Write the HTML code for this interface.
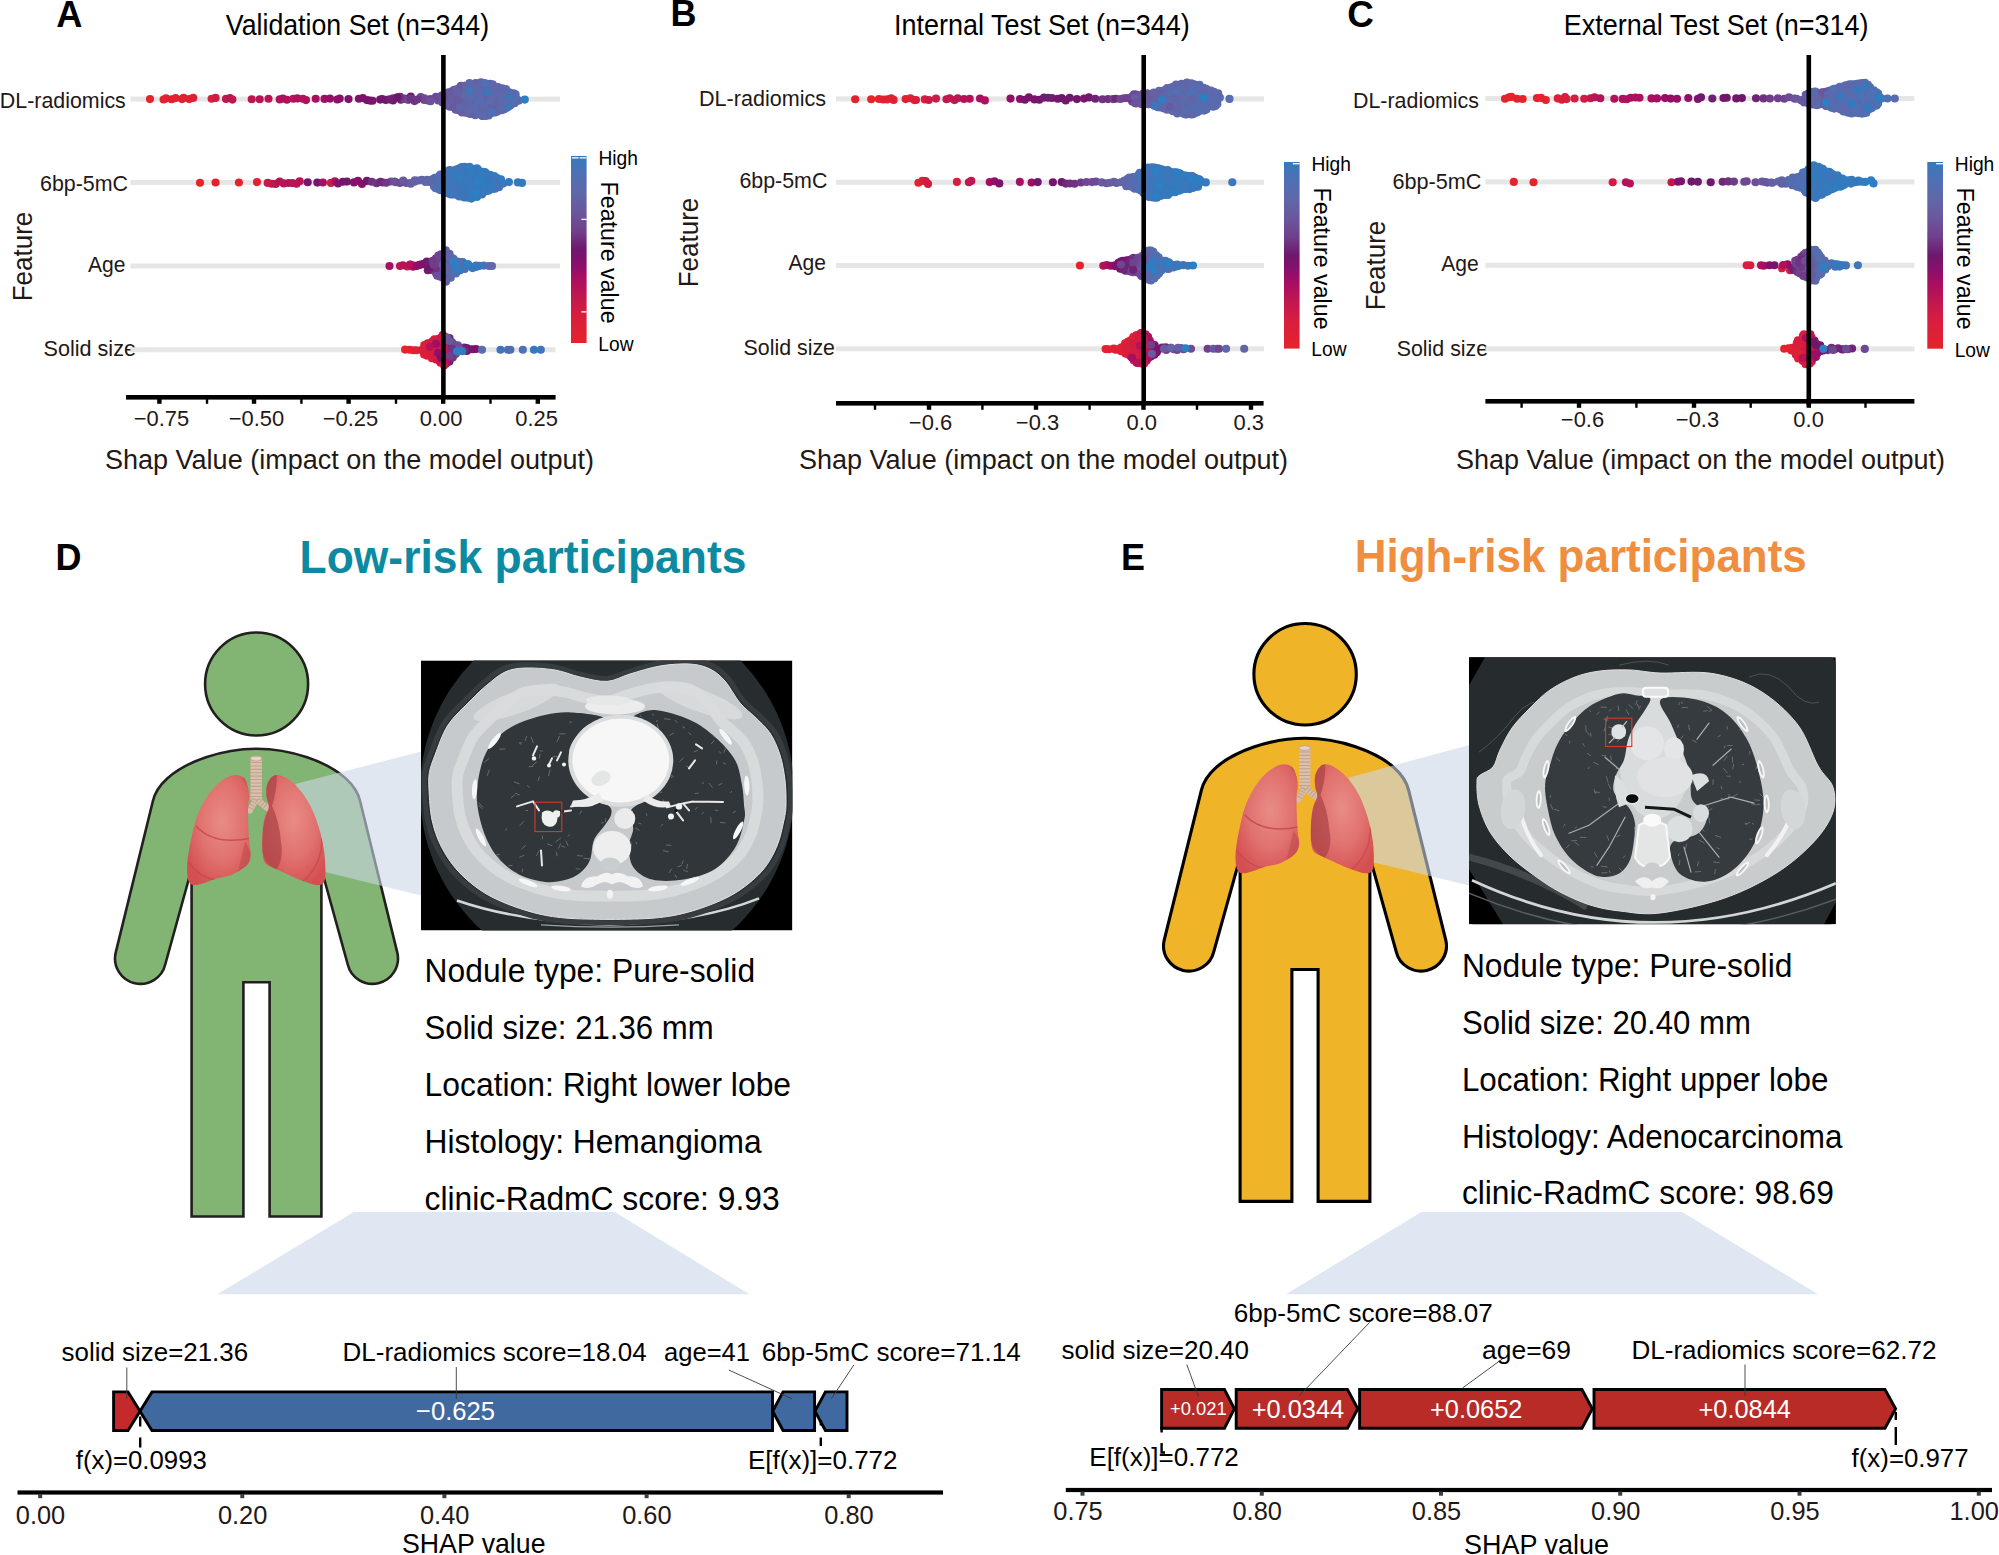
<!DOCTYPE html>
<html lang="en"><head><meta charset="utf-8"><title>SHAP analysis of the clinic-RadmC model</title>
<style>
html,body{margin:0;padding:0;background:#fff}
svg{display:block;font-family:"Liberation Sans", sans-serif}
.bw circle{r:4.05px}
</style></head>
<body>
<svg width="1999" height="1555" viewBox="0 0 1999 1555">
<rect width="1999" height="1555" fill="#fff"/>
<defs><radialGradient id="lgL" cx="0.55" cy="0.42" r="0.65"><stop offset="0" stop-color="#e98c86"/><stop offset="0.55" stop-color="#e0716e"/><stop offset="1" stop-color="#d44f50"/></radialGradient><radialGradient id="lgR" cx="0.5" cy="0.4" r="0.65"><stop offset="0" stop-color="#e98c86"/><stop offset="0.55" stop-color="#e0716e"/><stop offset="1" stop-color="#d44f50"/></radialGradient><clipPath id="clL"><path d="M235.9 775C239 775 242.1 775.9 244.1 778.1C246.1 780.3 247.3 785.1 248.2 788.4C249 791.6 249.2 794.7 249.2 797.6C249.2 800.5 248.4 801.8 248.2 805.9C248 810 248 816.1 248.2 822.3C248.4 828.5 248.8 837.8 249.2 842.9C249.6 848 250.8 850.1 250.8 853.2C250.8 856.3 250.3 859 249.2 861.4C248.1 863.8 247 865.4 244.1 867.6C241.2 869.8 236.5 872.9 231.7 874.8C226.9 876.7 219.9 877.5 215.3 878.9C210.7 880.3 207.6 882 204 883C200.4 884 196.3 885.4 193.7 885.1C191.1 884.8 189.6 883.8 188.5 881C187.4 878.2 187 873.2 187 868.6C187 864 187.6 859.2 188.5 853.2C189.4 847.2 191.2 838.6 192.6 832.6C194 826.6 194.9 822.4 196.8 817.2C198.7 812.1 201.1 806.7 204 801.7C206.9 796.7 210.7 791.2 214.3 787.3C217.9 783.4 222 780.1 225.6 778.1C229.2 776.1 232.8 775 235.9 775Z"/></clipPath><clipPath id="clR"><path d="M277 775C279.6 775 283 776.2 286.3 778.1C289.6 780 293.2 782.7 296.6 786.3C300 789.9 304 795.1 306.9 799.7C309.8 804.3 311.9 808.6 314.1 814.1C316.3 819.6 318.6 826.1 320.3 832.6C322 839.1 323.5 846.3 324.4 853.2C325.2 860.1 325.6 868.8 325.4 873.8C325.2 878.8 324.9 881.1 323.3 883C321.8 884.9 319.5 885.4 316.1 885.1C312.7 884.8 307.4 882.7 302.8 881C298.2 879.3 292.9 876.9 288.3 874.8C283.7 872.7 278.8 870.5 275 868.6C271.2 866.7 267.8 866.1 265.7 863.5C263.6 860.9 263.1 858.4 262.6 853.2C262.1 848.1 262.2 838.6 262.6 832.6C263 826.6 263.7 821.5 264.7 817.2C265.7 812.9 268.5 810.2 268.8 806.9C269.1 803.6 267.1 801 266.7 797.6C266.3 794.2 266 789.5 266.7 786.3C267.4 783 269.2 780 270.9 778.1C272.6 776.2 274.4 775 277 775Z"/></clipPath></defs>
<text x="56.2" y="27" font-size="37.51" font-weight="bold" textLength="26.2" lengthAdjust="spacingAndGlyphs">A</text><text x="670.6" y="26.3" font-size="37.51" font-weight="bold" textLength="26" lengthAdjust="spacingAndGlyphs">B</text><text x="1347.3" y="27" font-size="37.51" font-weight="bold" textLength="26.6" lengthAdjust="spacingAndGlyphs">C</text><text x="55.4" y="570" font-size="37.51" font-weight="bold" textLength="26" lengthAdjust="spacingAndGlyphs">D</text><text x="1121" y="570" font-size="37.51" font-weight="bold" textLength="24" lengthAdjust="spacingAndGlyphs">E</text>
<g><text x="225.8" y="35" font-size="29.18" textLength="263.3" lengthAdjust="spacingAndGlyphs">Validation Set (n=344)</text><text x="125.8" y="108" font-size="21.88" text-anchor="end" fill="#231815" textLength="126" lengthAdjust="spacingAndGlyphs">DL-radiomics</text><text x="128" y="191" font-size="21.88" text-anchor="end" fill="#231815" textLength="88" lengthAdjust="spacingAndGlyphs">6bp-5mC</text><text x="125.5" y="271.5" font-size="21.88" text-anchor="end" fill="#231815" textLength="37.5" lengthAdjust="spacingAndGlyphs">Age</text><text x="136" y="356" font-size="21.88" text-anchor="end" fill="#231815" textLength="92.5" lengthAdjust="spacingAndGlyphs">Solid size</text><text transform="translate(32,256.5) rotate(-90)" font-size="27.09" text-anchor="middle" fill="#231815" textLength="89.5" lengthAdjust="spacingAndGlyphs">Feature</text><rect x="130.4" y="96.6" width="429.6" height="5" fill="#e6e6e6"/><rect x="130.4" y="179.9" width="429.6" height="5" fill="#e6e6e6"/><rect x="130.4" y="263.5" width="429.6" height="5" fill="#e6e6e6"/><rect x="130.4" y="347.3" width="425.2" height="5" fill="#e6e6e6"/><g class="bw"><circle cx="150" cy="99.1" r="4.05" fill="#e5232b"/><circle cx="163.6" cy="99.5" r="4.05" fill="#e3222e"/><circle cx="166" cy="98.4" r="4.05" fill="#e2222f"/><circle cx="171.6" cy="99.2" r="4.05" fill="#e02132"/><circle cx="175.6" cy="98.1" r="4.05" fill="#e3222e"/><circle cx="182" cy="99.1" r="4.05" fill="#de2035"/><circle cx="183.6" cy="97.9" r="4.05" fill="#e02132"/><circle cx="189.2" cy="99.1" r="4.05" fill="#de2035"/><circle cx="193.2" cy="97.9" r="4.05" fill="#dd2037"/><circle cx="211.6" cy="98.7" r="4.05" fill="#da1f3c"/><circle cx="215.6" cy="97.9" r="4.05" fill="#cf1c44"/><circle cx="226" cy="98.9" r="4.05" fill="#c1184e"/><circle cx="230" cy="98" r="4.05" fill="#ba1654"/><circle cx="232.4" cy="99.6" r="4.05" fill="#be1751"/><circle cx="251.7" cy="99.3" r="4.05" fill="#bc1652"/><circle cx="259.7" cy="99.2" r="4.05" fill="#b61457"/><circle cx="268.5" cy="98.7" r="4.05" fill="#b91554"/><circle cx="279.7" cy="99.4" r="4.05" fill="#b0115c"/><circle cx="282.9" cy="98.5" r="4.05" fill="#ab0f60"/><circle cx="286.9" cy="99.7" r="4.05" fill="#b0115c"/><circle cx="293.3" cy="98.7" r="4.05" fill="#b61457"/><circle cx="297.3" cy="98.4" r="4.05" fill="#ac105f"/><circle cx="302.9" cy="98.7" r="4.05" fill="#b51358"/><circle cx="306" cy="100.1" r="4.05" fill="#b2125a"/><circle cx="315.7" cy="98.8" r="4.05" fill="#a70e62"/><circle cx="324.5" cy="98.9" r="4.05" fill="#a00e64"/><circle cx="330" cy="98.6" r="4.05" fill="#950f68"/><circle cx="337.3" cy="99.5" r="4.05" fill="#940f68"/><circle cx="339.7" cy="98.6" r="4.05" fill="#8b106a"/><circle cx="348.5" cy="99.1" r="4.05" fill="#80126c"/><circle cx="358.9" cy="98.8" r="4.05" fill="#7c136c"/><circle cx="362.9" cy="98.1" r="4.05" fill="#7c136c"/><circle cx="366.9" cy="100.1" r="4.05" fill="#7c136c"/><circle cx="370" cy="100.6" r="4.05" fill="#6e186c"/><circle cx="372.5" cy="100.7" r="4.05" fill="#7d136c"/><circle cx="509.7" cy="99.6" r="4.05" fill="#5c69ac"/><circle cx="430.5" cy="99.1" r="4.05" fill="#6e4691"/><circle cx="479.8" cy="95" r="4.05" fill="#5e68aa"/><circle cx="446.1" cy="100.5" r="4.05" fill="#685a9f"/><circle cx="420.7" cy="97" r="4.05" fill="#6f438e"/><circle cx="467.3" cy="106.9" r="4.05" fill="#5b6aac"/><circle cx="512.2" cy="103.8" r="4.05" fill="#526eb2"/><circle cx="438.9" cy="98.7" r="4.05" fill="#6e4892"/><circle cx="492.3" cy="110.7" r="4.05" fill="#6165a7"/><circle cx="504.5" cy="102.8" r="4.05" fill="#5c69ac"/><circle cx="438.2" cy="100.5" r="4.05" fill="#6c5098"/><circle cx="443.2" cy="100.4" r="4.05" fill="#68599f"/><circle cx="427.9" cy="100.4" r="4.05" fill="#70418d"/><circle cx="492.7" cy="84.4" r="4.05" fill="#6166a8"/><circle cx="469.9" cy="104.8" r="4.05" fill="#6460a4"/><circle cx="473.4" cy="114.3" r="4.05" fill="#6165a7"/><circle cx="476" cy="90.2" r="4.05" fill="#6264a7"/><circle cx="487.7" cy="89" r="4.05" fill="#6264a7"/><circle cx="404.9" cy="98.6" r="4.05" fill="#6f2e7d"/><circle cx="470.9" cy="87.4" r="4.05" fill="#6166a8"/><circle cx="458.7" cy="110.3" r="4.05" fill="#6264a7"/><circle cx="447.6" cy="105.4" r="4.05" fill="#6b5299"/><circle cx="408.8" cy="99.4" r="4.05" fill="#6f2678"/><circle cx="485" cy="103" r="4.05" fill="#576caf"/><circle cx="407.9" cy="99.8" r="4.05" fill="#703b88"/><circle cx="495.3" cy="86.7" r="4.05" fill="#5f68aa"/><circle cx="505.9" cy="89" r="4.05" fill="#5a6aad"/><circle cx="454.3" cy="104.2" r="4.05" fill="#655fa3"/><circle cx="385.7" cy="99.9" r="4.05" fill="#6e2073"/><circle cx="393.1" cy="98.3" r="4.05" fill="#6f2d7d"/><circle cx="462" cy="102.9" r="4.05" fill="#655ea2"/><circle cx="382.2" cy="99" r="4.05" fill="#71176c"/><circle cx="482.5" cy="89.3" r="4.05" fill="#6362a5"/><circle cx="461.9" cy="112.5" r="4.05" fill="#6560a4"/><circle cx="482.3" cy="85.5" r="4.05" fill="#6165a7"/><circle cx="494.6" cy="88.8" r="4.05" fill="#576caf"/><circle cx="442.4" cy="102.4" r="4.05" fill="#6b529a"/><circle cx="454.1" cy="89.8" r="4.05" fill="#675ba0"/><circle cx="456.3" cy="98.5" r="4.05" fill="#69589e"/><circle cx="471.4" cy="100.9" r="4.05" fill="#6264a7"/><circle cx="463.9" cy="103.1" r="4.05" fill="#6461a5"/><circle cx="477.2" cy="92.2" r="4.05" fill="#5a6aad"/><circle cx="461.9" cy="95.4" r="4.05" fill="#6362a5"/><circle cx="483.8" cy="112.3" r="4.05" fill="#6263a6"/><circle cx="400.8" cy="99.7" r="4.05" fill="#6f2576"/><circle cx="478.7" cy="108.5" r="4.05" fill="#546eb1"/><circle cx="468.7" cy="99.4" r="4.05" fill="#5d69ab"/><circle cx="485.8" cy="96" r="4.05" fill="#6264a6"/><circle cx="473.3" cy="94.2" r="4.05" fill="#6165a7"/><circle cx="469.5" cy="83.1" r="4.05" fill="#5d69ab"/><circle cx="404.3" cy="99" r="4.05" fill="#6e4792"/><circle cx="488.3" cy="98.4" r="4.05" fill="#566caf"/><circle cx="513.7" cy="93.2" r="4.05" fill="#536eb1"/><circle cx="498.9" cy="109.6" r="4.05" fill="#5070b3"/><circle cx="487.7" cy="96.4" r="4.05" fill="#5c69ac"/><circle cx="494.8" cy="105.9" r="4.05" fill="#5c69ab"/><circle cx="502.4" cy="88.4" r="4.05" fill="#576caf"/><circle cx="475.4" cy="115.2" r="4.05" fill="#596bae"/><circle cx="514.3" cy="97" r="4.05" fill="#5f67a9"/><circle cx="495.8" cy="103" r="4.05" fill="#5a6aad"/><circle cx="459.5" cy="87.9" r="4.05" fill="#6461a4"/><circle cx="476" cy="99.5" r="4.05" fill="#6461a5"/><circle cx="457.2" cy="106.6" r="4.05" fill="#6165a8"/><circle cx="495.9" cy="105.2" r="4.05" fill="#6165a8"/><circle cx="462.4" cy="98.8" r="4.05" fill="#655fa3"/><circle cx="465.6" cy="112.7" r="4.05" fill="#5f67a9"/><circle cx="476.9" cy="105.8" r="4.05" fill="#5f67a9"/><circle cx="505.9" cy="93.3" r="4.05" fill="#566caf"/><circle cx="472.5" cy="103.5" r="4.05" fill="#655ea3"/><circle cx="489.4" cy="105.2" r="4.05" fill="#5b6aad"/><circle cx="491.7" cy="113" r="4.05" fill="#5d69ab"/><circle cx="500.3" cy="97.1" r="4.05" fill="#5e68ab"/><circle cx="464.7" cy="92.9" r="4.05" fill="#6264a7"/><circle cx="455.7" cy="109.7" r="4.05" fill="#665ea2"/><circle cx="494" cy="109.4" r="4.05" fill="#596bad"/><circle cx="486.2" cy="88.5" r="4.05" fill="#5b6aad"/><circle cx="500.2" cy="91.2" r="4.05" fill="#5e68aa"/><circle cx="501.7" cy="91.6" r="4.05" fill="#536eb1"/><circle cx="451.9" cy="91.2" r="4.05" fill="#6460a4"/><circle cx="501.4" cy="100.8" r="4.05" fill="#6264a7"/><circle cx="471.4" cy="110.5" r="4.05" fill="#5d69ab"/><circle cx="504.8" cy="105.9" r="4.05" fill="#586bae"/><circle cx="467" cy="100.4" r="4.05" fill="#6264a7"/><circle cx="479.6" cy="106.5" r="4.05" fill="#5a6aad"/><circle cx="485.1" cy="91.8" r="4.05" fill="#6066a8"/><circle cx="514.7" cy="103.2" r="4.05" fill="#536eb2"/><circle cx="449.8" cy="98.2" r="4.05" fill="#675ca1"/><circle cx="514" cy="100.6" r="4.05" fill="#5b6aac"/><circle cx="457" cy="96.4" r="4.05" fill="#655fa3"/><circle cx="489.9" cy="83.7" r="4.05" fill="#6165a8"/><circle cx="506.8" cy="90.8" r="4.05" fill="#576caf"/><circle cx="482.6" cy="115.9" r="4.05" fill="#5e68aa"/><circle cx="475.8" cy="112.6" r="4.05" fill="#6264a7"/><circle cx="496.2" cy="98.6" r="4.05" fill="#6067a9"/><circle cx="410.8" cy="96.6" r="4.05" fill="#6f186c"/><circle cx="490.7" cy="94.1" r="4.05" fill="#6362a5"/><circle cx="414.5" cy="101.1" r="4.05" fill="#6f3583"/><circle cx="456.6" cy="102.3" r="4.05" fill="#69589e"/><circle cx="470.1" cy="114" r="4.05" fill="#6461a4"/><circle cx="473.8" cy="90.3" r="4.05" fill="#6067a9"/><circle cx="495.8" cy="108.2" r="4.05" fill="#6264a7"/><circle cx="476.8" cy="87.5" r="4.05" fill="#6460a4"/><circle cx="478" cy="114" r="4.05" fill="#6067a9"/><circle cx="502.7" cy="106.7" r="4.05" fill="#506fb3"/><circle cx="472.5" cy="97.5" r="4.05" fill="#5b6aac"/><circle cx="485.9" cy="108.6" r="4.05" fill="#6263a6"/><circle cx="478.4" cy="84.5" r="4.05" fill="#6166a8"/><circle cx="466.4" cy="97.2" r="4.05" fill="#6460a4"/><circle cx="465.7" cy="99" r="4.05" fill="#6067a9"/><circle cx="501.9" cy="103.1" r="4.05" fill="#5b69ac"/><circle cx="496.6" cy="96.7" r="4.05" fill="#566db0"/><circle cx="459.2" cy="94.9" r="4.05" fill="#6362a5"/><circle cx="410.7" cy="98.6" r="4.05" fill="#6f3381"/><circle cx="498.9" cy="88.1" r="4.05" fill="#5c69ab"/><circle cx="459.1" cy="104.5" r="4.05" fill="#6263a6"/><circle cx="482.8" cy="92.5" r="4.05" fill="#5c69ac"/><circle cx="424.5" cy="98.4" r="4.05" fill="#6d4c95"/><circle cx="474.9" cy="101.6" r="4.05" fill="#5b6aac"/><circle cx="485.4" cy="99.1" r="4.05" fill="#6265a7"/><circle cx="516.1" cy="98.2" r="4.05" fill="#546eb1"/><circle cx="501.7" cy="110.2" r="4.05" fill="#5e68aa"/><circle cx="470.4" cy="101.8" r="4.05" fill="#556db0"/><circle cx="464.5" cy="109.8" r="4.05" fill="#6363a6"/><circle cx="493.6" cy="92.9" r="4.05" fill="#566caf"/><circle cx="482.8" cy="102.7" r="4.05" fill="#566caf"/><circle cx="480.4" cy="86" r="4.05" fill="#6067a9"/><circle cx="461.5" cy="105.2" r="4.05" fill="#5f68aa"/><circle cx="490.3" cy="103.6" r="4.05" fill="#6560a4"/><circle cx="504" cy="96.3" r="4.05" fill="#586bae"/><circle cx="446.7" cy="104.7" r="4.05" fill="#665ea2"/><circle cx="467.5" cy="91.3" r="4.05" fill="#5b6aac"/><circle cx="449.8" cy="106.7" r="4.05" fill="#665da1"/><circle cx="492.4" cy="97.5" r="4.05" fill="#6067a9"/><circle cx="444.8" cy="93.5" r="4.05" fill="#665da2"/><circle cx="519" cy="100.6" r="4.05" fill="#576caf"/><circle cx="507.6" cy="97.1" r="4.05" fill="#5a6aad"/><circle cx="509.8" cy="92.6" r="4.05" fill="#5e68aa"/><circle cx="482.4" cy="82.9" r="4.05" fill="#6165a7"/><circle cx="475.8" cy="96.5" r="4.05" fill="#596bad"/><circle cx="515.6" cy="94.3" r="4.05" fill="#536eb2"/><circle cx="457.1" cy="89" r="4.05" fill="#6066a8"/><circle cx="499.6" cy="101.1" r="4.05" fill="#556db0"/><circle cx="506.6" cy="93.8" r="4.05" fill="#5d68ab"/><circle cx="470.8" cy="92.2" r="4.05" fill="#6263a6"/><circle cx="505" cy="99.1" r="4.05" fill="#546eb1"/><circle cx="449.2" cy="95.8" r="4.05" fill="#665da2"/><circle cx="454.1" cy="93.9" r="4.05" fill="#68599f"/><circle cx="468.9" cy="110.9" r="4.05" fill="#6264a6"/><circle cx="400.2" cy="96.9" r="4.05" fill="#6f3381"/><circle cx="476.6" cy="86.3" r="4.05" fill="#5e68aa"/><circle cx="424.3" cy="100" r="4.05" fill="#6e4892"/><circle cx="497.2" cy="111.8" r="4.05" fill="#5b6aac"/><circle cx="483.2" cy="96" r="4.05" fill="#5d69ab"/><circle cx="454.2" cy="98.1" r="4.05" fill="#6a579d"/><circle cx="451.2" cy="101" r="4.05" fill="#69599f"/><circle cx="510.5" cy="102.3" r="4.05" fill="#5b69ac"/><circle cx="501.1" cy="94.2" r="4.05" fill="#5c69ac"/><circle cx="488.3" cy="93.1" r="4.05" fill="#6067a9"/><circle cx="468" cy="113.1" r="4.05" fill="#6263a6"/><circle cx="462.7" cy="108.3" r="4.05" fill="#685ba0"/><circle cx="380.2" cy="99.6" r="4.05" fill="#73166c"/><circle cx="489.3" cy="102.6" r="4.05" fill="#5e68aa"/><circle cx="448.2" cy="101.9" r="4.05" fill="#69599e"/><circle cx="484.6" cy="99.9" r="4.05" fill="#6263a6"/><circle cx="498.1" cy="87" r="4.05" fill="#6067a9"/><circle cx="450.1" cy="102.9" r="4.05" fill="#6263a6"/><circle cx="462.3" cy="90" r="4.05" fill="#6362a5"/><circle cx="507.6" cy="103.9" r="4.05" fill="#506fb3"/><circle cx="417.2" cy="99.5" r="4.05" fill="#6f3482"/><circle cx="482" cy="101.7" r="4.05" fill="#6264a7"/><circle cx="489.8" cy="85.8" r="4.05" fill="#5b6aac"/><circle cx="480.2" cy="89.2" r="4.05" fill="#576caf"/><circle cx="494.9" cy="95.5" r="4.05" fill="#6362a5"/><circle cx="460.1" cy="98.1" r="4.05" fill="#665ea2"/><circle cx="491.6" cy="107.2" r="4.05" fill="#655ea3"/><circle cx="475.6" cy="83" r="4.05" fill="#655fa3"/><circle cx="446.7" cy="97.3" r="4.05" fill="#6b549b"/><circle cx="476.2" cy="93.2" r="4.05" fill="#655fa3"/><circle cx="461.8" cy="93.4" r="4.05" fill="#6265a7"/><circle cx="467.5" cy="110.3" r="4.05" fill="#5f67aa"/><circle cx="435.9" cy="96.7" r="4.05" fill="#6e4993"/><circle cx="504.3" cy="109.2" r="4.05" fill="#5b69ac"/><circle cx="502" cy="97.5" r="4.05" fill="#586bae"/><circle cx="487.8" cy="108.4" r="4.05" fill="#5f67a9"/><circle cx="473.9" cy="88.3" r="4.05" fill="#5d68ab"/><circle cx="482" cy="115.7" r="4.05" fill="#6166a8"/><circle cx="474.1" cy="105.4" r="4.05" fill="#6263a6"/><circle cx="506.5" cy="107.7" r="4.05" fill="#5c69ac"/><circle cx="448.5" cy="92.3" r="4.05" fill="#69599f"/><circle cx="430.6" cy="101.3" r="4.05" fill="#6b5299"/><circle cx="493.8" cy="98.9" r="4.05" fill="#5e68aa"/><circle cx="486.9" cy="112" r="4.05" fill="#6264a7"/><circle cx="485.5" cy="85.1" r="4.05" fill="#6263a6"/><circle cx="397.3" cy="97.3" r="4.05" fill="#70176c"/><circle cx="482" cy="109" r="4.05" fill="#6166a8"/><circle cx="495" cy="112.5" r="4.05" fill="#6264a7"/><circle cx="488.7" cy="115.5" r="4.05" fill="#5c69ac"/><circle cx="491.3" cy="90.8" r="4.05" fill="#596aad"/><circle cx="478.2" cy="102.9" r="4.05" fill="#586bae"/><circle cx="453.1" cy="107.1" r="4.05" fill="#68599f"/><circle cx="500.6" cy="103.2" r="4.05" fill="#576caf"/><circle cx="480.8" cy="112" r="4.05" fill="#576caf"/><circle cx="448.9" cy="99.7" r="4.05" fill="#665ea2"/><circle cx="478.1" cy="99.2" r="4.05" fill="#546db1"/><circle cx="478.7" cy="90" r="4.05" fill="#5f68aa"/><circle cx="500.8" cy="106.7" r="4.05" fill="#5e68ab"/><circle cx="466.3" cy="103.7" r="4.05" fill="#6067a9"/><circle cx="460.4" cy="91.4" r="4.05" fill="#655fa3"/><circle cx="480.2" cy="92.8" r="4.05" fill="#5b6aac"/><circle cx="465.8" cy="88.3" r="4.05" fill="#6460a4"/><circle cx="480.8" cy="82.4" r="4.05" fill="#6067a9"/><circle cx="494.7" cy="103" r="4.05" fill="#6264a7"/><circle cx="459.9" cy="106.7" r="4.05" fill="#5d68ab"/><circle cx="450.9" cy="95.3" r="4.05" fill="#665da2"/><circle cx="490.9" cy="88.4" r="4.05" fill="#6067a9"/><circle cx="510" cy="105.7" r="4.05" fill="#5f68aa"/><circle cx="441.7" cy="95.5" r="4.05" fill="#6c4e96"/><circle cx="499.1" cy="94.1" r="4.05" fill="#5e68ab"/><circle cx="464.8" cy="85.7" r="4.05" fill="#6363a6"/><circle cx="511.7" cy="94.9" r="4.05" fill="#5b6aad"/><circle cx="466.8" cy="88.8" r="4.05" fill="#5e68aa"/><circle cx="477" cy="95.8" r="4.05" fill="#5f67aa"/><circle cx="457.2" cy="92.1" r="4.05" fill="#6362a5"/><circle cx="469.3" cy="89.1" r="4.05" fill="#6166a8"/><circle cx="480.4" cy="99.5" r="4.05" fill="#586bae"/><circle cx="443.4" cy="97.3" r="4.05" fill="#6b5199"/><circle cx="472.4" cy="107.6" r="4.05" fill="#5f68aa"/><circle cx="486.9" cy="105.1" r="4.05" fill="#6263a6"/><circle cx="465" cy="95.7" r="4.05" fill="#5d69ab"/><circle cx="467.3" cy="93.9" r="4.05" fill="#5c69ab"/><circle cx="453.7" cy="100.3" r="4.05" fill="#655ea2"/><circle cx="514.9" cy="100" r="4.05" fill="#566db0"/><circle cx="460.9" cy="85.7" r="4.05" fill="#685ba0"/><circle cx="393" cy="100.5" r="4.05" fill="#71176c"/><circle cx="478" cy="110.9" r="4.05" fill="#5c69ac"/><circle cx="483.8" cy="106.1" r="4.05" fill="#576caf"/><circle cx="485.7" cy="115.9" r="4.05" fill="#586bae"/><circle cx="458" cy="100.5" r="4.05" fill="#685ba0"/><circle cx="496.7" cy="92.6" r="4.05" fill="#576caf"/><circle cx="497.7" cy="89.9" r="4.05" fill="#6066a9"/><circle cx="465.4" cy="105.7" r="4.05" fill="#6165a7"/><circle cx="490" cy="112.4" r="4.05" fill="#6264a6"/><circle cx="482.8" cy="108.7" r="4.05" fill="#6166a8"/><circle cx="469.9" cy="108.9" r="4.05" fill="#6166a8"/><circle cx="490.7" cy="100.8" r="4.05" fill="#5d69ab"/><circle cx="389.5" cy="99.4" r="4.05" fill="#6e2173"/><circle cx="484.9" cy="83.1" r="4.05" fill="#5070b4"/><circle cx="471.9" cy="84" r="4.05" fill="#6067a9"/><circle cx="506.7" cy="101.1" r="4.05" fill="#5e68aa"/><circle cx="466" cy="85.9" r="4.05" fill="#6166a8"/><circle cx="474.6" cy="108.9" r="4.05" fill="#5a6aad"/><circle cx="470.7" cy="95.8" r="4.05" fill="#5c69ab"/><circle cx="470" cy="91.1" r="4.05" fill="#4274b8"/><circle cx="487" cy="92.1" r="4.05" fill="#3d76ba"/><circle cx="508" cy="107.1" r="4.05" fill="#4274b8"/><circle cx="510" cy="97.1" r="4.05" fill="#3f75b9"/><circle cx="492" cy="112.1" r="4.05" fill="#4a72b6"/><circle cx="524.8" cy="99.6" r="4.05" fill="#2d7ec2"/><circle cx="200" cy="182.8" r="4.05" fill="#e5232b"/><circle cx="215.6" cy="182.5" r="4.05" fill="#e4222d"/><circle cx="238.9" cy="182.5" r="4.05" fill="#e4222d"/><circle cx="257" cy="182.1" r="4.05" fill="#e12230"/><circle cx="267.7" cy="182.9" r="4.05" fill="#c71a4a"/><circle cx="271.7" cy="183.7" r="4.05" fill="#c5194b"/><circle cx="275.7" cy="183.9" r="4.05" fill="#bc1652"/><circle cx="279.7" cy="181.5" r="4.05" fill="#b51358"/><circle cx="283.7" cy="183.4" r="4.05" fill="#b91554"/><circle cx="288.5" cy="183" r="4.05" fill="#b2125a"/><circle cx="292.5" cy="183.1" r="4.05" fill="#b71456"/><circle cx="296.5" cy="183.8" r="4.05" fill="#b61457"/><circle cx="299.7" cy="181.3" r="4.05" fill="#b71456"/><circle cx="307.7" cy="182.2" r="4.05" fill="#7a146c"/><circle cx="317.3" cy="182.6" r="4.05" fill="#74166c"/><circle cx="322.9" cy="182.5" r="4.05" fill="#a70e62"/><circle cx="330.9" cy="182.9" r="4.05" fill="#cc1b46"/><circle cx="334.9" cy="181.3" r="4.05" fill="#b0115c"/><circle cx="338" cy="183.5" r="4.05" fill="#80126c"/><circle cx="342.9" cy="181.7" r="4.05" fill="#70176c"/><circle cx="346.9" cy="181.6" r="4.05" fill="#76156c"/><circle cx="354" cy="182.4" r="4.05" fill="#7d136c"/><circle cx="358" cy="180.8" r="4.05" fill="#89106b"/><circle cx="362" cy="183.9" r="4.05" fill="#88106b"/><circle cx="366.9" cy="180.9" r="4.05" fill="#74166c"/><circle cx="371.7" cy="181.8" r="4.05" fill="#6f307f"/><circle cx="376.5" cy="183.3" r="4.05" fill="#6f3583"/><circle cx="450.1" cy="191.2" r="4.05" fill="#4075b9"/><circle cx="495.8" cy="185.5" r="4.05" fill="#2f7dc1"/><circle cx="464.1" cy="178.7" r="4.05" fill="#3a77bb"/><circle cx="446.1" cy="187.3" r="4.05" fill="#4175b9"/><circle cx="457.7" cy="175.8" r="4.05" fill="#4573b7"/><circle cx="450.7" cy="183.3" r="4.05" fill="#4275b9"/><circle cx="486.7" cy="177.2" r="4.05" fill="#3978bc"/><circle cx="477.6" cy="172.7" r="4.05" fill="#3a77bb"/><circle cx="455.2" cy="183" r="4.05" fill="#3b77bb"/><circle cx="492.3" cy="189" r="4.05" fill="#347abe"/><circle cx="496.5" cy="181.4" r="4.05" fill="#2f7dc1"/><circle cx="457" cy="172.5" r="4.05" fill="#4773b7"/><circle cx="498.8" cy="184.4" r="4.05" fill="#3878bc"/><circle cx="450.6" cy="181.4" r="4.05" fill="#3e76ba"/><circle cx="490.1" cy="177.3" r="4.05" fill="#2f7dc1"/><circle cx="432.2" cy="179.2" r="4.05" fill="#536eb2"/><circle cx="465.8" cy="182.8" r="4.05" fill="#327bbf"/><circle cx="410.7" cy="183.1" r="4.05" fill="#675ba0"/><circle cx="494" cy="182.5" r="4.05" fill="#2a80c4"/><circle cx="459.2" cy="175" r="4.05" fill="#3e76ba"/><circle cx="443.7" cy="173.4" r="4.05" fill="#5070b3"/><circle cx="495.1" cy="188.8" r="4.05" fill="#3d76ba"/><circle cx="454.6" cy="175.8" r="4.05" fill="#3579bd"/><circle cx="457.9" cy="183.1" r="4.05" fill="#2f7dc1"/><circle cx="459.3" cy="168.4" r="4.05" fill="#347abe"/><circle cx="473.4" cy="171.5" r="4.05" fill="#317cc0"/><circle cx="465.7" cy="194.4" r="4.05" fill="#3479bd"/><circle cx="496.7" cy="177.9" r="4.05" fill="#3a77bb"/><circle cx="477.8" cy="182" r="4.05" fill="#3479bd"/><circle cx="455.4" cy="184.8" r="4.05" fill="#337abe"/><circle cx="444.6" cy="189.1" r="4.05" fill="#4f70b4"/><circle cx="473" cy="190.2" r="4.05" fill="#4075b9"/><circle cx="486.2" cy="187.6" r="4.05" fill="#3977bb"/><circle cx="458.3" cy="186.1" r="4.05" fill="#4a72b6"/><circle cx="481.1" cy="184.1" r="4.05" fill="#2a80c4"/><circle cx="459.1" cy="183.6" r="4.05" fill="#3679bd"/><circle cx="454.5" cy="170.2" r="4.05" fill="#4673b7"/><circle cx="494.3" cy="179.4" r="4.05" fill="#347abe"/><circle cx="461.8" cy="167" r="4.05" fill="#3f76ba"/><circle cx="478.7" cy="178.6" r="4.05" fill="#4972b6"/><circle cx="406.2" cy="183" r="4.05" fill="#6b539a"/><circle cx="485.9" cy="184.9" r="4.05" fill="#3878bc"/><circle cx="475.5" cy="183.7" r="4.05" fill="#3978bc"/><circle cx="467.4" cy="184.5" r="4.05" fill="#347abe"/><circle cx="466.1" cy="184.9" r="4.05" fill="#3679bd"/><circle cx="482.8" cy="187.4" r="4.05" fill="#3b77bb"/><circle cx="471" cy="179.5" r="4.05" fill="#3579bd"/><circle cx="391" cy="181.5" r="4.05" fill="#6c5098"/><circle cx="457.8" cy="179" r="4.05" fill="#3a77bb"/><circle cx="486.2" cy="191" r="4.05" fill="#3a77bb"/><circle cx="429.2" cy="181.9" r="4.05" fill="#596bad"/><circle cx="445.8" cy="190.4" r="4.05" fill="#4374b8"/><circle cx="472.5" cy="196.8" r="4.05" fill="#3679bd"/><circle cx="461.5" cy="180.2" r="4.05" fill="#4673b7"/><circle cx="410.7" cy="183.7" r="4.05" fill="#6461a5"/><circle cx="490.6" cy="184.1" r="4.05" fill="#3a77bb"/><circle cx="482" cy="176.8" r="4.05" fill="#3e76ba"/><circle cx="469.6" cy="181.9" r="4.05" fill="#327bbf"/><circle cx="427" cy="179.8" r="4.05" fill="#5b6aac"/><circle cx="449.8" cy="172.9" r="4.05" fill="#307cc0"/><circle cx="483.8" cy="178.7" r="4.05" fill="#3a77bb"/><circle cx="435.6" cy="188.2" r="4.05" fill="#4872b6"/><circle cx="395.7" cy="182.2" r="4.05" fill="#6b5199"/><circle cx="474.5" cy="175.2" r="4.05" fill="#3878bc"/><circle cx="483.1" cy="181.6" r="4.05" fill="#3a77bb"/><circle cx="455.8" cy="180" r="4.05" fill="#337abe"/><circle cx="465.1" cy="189.4" r="4.05" fill="#327bbf"/><circle cx="467.8" cy="197.6" r="4.05" fill="#3977bb"/><circle cx="490.1" cy="174.7" r="4.05" fill="#3b77bb"/><circle cx="440.1" cy="184.5" r="4.05" fill="#4075b9"/><circle cx="439.9" cy="177" r="4.05" fill="#506fb3"/><circle cx="437.5" cy="179.4" r="4.05" fill="#516fb3"/><circle cx="476.3" cy="187" r="4.05" fill="#3978bc"/><circle cx="469.2" cy="186.9" r="4.05" fill="#3c77bb"/><circle cx="484.9" cy="172" r="4.05" fill="#327bbf"/><circle cx="463.6" cy="183.9" r="4.05" fill="#3b77bb"/><circle cx="425.5" cy="182" r="4.05" fill="#5e68ab"/><circle cx="491.1" cy="176.3" r="4.05" fill="#3c77bb"/><circle cx="435.3" cy="180.2" r="4.05" fill="#5d69ab"/><circle cx="494.3" cy="176" r="4.05" fill="#2e7ec2"/><circle cx="468.5" cy="174.3" r="4.05" fill="#3679bd"/><circle cx="493.3" cy="182.9" r="4.05" fill="#4b71b5"/><circle cx="508.9" cy="182.1" r="4.05" fill="#317cc0"/><circle cx="483.9" cy="192" r="4.05" fill="#3a77bb"/><circle cx="443.8" cy="175.8" r="4.05" fill="#4474b8"/><circle cx="480.1" cy="192.2" r="4.05" fill="#2c7fc3"/><circle cx="471.4" cy="198.6" r="4.05" fill="#327bbf"/><circle cx="481.9" cy="180.1" r="4.05" fill="#347abe"/><circle cx="499" cy="187.2" r="4.05" fill="#4573b7"/><circle cx="447.1" cy="175.4" r="4.05" fill="#4574b8"/><circle cx="483.7" cy="175" r="4.05" fill="#307cc0"/><circle cx="459.6" cy="171.5" r="4.05" fill="#3b77bb"/><circle cx="380.5" cy="181.8" r="4.05" fill="#6f2878"/><circle cx="489.3" cy="180.1" r="4.05" fill="#3579bd"/><circle cx="479.5" cy="185.4" r="4.05" fill="#347abe"/><circle cx="474.2" cy="181.5" r="4.05" fill="#2f7dc1"/><circle cx="464.8" cy="170.6" r="4.05" fill="#3d76ba"/><circle cx="382.8" cy="182.5" r="4.05" fill="#6f2a7a"/><circle cx="460.3" cy="186.8" r="4.05" fill="#327bbf"/><circle cx="492.6" cy="178.3" r="4.05" fill="#3d76ba"/><circle cx="468.2" cy="168.3" r="4.05" fill="#347abe"/><circle cx="459.3" cy="194.2" r="4.05" fill="#4673b7"/><circle cx="469.5" cy="191.4" r="4.05" fill="#3778bc"/><circle cx="439.5" cy="185.2" r="4.05" fill="#4f70b4"/><circle cx="451.5" cy="170.9" r="4.05" fill="#3e76ba"/><circle cx="445.2" cy="177.9" r="4.05" fill="#4574b8"/><circle cx="477.7" cy="188.5" r="4.05" fill="#3778bc"/><circle cx="394.6" cy="181.5" r="4.05" fill="#6b539a"/><circle cx="445.3" cy="181.2" r="4.05" fill="#516fb3"/><circle cx="503.2" cy="183.6" r="4.05" fill="#3b77bb"/><circle cx="414.5" cy="181.7" r="4.05" fill="#6362a5"/><circle cx="457.2" cy="195" r="4.05" fill="#3e76ba"/><circle cx="474.7" cy="192.9" r="4.05" fill="#337bbf"/><circle cx="482" cy="194.5" r="4.05" fill="#4374b8"/><circle cx="446.4" cy="192.9" r="4.05" fill="#4773b7"/><circle cx="443.4" cy="185.4" r="4.05" fill="#4b71b5"/><circle cx="454.8" cy="172.5" r="4.05" fill="#3c77bb"/><circle cx="446.6" cy="184.5" r="4.05" fill="#4573b7"/><circle cx="466.9" cy="177.6" r="4.05" fill="#3579bd"/><circle cx="488.6" cy="190.7" r="4.05" fill="#3a77bb"/><circle cx="478.1" cy="176" r="4.05" fill="#317cc0"/><circle cx="451.7" cy="190.4" r="4.05" fill="#3b77bb"/><circle cx="476.2" cy="180.6" r="4.05" fill="#3579bd"/><circle cx="482.7" cy="171.7" r="4.05" fill="#3479bd"/><circle cx="399.9" cy="182.9" r="4.05" fill="#6d4c95"/><circle cx="421.9" cy="179.7" r="4.05" fill="#6264a7"/><circle cx="450.2" cy="186.1" r="4.05" fill="#4274b8"/><circle cx="457.6" cy="191.2" r="4.05" fill="#3b77bb"/><circle cx="464.6" cy="175.5" r="4.05" fill="#4175b9"/><circle cx="460.6" cy="180.2" r="4.05" fill="#3a77bb"/><circle cx="463.6" cy="171.7" r="4.05" fill="#3579bd"/><circle cx="469.1" cy="180.7" r="4.05" fill="#327bbf"/><circle cx="464.9" cy="172.9" r="4.05" fill="#3a77bb"/><circle cx="434" cy="186.4" r="4.05" fill="#556db0"/><circle cx="459.9" cy="191.1" r="4.05" fill="#3e76ba"/><circle cx="448.5" cy="182.4" r="4.05" fill="#3b77bb"/><circle cx="477" cy="168.4" r="4.05" fill="#4275b9"/><circle cx="451.5" cy="194.4" r="4.05" fill="#3878bc"/><circle cx="475.6" cy="177.7" r="4.05" fill="#347abe"/><circle cx="463.7" cy="177.3" r="4.05" fill="#327bbf"/><circle cx="435.4" cy="183.4" r="4.05" fill="#536eb1"/><circle cx="483.1" cy="188.5" r="4.05" fill="#3f76ba"/><circle cx="485.9" cy="173.1" r="4.05" fill="#3978bc"/><circle cx="449.7" cy="170" r="4.05" fill="#3a77bb"/><circle cx="468.5" cy="190.6" r="4.05" fill="#3579bd"/><circle cx="458.2" cy="188.4" r="4.05" fill="#4573b7"/><circle cx="464.4" cy="166.7" r="4.05" fill="#3d76ba"/><circle cx="478.2" cy="169.8" r="4.05" fill="#337abe"/><circle cx="471.9" cy="194.4" r="4.05" fill="#347abe"/><circle cx="452.1" cy="187.3" r="4.05" fill="#3978bc"/><circle cx="449.7" cy="176.2" r="4.05" fill="#4a72b6"/><circle cx="433.2" cy="181.9" r="4.05" fill="#4d71b5"/><circle cx="475.3" cy="192.6" r="4.05" fill="#4673b7"/><circle cx="463.5" cy="197.1" r="4.05" fill="#4773b7"/><circle cx="463.4" cy="174.2" r="4.05" fill="#337abe"/><circle cx="414.8" cy="180.2" r="4.05" fill="#6363a6"/><circle cx="473.7" cy="168.8" r="4.05" fill="#3579bd"/><circle cx="453.3" cy="190.9" r="4.05" fill="#3a77bb"/><circle cx="468.7" cy="194.2" r="4.05" fill="#317cc0"/><circle cx="478" cy="195.1" r="4.05" fill="#317cc0"/><circle cx="462.4" cy="187.7" r="4.05" fill="#3c76ba"/><circle cx="403.3" cy="180.5" r="4.05" fill="#69599e"/><circle cx="482.4" cy="190.3" r="4.05" fill="#3a77bb"/><circle cx="470.4" cy="188.2" r="4.05" fill="#317bbf"/><circle cx="491.5" cy="186" r="4.05" fill="#337abe"/><circle cx="443.8" cy="182.7" r="4.05" fill="#4f70b4"/><circle cx="459.3" cy="196.4" r="4.05" fill="#3d76ba"/><circle cx="438.5" cy="182.4" r="4.05" fill="#526eb2"/><circle cx="484.8" cy="185.2" r="4.05" fill="#307cc0"/><circle cx="450.2" cy="187.8" r="4.05" fill="#3778bc"/><circle cx="386.3" cy="182.8" r="4.05" fill="#703885"/><circle cx="490.6" cy="186.5" r="4.05" fill="#337abe"/><circle cx="438.4" cy="189" r="4.05" fill="#516fb3"/><circle cx="477.4" cy="189.4" r="4.05" fill="#3579bd"/><circle cx="476.9" cy="197" r="4.05" fill="#347abe"/><circle cx="462.8" cy="190.1" r="4.05" fill="#3a77bb"/><circle cx="446.1" cy="171.3" r="4.05" fill="#4773b7"/><circle cx="470.2" cy="185" r="4.05" fill="#347abe"/><circle cx="501" cy="179.3" r="4.05" fill="#347abe"/><circle cx="440.4" cy="190.2" r="4.05" fill="#4673b7"/><circle cx="443.7" cy="179.2" r="4.05" fill="#4474b8"/><circle cx="469.5" cy="166.7" r="4.05" fill="#337abe"/><circle cx="487.9" cy="180.1" r="4.05" fill="#3579bd"/><circle cx="442" cy="187.1" r="4.05" fill="#4c71b5"/><circle cx="464.8" cy="197.5" r="4.05" fill="#3c76ba"/><circle cx="439" cy="176.2" r="4.05" fill="#566cb0"/><circle cx="472.3" cy="178.3" r="4.05" fill="#4374b8"/><circle cx="443.8" cy="191" r="4.05" fill="#4a72b6"/><circle cx="465.5" cy="191.8" r="4.05" fill="#3579bd"/><circle cx="475.8" cy="171.6" r="4.05" fill="#3778bc"/><circle cx="449.9" cy="180" r="4.05" fill="#3f76ba"/><circle cx="418.4" cy="180.5" r="4.05" fill="#6263a6"/><circle cx="469.2" cy="171.6" r="4.05" fill="#3679bd"/><circle cx="463.6" cy="193.6" r="4.05" fill="#3c76ba"/><circle cx="476.2" cy="175.3" r="4.05" fill="#3679bd"/><circle cx="451.4" cy="177.4" r="4.05" fill="#4474b8"/><circle cx="452.7" cy="174.1" r="4.05" fill="#347abe"/><circle cx="459" cy="177.7" r="4.05" fill="#317bbf"/><circle cx="453.9" cy="189" r="4.05" fill="#4374b8"/><circle cx="456.8" cy="169.2" r="4.05" fill="#3f75b9"/><circle cx="469.6" cy="175.8" r="4.05" fill="#3b77bb"/><circle cx="472" cy="172.5" r="4.05" fill="#3b77bb"/><circle cx="434.8" cy="177.8" r="4.05" fill="#4b71b5"/><circle cx="481.8" cy="174.1" r="4.05" fill="#327bbf"/><circle cx="440.4" cy="180.2" r="4.05" fill="#576caf"/><circle cx="449.7" cy="194.1" r="4.05" fill="#3b77bb"/><circle cx="472.3" cy="187.6" r="4.05" fill="#4075b9"/><circle cx="430.5" cy="180.2" r="4.05" fill="#6166a8"/><circle cx="440.3" cy="174.6" r="4.05" fill="#556db0"/><circle cx="472.2" cy="184" r="4.05" fill="#3679bd"/><circle cx="470.8" cy="170.1" r="4.05" fill="#327bbf"/><circle cx="453.7" cy="194.5" r="4.05" fill="#4075b9"/><circle cx="476" cy="192.4" r="4.05" fill="#2b7fc3"/><circle cx="478" cy="181.4" r="4.05" fill="#2d7ec2"/><circle cx="517.9" cy="182.4" r="4.05" fill="#3579bd"/><circle cx="522" cy="182.9" r="4.05" fill="#3579bd"/><circle cx="389.5" cy="266" r="4.05" fill="#a80e62"/><circle cx="451" cy="267.2" r="4.05" fill="#5c69ac"/><circle cx="423.1" cy="264.2" r="4.05" fill="#73166c"/><circle cx="444.3" cy="266.5" r="4.05" fill="#665da2"/><circle cx="443.1" cy="259.4" r="4.05" fill="#69589e"/><circle cx="445.3" cy="269.6" r="4.05" fill="#6b5299"/><circle cx="441.1" cy="267.7" r="4.05" fill="#6e4992"/><circle cx="457.9" cy="269.6" r="4.05" fill="#3d76ba"/><circle cx="446.3" cy="262.4" r="4.05" fill="#6362a5"/><circle cx="447.4" cy="254" r="4.05" fill="#5c69ac"/><circle cx="429.6" cy="269.9" r="4.05" fill="#6f2476"/><circle cx="427.8" cy="264.9" r="4.05" fill="#6f2778"/><circle cx="453.2" cy="261.6" r="4.05" fill="#576caf"/><circle cx="450.9" cy="263.6" r="4.05" fill="#556db0"/><circle cx="448.7" cy="262.2" r="4.05" fill="#586bae"/><circle cx="435" cy="265.3" r="4.05" fill="#6f2375"/><circle cx="443.1" cy="275.9" r="4.05" fill="#6a569d"/><circle cx="445" cy="255.9" r="4.05" fill="#675ca1"/><circle cx="445.6" cy="256.9" r="4.05" fill="#6a559c"/><circle cx="436" cy="258.4" r="4.05" fill="#703885"/><circle cx="419.9" cy="264.7" r="4.05" fill="#7e136c"/><circle cx="445.9" cy="281.8" r="4.05" fill="#675ca1"/><circle cx="434.2" cy="270.5" r="4.05" fill="#703886"/><circle cx="440.4" cy="260.9" r="4.05" fill="#6f4590"/><circle cx="442.4" cy="257.2" r="4.05" fill="#6c4e97"/><circle cx="456.9" cy="267.9" r="4.05" fill="#556db0"/><circle cx="451.1" cy="274" r="4.05" fill="#556db0"/><circle cx="440.2" cy="271.2" r="4.05" fill="#6f4590"/><circle cx="445.8" cy="250.2" r="4.05" fill="#6461a5"/><circle cx="449.5" cy="268.3" r="4.05" fill="#586bae"/><circle cx="455.2" cy="266.6" r="4.05" fill="#586bae"/><circle cx="436.1" cy="273.6" r="4.05" fill="#6f4690"/><circle cx="464.8" cy="269" r="4.05" fill="#526eb2"/><circle cx="439.2" cy="265.6" r="4.05" fill="#6c4f97"/><circle cx="445" cy="254.1" r="4.05" fill="#6363a6"/><circle cx="460.6" cy="262.4" r="4.05" fill="#4872b6"/><circle cx="448.9" cy="256.1" r="4.05" fill="#596bae"/><circle cx="419.6" cy="264.8" r="4.05" fill="#8b106b"/><circle cx="462.8" cy="262" r="4.05" fill="#4673b7"/><circle cx="438.5" cy="259.3" r="4.05" fill="#6f3483"/><circle cx="410" cy="264.7" r="4.05" fill="#b2125a"/><circle cx="443.5" cy="278.2" r="4.05" fill="#6b549b"/><circle cx="439.2" cy="273.4" r="4.05" fill="#6f428e"/><circle cx="434.4" cy="268.2" r="4.05" fill="#703a88"/><circle cx="434.9" cy="267.5" r="4.05" fill="#70418d"/><circle cx="413.1" cy="266.7" r="4.05" fill="#ad105e"/><circle cx="438.2" cy="262.9" r="4.05" fill="#6f448f"/><circle cx="448.6" cy="260.3" r="4.05" fill="#5c69ab"/><circle cx="457.7" cy="261.5" r="4.05" fill="#576caf"/><circle cx="430.1" cy="262.3" r="4.05" fill="#6e1e70"/><circle cx="407.2" cy="266.5" r="4.05" fill="#c3194d"/><circle cx="436.6" cy="260.9" r="4.05" fill="#70408c"/><circle cx="440.9" cy="254.3" r="4.05" fill="#6f438e"/><circle cx="427.8" cy="270.2" r="4.05" fill="#6e1d70"/><circle cx="446.4" cy="259.3" r="4.05" fill="#5d69ab"/><circle cx="450.7" cy="277.8" r="4.05" fill="#576caf"/><circle cx="446.3" cy="268.4" r="4.05" fill="#6460a4"/><circle cx="413.7" cy="265.5" r="4.05" fill="#950f68"/><circle cx="410.2" cy="264.5" r="4.05" fill="#b3125a"/><circle cx="436.7" cy="269.7" r="4.05" fill="#6f438f"/><circle cx="450.7" cy="275.7" r="4.05" fill="#6166a8"/><circle cx="431.7" cy="264" r="4.05" fill="#6f307f"/><circle cx="402.8" cy="265.2" r="4.05" fill="#b41358"/><circle cx="446.5" cy="276.1" r="4.05" fill="#6362a5"/><circle cx="431.1" cy="268.1" r="4.05" fill="#6e2073"/><circle cx="449.2" cy="266" r="4.05" fill="#596bad"/><circle cx="456" cy="273.5" r="4.05" fill="#526eb2"/><circle cx="453.6" cy="258.8" r="4.05" fill="#556db0"/><circle cx="462.7" cy="266.3" r="4.05" fill="#4f70b4"/><circle cx="423.4" cy="263.7" r="4.05" fill="#78156c"/><circle cx="416.9" cy="265.9" r="4.05" fill="#8e106a"/><circle cx="479.3" cy="265.9" r="4.05" fill="#4175b9"/><circle cx="461.2" cy="267.4" r="4.05" fill="#4c71b5"/><circle cx="437.5" cy="270" r="4.05" fill="#6f3180"/><circle cx="461.4" cy="264.1" r="4.05" fill="#4b71b5"/><circle cx="452.1" cy="270.6" r="4.05" fill="#576caf"/><circle cx="453.9" cy="270.2" r="4.05" fill="#4e70b4"/><circle cx="444.9" cy="262.9" r="4.05" fill="#655ea3"/><circle cx="476.1" cy="265.5" r="4.05" fill="#4573b7"/><circle cx="446" cy="278.4" r="4.05" fill="#6363a6"/><circle cx="429.1" cy="266.8" r="4.05" fill="#6e186c"/><circle cx="461.7" cy="269" r="4.05" fill="#4d71b5"/><circle cx="447.1" cy="272" r="4.05" fill="#665ea2"/><circle cx="440.3" cy="276.8" r="4.05" fill="#6d4c95"/><circle cx="400" cy="266" r="4.05" fill="#b81555"/><circle cx="457.5" cy="264.2" r="4.05" fill="#4c71b5"/><circle cx="426.8" cy="261.6" r="4.05" fill="#6e1c6f"/><circle cx="455.7" cy="262.1" r="4.05" fill="#4773b7"/><circle cx="472.5" cy="268.1" r="4.05" fill="#3a77bb"/><circle cx="442.3" cy="274.9" r="4.05" fill="#6e4691"/><circle cx="483.9" cy="265.6" r="4.05" fill="#3d76ba"/><circle cx="443.1" cy="272" r="4.05" fill="#6c4d96"/><circle cx="452.2" cy="258.1" r="4.05" fill="#566caf"/><circle cx="472.4" cy="266.8" r="4.05" fill="#4873b7"/><circle cx="438.4" cy="255.6" r="4.05" fill="#6f458f"/><circle cx="442.5" cy="265" r="4.05" fill="#665da2"/><circle cx="459.8" cy="270.5" r="4.05" fill="#4274b8"/><circle cx="433.5" cy="264.8" r="4.05" fill="#703b88"/><circle cx="468.5" cy="265.8" r="4.05" fill="#3878bc"/><circle cx="437.3" cy="275.8" r="4.05" fill="#6c4f97"/><circle cx="448.3" cy="271.4" r="4.05" fill="#5a6aad"/><circle cx="449.6" cy="253.9" r="4.05" fill="#6264a7"/><circle cx="446" cy="266.6" r="4.05" fill="#6264a7"/><circle cx="432.7" cy="260.8" r="4.05" fill="#703b88"/><circle cx="453" cy="262" r="4.05" fill="#2d7ec2"/><circle cx="457" cy="269" r="4.05" fill="#2d7ec2"/><circle cx="468" cy="264" r="4.05" fill="#2d7ec2"/><circle cx="476" cy="267" r="4.05" fill="#3579bd"/><circle cx="489" cy="266" r="4.05" fill="#5d69ab"/><circle cx="492" cy="266" r="4.05" fill="#6067a9"/><circle cx="431.7" cy="345.5" r="4.05" fill="#ca1a48"/><circle cx="450" cy="355.3" r="4.05" fill="#6f2a7a"/><circle cx="416.2" cy="350.3" r="4.05" fill="#e02132"/><circle cx="476" cy="349" r="4.05" fill="#83116c"/><circle cx="429.3" cy="349.9" r="4.05" fill="#d01c44"/><circle cx="426.7" cy="350.5" r="4.05" fill="#cf1c44"/><circle cx="432" cy="355.5" r="4.05" fill="#de2035"/><circle cx="435.3" cy="352.5" r="4.05" fill="#c1184e"/><circle cx="441.1" cy="349.5" r="4.05" fill="#c81a49"/><circle cx="447.4" cy="340.1" r="4.05" fill="#83116c"/><circle cx="443.7" cy="358.3" r="4.05" fill="#c3194d"/><circle cx="440.5" cy="362.8" r="4.05" fill="#d71e3e"/><circle cx="442.8" cy="350.2" r="4.05" fill="#c91a49"/><circle cx="424.1" cy="354.5" r="4.05" fill="#de2036"/><circle cx="428.4" cy="346.5" r="4.05" fill="#dd2037"/><circle cx="440.4" cy="346.6" r="4.05" fill="#d31d42"/><circle cx="425.3" cy="347.7" r="4.05" fill="#d91e3d"/><circle cx="451.5" cy="350.8" r="4.05" fill="#6e4892"/><circle cx="440.2" cy="352.8" r="4.05" fill="#cb1b47"/><circle cx="445.6" cy="347.3" r="4.05" fill="#c5194c"/><circle cx="441.3" cy="344" r="4.05" fill="#ce1c45"/><circle cx="446.7" cy="343" r="4.05" fill="#960f67"/><circle cx="435.9" cy="343.5" r="4.05" fill="#d11c43"/><circle cx="409.7" cy="349.7" r="4.05" fill="#e5232c"/><circle cx="453.9" cy="353.8" r="4.05" fill="#6f428d"/><circle cx="434.2" cy="355.7" r="4.05" fill="#d41d41"/><circle cx="440.8" cy="337.8" r="4.05" fill="#c71a4a"/><circle cx="442.7" cy="353.1" r="4.05" fill="#d91f3c"/><circle cx="426.7" cy="355.6" r="4.05" fill="#db1f39"/><circle cx="455.8" cy="354.1" r="4.05" fill="#6c4e96"/><circle cx="428.8" cy="353" r="4.05" fill="#cf1c45"/><circle cx="450.8" cy="345.9" r="4.05" fill="#6f3281"/><circle cx="473" cy="349.2" r="4.05" fill="#7d136c"/><circle cx="451.4" cy="354" r="4.05" fill="#703d8a"/><circle cx="427.6" cy="343.2" r="4.05" fill="#da1f3b"/><circle cx="405.1" cy="349.6" r="4.05" fill="#e5232b"/><circle cx="443.9" cy="340.5" r="4.05" fill="#c61a4a"/><circle cx="455.1" cy="351.2" r="4.05" fill="#6b559b"/><circle cx="464.3" cy="347.6" r="4.05" fill="#6f2d7c"/><circle cx="433.8" cy="351.7" r="4.05" fill="#d91e3d"/><circle cx="466.8" cy="350.9" r="4.05" fill="#70176c"/><circle cx="431.1" cy="356.7" r="4.05" fill="#d01c44"/><circle cx="449.5" cy="361.6" r="4.05" fill="#6e1e70"/><circle cx="432.4" cy="341.3" r="4.05" fill="#d11c43"/><circle cx="447.2" cy="353.2" r="4.05" fill="#9e0f65"/><circle cx="446.3" cy="337.2" r="4.05" fill="#b91555"/><circle cx="436" cy="346.2" r="4.05" fill="#d61d40"/><circle cx="457.9" cy="345.4" r="4.05" fill="#69599f"/><circle cx="433.1" cy="348" r="4.05" fill="#d01c44"/><circle cx="438.6" cy="344.3" r="4.05" fill="#d61e3f"/><circle cx="430.6" cy="346.3" r="4.05" fill="#d31d42"/><circle cx="425" cy="350.9" r="4.05" fill="#d91e3d"/><circle cx="447.6" cy="348.2" r="4.05" fill="#80126c"/><circle cx="428" cy="353.6" r="4.05" fill="#d91e3d"/><circle cx="444" cy="346.5" r="4.05" fill="#c1184e"/><circle cx="440.5" cy="340.2" r="4.05" fill="#c71a4a"/><circle cx="448" cy="357.6" r="4.05" fill="#7c136c"/><circle cx="452.8" cy="357.5" r="4.05" fill="#703785"/><circle cx="430" cy="343.5" r="4.05" fill="#d41d41"/><circle cx="436.9" cy="347.6" r="4.05" fill="#d01c44"/><circle cx="438.7" cy="338.7" r="4.05" fill="#cc1b47"/><circle cx="434.4" cy="339.2" r="4.05" fill="#d51d40"/><circle cx="448.5" cy="345.4" r="4.05" fill="#7a146c"/><circle cx="449.3" cy="341.9" r="4.05" fill="#6e1d70"/><circle cx="469.8" cy="349.3" r="4.05" fill="#7f126c"/><circle cx="454.6" cy="344.9" r="4.05" fill="#6b549b"/><circle cx="440.4" cy="359.1" r="4.05" fill="#bc1652"/><circle cx="431.8" cy="358.2" r="4.05" fill="#d81e3e"/><circle cx="445.9" cy="356.8" r="4.05" fill="#bb1653"/><circle cx="452.1" cy="342.3" r="4.05" fill="#6d4d95"/><circle cx="443.7" cy="361.9" r="4.05" fill="#d51d40"/><circle cx="424.3" cy="345.1" r="4.05" fill="#da1f3b"/><circle cx="421.2" cy="350.1" r="4.05" fill="#da1f3b"/><circle cx="443.9" cy="337.8" r="4.05" fill="#d91e3d"/><circle cx="438.3" cy="357.8" r="4.05" fill="#d11c43"/><circle cx="437" cy="354.5" r="4.05" fill="#c1184f"/><circle cx="413.5" cy="350.2" r="4.05" fill="#e2222f"/><circle cx="437.8" cy="350.7" r="4.05" fill="#cd1b46"/><circle cx="435.2" cy="349.7" r="4.05" fill="#d81e3e"/><circle cx="446.3" cy="363.5" r="4.05" fill="#ac105e"/><circle cx="449.3" cy="351.2" r="4.05" fill="#6e1d70"/><circle cx="446.4" cy="359" r="4.05" fill="#b51457"/><circle cx="466.7" cy="348" r="4.05" fill="#6e196d"/><circle cx="444.1" cy="365.5" r="4.05" fill="#c81a49"/><circle cx="438.4" cy="341.7" r="4.05" fill="#d11c43"/><circle cx="458.9" cy="347.2" r="4.05" fill="#6c4f97"/><circle cx="441.7" cy="356" r="4.05" fill="#d21d42"/><circle cx="442.9" cy="334.8" r="4.05" fill="#cc1b46"/><circle cx="444.7" cy="343.7" r="4.05" fill="#bb1653"/><circle cx="435.9" cy="359.4" r="4.05" fill="#d21d42"/><circle cx="445.3" cy="349.8" r="4.05" fill="#c6194b"/><circle cx="464.5" cy="350.3" r="4.05" fill="#6f2e7d"/><circle cx="456.2" cy="349.6" r="4.05" fill="#6d4d95"/><circle cx="444.5" cy="355.5" r="4.05" fill="#ba1554"/><circle cx="454.1" cy="348.1" r="4.05" fill="#6a569d"/><circle cx="452.1" cy="348.6" r="4.05" fill="#6f3482"/><circle cx="449.5" cy="338.1" r="4.05" fill="#6f2476"/><circle cx="439.3" cy="360.7" r="4.05" fill="#c81a49"/><circle cx="436" cy="343.8" r="4.05" fill="#9b0f66"/><circle cx="438" cy="352.8" r="4.05" fill="#930f68"/><circle cx="441" cy="357.8" r="4.05" fill="#7f126c"/><circle cx="430" cy="346.8" r="4.05" fill="#b41358"/><circle cx="449" cy="340.8" r="4.05" fill="#685a9f"/><circle cx="450" cy="355.8" r="4.05" fill="#70408c"/><circle cx="447" cy="337.8" r="4.05" fill="#6a579d"/><circle cx="457" cy="351.3" r="4.05" fill="#2d7ec2"/><circle cx="462" cy="351.3" r="4.05" fill="#2d7ec2"/><circle cx="460" cy="350.8" r="4.05" fill="#327bbf"/><circle cx="482" cy="349.8" r="4.05" fill="#586cae"/><circle cx="500.5" cy="349.8" r="4.05" fill="#3d76ba"/><circle cx="507.9" cy="349.8" r="4.05" fill="#4f70b4"/><circle cx="510.4" cy="349.8" r="4.05" fill="#526eb2"/><circle cx="522.8" cy="349.8" r="4.05" fill="#4f70b4"/><circle cx="534" cy="349.8" r="4.05" fill="#3579bd"/><circle cx="540.8" cy="349.8" r="4.05" fill="#3d76ba"/></g><rect x="126" y="395" width="429.6" height="4.6" fill="#000"/><rect x="157.2" y="397.3" width="4.4" height="6.5" fill="#000"/><rect x="251.8" y="397.3" width="4.4" height="6.5" fill="#000"/><rect x="346.4" y="397.3" width="4.4" height="6.5" fill="#000"/><rect x="441" y="397.3" width="4.4" height="6.5" fill="#000"/><rect x="535.6" y="397.3" width="4.4" height="6.5" fill="#000"/><rect x="205.8" y="397.3" width="2.4" height="6.5" fill="#000"/><rect x="300.2" y="397.3" width="2.4" height="6.5" fill="#000"/><rect x="394.8" y="397.3" width="2.4" height="6.5" fill="#000"/><rect x="489.3" y="397.3" width="2.4" height="6.5" fill="#000"/><rect x="441.1" y="55" width="4.6" height="342.3" fill="#000"/><text x="161.5" y="426" font-size="22.09" text-anchor="middle" fill="#231815" textLength="55.5" lengthAdjust="spacingAndGlyphs">−0.75</text><text x="256.5" y="426" font-size="22.09" text-anchor="middle" fill="#231815" textLength="55.5" lengthAdjust="spacingAndGlyphs">−0.50</text><text x="350.5" y="426" font-size="22.09" text-anchor="middle" fill="#231815" textLength="55.5" lengthAdjust="spacingAndGlyphs">−0.25</text><text x="441" y="426" font-size="22.09" text-anchor="middle" fill="#231815" textLength="42.7" lengthAdjust="spacingAndGlyphs">0.00</text><text x="536.6" y="426" font-size="22.09" text-anchor="middle" fill="#231815" textLength="42.7" lengthAdjust="spacingAndGlyphs">0.25</text><text x="105" y="469" font-size="27.61" fill="#231815" textLength="489" lengthAdjust="spacingAndGlyphs">Shap Value (impact on the model output)</text><linearGradient id="cbA" x1="0" y1="0" x2="0" y2="1"><stop offset="0.000" stop-color="#3579bd"/><stop offset="0.100" stop-color="#4f70b4"/><stop offset="0.200" stop-color="#6067a9"/><stop offset="0.300" stop-color="#6a579d"/><stop offset="0.400" stop-color="#70408c"/><stop offset="0.500" stop-color="#6e186c"/><stop offset="0.570" stop-color="#86106c"/><stop offset="0.650" stop-color="#a80e62"/><stop offset="0.750" stop-color="#c0184f"/><stop offset="0.850" stop-color="#d81e3e"/><stop offset="1.000" stop-color="#e5232b"/></linearGradient><rect x="571" y="156" width="15.6" height="187" fill="url(#cbA)"/><path d="M571.8 157.9H578.6 M579.6 157.9H586.6 M581.4 219.4H586.6 M581.4 311.8H586.6" stroke="#fff" stroke-width="1.3" fill="none"/><text x="598.4" y="164.6" font-size="20.01" textLength="39.5" lengthAdjust="spacingAndGlyphs">High</text><text x="598.3" y="350.8" font-size="20.01" textLength="35.2" lengthAdjust="spacingAndGlyphs">Low</text><text transform="translate(600.8,181.6) rotate(90)" font-size="23.97" textLength="142" lengthAdjust="spacingAndGlyphs">Feature value</text></g>
<g><text x="894" y="35" font-size="29.18" textLength="295.7" lengthAdjust="spacingAndGlyphs">Internal Test Set (n=344)</text><text x="826" y="105.6" font-size="21.88" text-anchor="end" fill="#231815" textLength="127" lengthAdjust="spacingAndGlyphs">DL-radiomics</text><text x="827.4" y="188" font-size="21.88" text-anchor="end" fill="#231815" textLength="88" lengthAdjust="spacingAndGlyphs">6bp-5mC</text><text x="826" y="269.5" font-size="21.88" text-anchor="end" fill="#231815" textLength="37.5" lengthAdjust="spacingAndGlyphs">Age</text><text x="835" y="355" font-size="21.88" text-anchor="end" fill="#231815" textLength="91.5" lengthAdjust="spacingAndGlyphs">Solid size</text><text transform="translate(698,242.5) rotate(-90)" font-size="27.09" text-anchor="middle" fill="#231815" textLength="89.5" lengthAdjust="spacingAndGlyphs">Feature</text><rect x="836" y="96.4" width="428" height="5" fill="#e6e6e6"/><rect x="836" y="179.8" width="428" height="5" fill="#e6e6e6"/><rect x="836" y="263" width="428" height="5" fill="#e6e6e6"/><rect x="836" y="346.3" width="428" height="5" fill="#e6e6e6"/><g class="bw"><circle cx="855.2" cy="99.3" r="4.05" fill="#e3222e"/><circle cx="871.2" cy="99.3" r="4.05" fill="#e5232b"/><circle cx="878.9" cy="99" r="4.05" fill="#e3222e"/><circle cx="883.2" cy="99.5" r="4.05" fill="#e3222e"/><circle cx="887.2" cy="99.4" r="4.05" fill="#e12131"/><circle cx="891.2" cy="98.3" r="4.05" fill="#df2134"/><circle cx="893.6" cy="99.9" r="4.05" fill="#e12131"/><circle cx="905.6" cy="99.1" r="4.05" fill="#df2134"/><circle cx="910.4" cy="98.2" r="4.05" fill="#df2133"/><circle cx="914.4" cy="100.1" r="4.05" fill="#dc2038"/><circle cx="916" cy="100" r="4.05" fill="#da1f3b"/><circle cx="924.8" cy="99.4" r="4.05" fill="#d71e3f"/><circle cx="928.8" cy="100" r="4.05" fill="#ca1b48"/><circle cx="936" cy="98.6" r="4.05" fill="#c91a49"/><circle cx="946.5" cy="99.2" r="4.05" fill="#c0184f"/><circle cx="949.7" cy="98.2" r="4.05" fill="#c4194c"/><circle cx="954.5" cy="100.1" r="4.05" fill="#bd1751"/><circle cx="957.7" cy="98.3" r="4.05" fill="#bd1752"/><circle cx="964" cy="99" r="4.05" fill="#b31359"/><circle cx="969.7" cy="98.7" r="4.05" fill="#b41358"/><circle cx="980" cy="98.5" r="4.05" fill="#ab0f60"/><circle cx="984.9" cy="100.4" r="4.05" fill="#ad105e"/><circle cx="1010.5" cy="98.6" r="4.05" fill="#910f69"/><circle cx="1020" cy="99" r="4.05" fill="#86106c"/><circle cx="1024.9" cy="99.7" r="4.05" fill="#79146c"/><circle cx="1028.9" cy="97.4" r="4.05" fill="#7c136c"/><circle cx="1034.5" cy="99.4" r="4.05" fill="#7c136c"/><circle cx="1039.3" cy="99.8" r="4.05" fill="#79146c"/><circle cx="1044" cy="97.6" r="4.05" fill="#6e1d70"/><circle cx="1048" cy="97.8" r="4.05" fill="#6e1e71"/><circle cx="1052" cy="98" r="4.05" fill="#6e1f71"/><circle cx="1057.7" cy="98.8" r="4.05" fill="#75166c"/><circle cx="1061.7" cy="98.1" r="4.05" fill="#6e186c"/><circle cx="1065.7" cy="100.4" r="4.05" fill="#73166c"/><circle cx="1069.7" cy="97.8" r="4.05" fill="#6e196d"/><circle cx="1076.9" cy="99.1" r="4.05" fill="#70176c"/><circle cx="1084" cy="98.6" r="4.05" fill="#7a146c"/><circle cx="1088.9" cy="97.4" r="4.05" fill="#76156c"/><circle cx="1095.3" cy="98.7" r="4.05" fill="#6f2375"/><circle cx="1102.5" cy="99.2" r="4.05" fill="#6f3381"/><circle cx="1108" cy="99.1" r="4.05" fill="#6f3180"/><circle cx="1113" cy="99.1" r="4.05" fill="#703f8b"/><circle cx="1186.8" cy="89.1" r="4.05" fill="#5e68aa"/><circle cx="1214.1" cy="94.9" r="4.05" fill="#6066a9"/><circle cx="1173.7" cy="92.2" r="4.05" fill="#5a6aad"/><circle cx="1189.5" cy="105.3" r="4.05" fill="#5f68aa"/><circle cx="1168.5" cy="100.9" r="4.05" fill="#5e68aa"/><circle cx="1163.1" cy="99.2" r="4.05" fill="#6362a5"/><circle cx="1186.4" cy="114.4" r="4.05" fill="#6066a9"/><circle cx="1164.1" cy="90.3" r="4.05" fill="#6067a9"/><circle cx="1177.3" cy="88.2" r="4.05" fill="#5f67aa"/><circle cx="1174.5" cy="95.1" r="4.05" fill="#6363a6"/><circle cx="1186.4" cy="111.1" r="4.05" fill="#6362a5"/><circle cx="1199.9" cy="87.4" r="4.05" fill="#576caf"/><circle cx="1194.1" cy="107.1" r="4.05" fill="#5e68ab"/><circle cx="1169.1" cy="88.2" r="4.05" fill="#586bae"/><circle cx="1173.1" cy="106.2" r="4.05" fill="#566caf"/><circle cx="1149.4" cy="103.4" r="4.05" fill="#665ea2"/><circle cx="1217.5" cy="100.3" r="4.05" fill="#6067a9"/><circle cx="1169.3" cy="91.1" r="4.05" fill="#586bae"/><circle cx="1213.2" cy="106.8" r="4.05" fill="#536eb1"/><circle cx="1213.9" cy="91.9" r="4.05" fill="#5b6aac"/><circle cx="1175.9" cy="103.3" r="4.05" fill="#5a6aad"/><circle cx="1197.3" cy="100.3" r="4.05" fill="#6067a9"/><circle cx="1213.6" cy="101.4" r="4.05" fill="#5b6aac"/><circle cx="1184.6" cy="101.3" r="4.05" fill="#5d68ab"/><circle cx="1210.8" cy="90.5" r="4.05" fill="#596aad"/><circle cx="1168.7" cy="109.1" r="4.05" fill="#6263a6"/><circle cx="1207.7" cy="102.2" r="4.05" fill="#556db0"/><circle cx="1179.8" cy="85.3" r="4.05" fill="#5b6aad"/><circle cx="1176.5" cy="109.6" r="4.05" fill="#6363a6"/><circle cx="1144.7" cy="103.7" r="4.05" fill="#675da1"/><circle cx="1136" cy="103.4" r="4.05" fill="#6a579d"/><circle cx="1176.9" cy="93.5" r="4.05" fill="#6165a8"/><circle cx="1153.7" cy="92.6" r="4.05" fill="#5d69ab"/><circle cx="1197.4" cy="112.2" r="4.05" fill="#5070b4"/><circle cx="1189.6" cy="111.6" r="4.05" fill="#6067a9"/><circle cx="1207.7" cy="92.6" r="4.05" fill="#5a6aad"/><circle cx="1193.4" cy="94.1" r="4.05" fill="#5e68aa"/><circle cx="1183.3" cy="113.5" r="4.05" fill="#5e68aa"/><circle cx="1207.3" cy="105.7" r="4.05" fill="#566cb0"/><circle cx="1178.4" cy="106.9" r="4.05" fill="#5c69ac"/><circle cx="1191.3" cy="102.5" r="4.05" fill="#5a6aad"/><circle cx="1180.1" cy="94" r="4.05" fill="#5d68ab"/><circle cx="1195.9" cy="112.7" r="4.05" fill="#576caf"/><circle cx="1136.4" cy="94.5" r="4.05" fill="#6c4e96"/><circle cx="1187.4" cy="106.1" r="4.05" fill="#5b69ac"/><circle cx="1172.3" cy="90.3" r="4.05" fill="#5d69ab"/><circle cx="1160.4" cy="107.4" r="4.05" fill="#6066a9"/><circle cx="1188.8" cy="108" r="4.05" fill="#576caf"/><circle cx="1180.5" cy="112.3" r="4.05" fill="#586bae"/><circle cx="1161.9" cy="99.9" r="4.05" fill="#6560a4"/><circle cx="1208.5" cy="106.6" r="4.05" fill="#576caf"/><circle cx="1142.7" cy="97.3" r="4.05" fill="#6a579d"/><circle cx="1172.3" cy="96.6" r="4.05" fill="#6363a6"/><circle cx="1184.1" cy="87.1" r="4.05" fill="#6067a9"/><circle cx="1150.9" cy="94" r="4.05" fill="#665ea2"/><circle cx="1186" cy="83.6" r="4.05" fill="#586bae"/><circle cx="1208.4" cy="103.2" r="4.05" fill="#5e68aa"/><circle cx="1184.9" cy="114.3" r="4.05" fill="#5e68aa"/><circle cx="1199.5" cy="84.8" r="4.05" fill="#4f70b4"/><circle cx="1143.2" cy="93.6" r="4.05" fill="#685a9f"/><circle cx="1157.8" cy="103.2" r="4.05" fill="#6067a9"/><circle cx="1195.8" cy="98.1" r="4.05" fill="#576caf"/><circle cx="1155" cy="102" r="4.05" fill="#5d69ab"/><circle cx="1194.8" cy="99.9" r="4.05" fill="#5b6aac"/><circle cx="1203.3" cy="91.2" r="4.05" fill="#556db0"/><circle cx="1158.7" cy="100.7" r="4.05" fill="#6165a8"/><circle cx="1195.3" cy="90.7" r="4.05" fill="#546db1"/><circle cx="1202.2" cy="105.3" r="4.05" fill="#586bae"/><circle cx="1195.7" cy="85.2" r="4.05" fill="#516fb2"/><circle cx="1134.8" cy="99.3" r="4.05" fill="#6e4992"/><circle cx="1161.9" cy="97.6" r="4.05" fill="#5c69ab"/><circle cx="1167.5" cy="97.2" r="4.05" fill="#6264a7"/><circle cx="1185.3" cy="105.7" r="4.05" fill="#5a6aad"/><circle cx="1154.3" cy="99.1" r="4.05" fill="#6165a7"/><circle cx="1181.6" cy="83.8" r="4.05" fill="#6165a8"/><circle cx="1165.5" cy="92.4" r="4.05" fill="#6067a9"/><circle cx="1160" cy="91.4" r="4.05" fill="#6264a7"/><circle cx="1219.9" cy="97.5" r="4.05" fill="#536eb2"/><circle cx="1193.1" cy="114.3" r="4.05" fill="#576caf"/><circle cx="1192.5" cy="97.6" r="4.05" fill="#5a6aad"/><circle cx="1196.2" cy="94.1" r="4.05" fill="#5b69ac"/><circle cx="1200.5" cy="98.3" r="4.05" fill="#6066a8"/><circle cx="1209.1" cy="100.4" r="4.05" fill="#586bae"/><circle cx="1200.8" cy="95.2" r="4.05" fill="#526eb2"/><circle cx="1209.4" cy="93.2" r="4.05" fill="#5b6aad"/><circle cx="1212.5" cy="98" r="4.05" fill="#4f70b4"/><circle cx="1180.5" cy="100.5" r="4.05" fill="#6263a6"/><circle cx="1147.1" cy="93.4" r="4.05" fill="#685a9f"/><circle cx="1180.3" cy="98" r="4.05" fill="#6362a5"/><circle cx="1175.7" cy="100.7" r="4.05" fill="#516fb3"/><circle cx="1188.9" cy="86.6" r="4.05" fill="#5a6aad"/><circle cx="1194" cy="110.7" r="4.05" fill="#586bae"/><circle cx="1215.8" cy="98.1" r="4.05" fill="#566caf"/><circle cx="1210.9" cy="94.5" r="4.05" fill="#586bae"/><circle cx="1172.9" cy="111.2" r="4.05" fill="#5c69ab"/><circle cx="1199.3" cy="90.8" r="4.05" fill="#6363a6"/><circle cx="1185.5" cy="107.8" r="4.05" fill="#6166a8"/><circle cx="1196.5" cy="103.6" r="4.05" fill="#5f67a9"/><circle cx="1207.6" cy="99.2" r="4.05" fill="#5c69ab"/><circle cx="1191.1" cy="108.3" r="4.05" fill="#526eb2"/><circle cx="1187" cy="82.5" r="4.05" fill="#6066a8"/><circle cx="1179.3" cy="102.7" r="4.05" fill="#5b6aac"/><circle cx="1181.2" cy="110.3" r="4.05" fill="#526eb2"/><circle cx="1132.1" cy="101.5" r="4.05" fill="#6d4b94"/><circle cx="1183.7" cy="96" r="4.05" fill="#5e68aa"/><circle cx="1182.8" cy="104.1" r="4.05" fill="#6461a4"/><circle cx="1148.4" cy="104.3" r="4.05" fill="#655fa3"/><circle cx="1203" cy="101.1" r="4.05" fill="#596bad"/><circle cx="1152.9" cy="104.7" r="4.05" fill="#5f68aa"/><circle cx="1150.6" cy="96.8" r="4.05" fill="#5c69ac"/><circle cx="1157.6" cy="94.6" r="4.05" fill="#6264a7"/><circle cx="1161.4" cy="104" r="4.05" fill="#665da2"/><circle cx="1194.1" cy="84.4" r="4.05" fill="#6362a5"/><circle cx="1154.3" cy="105.6" r="4.05" fill="#6264a7"/><circle cx="1159.1" cy="90.7" r="4.05" fill="#5f68aa"/><circle cx="1130.5" cy="98.5" r="4.05" fill="#6f2f7e"/><circle cx="1177" cy="96.6" r="4.05" fill="#576caf"/><circle cx="1200.1" cy="92.6" r="4.05" fill="#586bae"/><circle cx="1171.6" cy="109.8" r="4.05" fill="#5b6aac"/><circle cx="1192.7" cy="86.7" r="4.05" fill="#5b6aad"/><circle cx="1186.9" cy="99.4" r="4.05" fill="#576caf"/><circle cx="1164.8" cy="99.6" r="4.05" fill="#675ba0"/><circle cx="1162.6" cy="92.7" r="4.05" fill="#6166a8"/><circle cx="1148.6" cy="99.9" r="4.05" fill="#655fa3"/><circle cx="1189" cy="90.1" r="4.05" fill="#596bae"/><circle cx="1204.1" cy="94" r="4.05" fill="#5d69ab"/><circle cx="1206.4" cy="109.5" r="4.05" fill="#5a6aad"/><circle cx="1184.3" cy="111.8" r="4.05" fill="#5a6aad"/><circle cx="1152.7" cy="95.5" r="4.05" fill="#6461a5"/><circle cx="1200.1" cy="89.1" r="4.05" fill="#5a6aad"/><circle cx="1157.9" cy="97.1" r="4.05" fill="#596bae"/><circle cx="1165.4" cy="101.6" r="4.05" fill="#5f68aa"/><circle cx="1179.7" cy="88.8" r="4.05" fill="#6067a9"/><circle cx="1152.9" cy="99.6" r="4.05" fill="#655ea3"/><circle cx="1204.1" cy="97.8" r="4.05" fill="#596bae"/><circle cx="1210.1" cy="97.2" r="4.05" fill="#6166a8"/><circle cx="1206.2" cy="88.7" r="4.05" fill="#5c69ab"/><circle cx="1153.1" cy="101.9" r="4.05" fill="#6461a5"/><circle cx="1134" cy="94.4" r="4.05" fill="#6e4690"/><circle cx="1183.5" cy="90.5" r="4.05" fill="#586bae"/><circle cx="1198.3" cy="94.7" r="4.05" fill="#5d69ab"/><circle cx="1170.6" cy="107.8" r="4.05" fill="#586bae"/><circle cx="1141.1" cy="103.9" r="4.05" fill="#675ca1"/><circle cx="1167.1" cy="88.1" r="4.05" fill="#6067a9"/><circle cx="1191.3" cy="86.7" r="4.05" fill="#5a6aad"/><circle cx="1170.5" cy="93.3" r="4.05" fill="#5b6aac"/><circle cx="1174.8" cy="86.4" r="4.05" fill="#596bae"/><circle cx="1155.2" cy="96.2" r="4.05" fill="#6461a4"/><circle cx="1147.4" cy="100.9" r="4.05" fill="#6460a4"/><circle cx="1164.5" cy="102.7" r="4.05" fill="#6362a5"/><circle cx="1138.4" cy="99.4" r="4.05" fill="#6a579d"/><circle cx="1204.3" cy="106.7" r="4.05" fill="#586bae"/><circle cx="1200.1" cy="102.4" r="4.05" fill="#576caf"/><circle cx="1181.7" cy="93.8" r="4.05" fill="#5b6aac"/><circle cx="1168.1" cy="94.8" r="4.05" fill="#596bad"/><circle cx="1177.3" cy="113.4" r="4.05" fill="#5f68aa"/><circle cx="1212.2" cy="99.9" r="4.05" fill="#576caf"/><circle cx="1201.2" cy="108.4" r="4.05" fill="#526eb2"/><circle cx="1166.9" cy="95.6" r="4.05" fill="#536eb1"/><circle cx="1190.8" cy="96.3" r="4.05" fill="#5b6aad"/><circle cx="1164.1" cy="108.5" r="4.05" fill="#6264a7"/><circle cx="1196.7" cy="88.1" r="4.05" fill="#556db0"/><circle cx="1142.7" cy="95" r="4.05" fill="#6c4f97"/><circle cx="1138.8" cy="95.3" r="4.05" fill="#6b549b"/><circle cx="1202.8" cy="104.3" r="4.05" fill="#5e68ab"/><circle cx="1174.6" cy="88.4" r="4.05" fill="#596bad"/><circle cx="1188.2" cy="95.1" r="4.05" fill="#5b69ac"/><circle cx="1162.6" cy="105.5" r="4.05" fill="#6264a7"/><circle cx="1189.7" cy="98.8" r="4.05" fill="#6264a7"/><circle cx="1167.4" cy="103" r="4.05" fill="#5f67a9"/><circle cx="1115.7" cy="98.7" r="4.05" fill="#6f2a7a"/><circle cx="1182.8" cy="100.5" r="4.05" fill="#5c69ac"/><circle cx="1198" cy="96.7" r="4.05" fill="#586bae"/><circle cx="1173.4" cy="98.8" r="4.05" fill="#6362a5"/><circle cx="1173.8" cy="108" r="4.05" fill="#566cb0"/><circle cx="1197.6" cy="107.1" r="4.05" fill="#566cb0"/><circle cx="1183.7" cy="93.4" r="4.05" fill="#5d69ab"/><circle cx="1215.4" cy="105.9" r="4.05" fill="#5a6aad"/><circle cx="1198.9" cy="109.4" r="4.05" fill="#5c69ac"/><circle cx="1171.7" cy="104.1" r="4.05" fill="#576caf"/><circle cx="1132.1" cy="96.2" r="4.05" fill="#6b5199"/><circle cx="1120.4" cy="99" r="4.05" fill="#6e4791"/><circle cx="1144.2" cy="100.4" r="4.05" fill="#665da2"/><circle cx="1181.2" cy="106.6" r="4.05" fill="#586bae"/><circle cx="1172" cy="87" r="4.05" fill="#5b6aac"/><circle cx="1197.9" cy="103.1" r="4.05" fill="#576caf"/><circle cx="1154.7" cy="93" r="4.05" fill="#6461a4"/><circle cx="1192.6" cy="103.2" r="4.05" fill="#5e68ab"/><circle cx="1191.3" cy="83.3" r="4.05" fill="#5d69ab"/><circle cx="1157.8" cy="107.3" r="4.05" fill="#5b69ac"/><circle cx="1170.6" cy="101" r="4.05" fill="#5b6aac"/><circle cx="1181.5" cy="97" r="4.05" fill="#6166a8"/><circle cx="1217.4" cy="104" r="4.05" fill="#536eb2"/><circle cx="1188.6" cy="93.2" r="4.05" fill="#6461a5"/><circle cx="1144.6" cy="97.8" r="4.05" fill="#69599e"/><circle cx="1135.2" cy="98.5" r="4.05" fill="#6460a4"/><circle cx="1178.7" cy="91.6" r="4.05" fill="#6066a9"/><circle cx="1180.6" cy="109.7" r="4.05" fill="#5b6aac"/><circle cx="1192.5" cy="90.1" r="4.05" fill="#526fb2"/><circle cx="1123.7" cy="98.3" r="4.05" fill="#6e4690"/><circle cx="1140.8" cy="101.1" r="4.05" fill="#6c5098"/><circle cx="1198.4" cy="88.4" r="4.05" fill="#586bae"/><circle cx="1213" cy="104.3" r="4.05" fill="#5b6aac"/><circle cx="1177.3" cy="107.3" r="4.05" fill="#6165a8"/><circle cx="1188.1" cy="101.3" r="4.05" fill="#6067a9"/><circle cx="1204.2" cy="110.6" r="4.05" fill="#586bae"/><circle cx="1200.3" cy="110.7" r="4.05" fill="#546db1"/><circle cx="1161.8" cy="94" r="4.05" fill="#6460a4"/><circle cx="1195.4" cy="110.2" r="4.05" fill="#4f70b4"/><circle cx="1134.9" cy="103" r="4.05" fill="#6c5098"/><circle cx="1174.3" cy="101.9" r="4.05" fill="#6067a9"/><circle cx="1164.2" cy="96" r="4.05" fill="#6067a9"/><circle cx="1195.7" cy="107.3" r="4.05" fill="#546db1"/><circle cx="1191.4" cy="114.4" r="4.05" fill="#5f67aa"/><circle cx="1177.6" cy="91.7" r="4.05" fill="#546eb1"/><circle cx="1176" cy="84.5" r="4.05" fill="#5f67a9"/><circle cx="1189.3" cy="91.9" r="4.05" fill="#4e70b4"/><circle cx="1191.8" cy="100.8" r="4.05" fill="#6067a9"/><circle cx="1218.2" cy="93.4" r="4.05" fill="#5d69ab"/><circle cx="1216.8" cy="97.8" r="4.05" fill="#5b69ac"/><circle cx="1181.4" cy="87.8" r="4.05" fill="#5b6aac"/><circle cx="1208.3" cy="90.6" r="4.05" fill="#5c69ac"/><circle cx="1126.7" cy="98.1" r="4.05" fill="#70428d"/><circle cx="1147.4" cy="98" r="4.05" fill="#685ba0"/><circle cx="1140" cy="102.1" r="4.05" fill="#6b549b"/><circle cx="1206.3" cy="96" r="4.05" fill="#576caf"/><circle cx="1203.5" cy="87.8" r="4.05" fill="#5e68aa"/><circle cx="1185.2" cy="89.6" r="4.05" fill="#5d68ab"/><circle cx="1167.1" cy="109.7" r="4.05" fill="#6067a9"/><circle cx="1165.8" cy="105.8" r="4.05" fill="#6066a8"/><circle cx="1184.6" cy="98.8" r="4.05" fill="#5d69ab"/><circle cx="1169.9" cy="107" r="4.05" fill="#675ca1"/><circle cx="1162" cy="99.9" r="4.05" fill="#2d7ec2"/><circle cx="1204" cy="97.9" r="4.05" fill="#2b7fc3"/><circle cx="1155" cy="105.9" r="4.05" fill="#3a77bb"/><circle cx="1229.5" cy="98.9" r="4.05" fill="#586cae"/><circle cx="918.4" cy="182.7" r="4.05" fill="#e22230"/><circle cx="922.4" cy="180.9" r="4.05" fill="#de2036"/><circle cx="925.6" cy="181.1" r="4.05" fill="#d51d40"/><circle cx="928" cy="183.9" r="4.05" fill="#d01c44"/><circle cx="956.9" cy="181.9" r="4.05" fill="#d91e3d"/><circle cx="968.9" cy="182.2" r="4.05" fill="#bc1653"/><circle cx="971.3" cy="180.9" r="4.05" fill="#bf1750"/><circle cx="989.7" cy="182.1" r="4.05" fill="#a30e64"/><circle cx="994.5" cy="181.2" r="4.05" fill="#940f68"/><circle cx="999.3" cy="183.4" r="4.05" fill="#7e136c"/><circle cx="1019.8" cy="181.9" r="4.05" fill="#a50e63"/><circle cx="1031.6" cy="182.5" r="4.05" fill="#a10e64"/><circle cx="1037.7" cy="182.1" r="4.05" fill="#71176c"/><circle cx="1052.9" cy="182.3" r="4.05" fill="#75166c"/><circle cx="1061.7" cy="182.1" r="4.05" fill="#70176c"/><circle cx="1065.7" cy="183.6" r="4.05" fill="#6f2879"/><circle cx="1069.7" cy="183.5" r="4.05" fill="#6f2f7e"/><circle cx="1074.5" cy="183.7" r="4.05" fill="#6f3280"/><circle cx="1080.9" cy="182.5" r="4.05" fill="#703a87"/><circle cx="1086.5" cy="182" r="4.05" fill="#6e4993"/><circle cx="1092" cy="182.1" r="4.05" fill="#6d4a94"/><circle cx="1096" cy="181.6" r="4.05" fill="#6d4b94"/><circle cx="1101.7" cy="182.4" r="4.05" fill="#69599e"/><circle cx="1106.5" cy="183.2" r="4.05" fill="#6a579d"/><circle cx="1176.1" cy="182.5" r="4.05" fill="#337abe"/><circle cx="1124.4" cy="180.6" r="4.05" fill="#586bae"/><circle cx="1205.8" cy="182.4" r="4.05" fill="#307cc0"/><circle cx="1151.8" cy="167.3" r="4.05" fill="#4972b6"/><circle cx="1179" cy="190.8" r="4.05" fill="#327bbf"/><circle cx="1148.8" cy="194" r="4.05" fill="#4773b7"/><circle cx="1130" cy="184.1" r="4.05" fill="#556db0"/><circle cx="1161.9" cy="185.8" r="4.05" fill="#3878bc"/><circle cx="1168.1" cy="191.7" r="4.05" fill="#327bbf"/><circle cx="1184.8" cy="177.9" r="4.05" fill="#3579bd"/><circle cx="1192.9" cy="179.1" r="4.05" fill="#337abe"/><circle cx="1134" cy="177.1" r="4.05" fill="#506fb3"/><circle cx="1142.8" cy="174.7" r="4.05" fill="#4c71b5"/><circle cx="1149.3" cy="178.3" r="4.05" fill="#4175b9"/><circle cx="1179.9" cy="187.4" r="4.05" fill="#3f76ba"/><circle cx="1149.4" cy="184.6" r="4.05" fill="#3977bb"/><circle cx="1144.8" cy="192.2" r="4.05" fill="#536eb1"/><circle cx="1178.2" cy="182.2" r="4.05" fill="#3679bd"/><circle cx="1161.3" cy="172.9" r="4.05" fill="#347abe"/><circle cx="1159.9" cy="189.5" r="4.05" fill="#3778bc"/><circle cx="1193.2" cy="182.4" r="4.05" fill="#3b77bb"/><circle cx="1168.3" cy="183" r="4.05" fill="#337abe"/><circle cx="1130.8" cy="186.1" r="4.05" fill="#566cb0"/><circle cx="1142.7" cy="183.3" r="4.05" fill="#4075b9"/><circle cx="1155.1" cy="177.9" r="4.05" fill="#4374b8"/><circle cx="1152.3" cy="191.3" r="4.05" fill="#3b77bb"/><circle cx="1140.4" cy="182.7" r="4.05" fill="#4e70b4"/><circle cx="1138.6" cy="174.6" r="4.05" fill="#596bad"/><circle cx="1160.1" cy="177.4" r="4.05" fill="#3f75b9"/><circle cx="1138.8" cy="189.6" r="4.05" fill="#4d71b5"/><circle cx="1150.3" cy="177" r="4.05" fill="#3978bc"/><circle cx="1145.1" cy="169.5" r="4.05" fill="#3c77bb"/><circle cx="1146" cy="182.5" r="4.05" fill="#4b71b5"/><circle cx="1146" cy="188.3" r="4.05" fill="#4275b9"/><circle cx="1148.3" cy="190.9" r="4.05" fill="#4374b8"/><circle cx="1163.8" cy="182.7" r="4.05" fill="#327bbf"/><circle cx="1178.8" cy="189" r="4.05" fill="#3c77bb"/><circle cx="1160.8" cy="183.5" r="4.05" fill="#347abe"/><circle cx="1155.4" cy="194.3" r="4.05" fill="#347abe"/><circle cx="1126.3" cy="182.1" r="4.05" fill="#5b69ac"/><circle cx="1134.6" cy="188.8" r="4.05" fill="#5f68aa"/><circle cx="1190.2" cy="182.4" r="4.05" fill="#4175b9"/><circle cx="1151.7" cy="171" r="4.05" fill="#4275b9"/><circle cx="1161.8" cy="175.6" r="4.05" fill="#3778bc"/><circle cx="1151.9" cy="188" r="4.05" fill="#4274b8"/><circle cx="1157.6" cy="183.7" r="4.05" fill="#337abe"/><circle cx="1167.6" cy="172.8" r="4.05" fill="#3b77bb"/><circle cx="1140.6" cy="185" r="4.05" fill="#536eb1"/><circle cx="1136.7" cy="178.7" r="4.05" fill="#556db0"/><circle cx="1190.3" cy="185.4" r="4.05" fill="#337abe"/><circle cx="1148" cy="180.4" r="4.05" fill="#4175b9"/><circle cx="1182.1" cy="177.2" r="4.05" fill="#347abe"/><circle cx="1161.7" cy="191.8" r="4.05" fill="#317bbf"/><circle cx="1194.5" cy="180" r="4.05" fill="#3778bc"/><circle cx="1169.9" cy="177.8" r="4.05" fill="#4075b9"/><circle cx="1175.9" cy="179.1" r="4.05" fill="#3978bc"/><circle cx="1173.1" cy="175.6" r="4.05" fill="#3878bc"/><circle cx="1139.6" cy="188.7" r="4.05" fill="#4474b8"/><circle cx="1180.2" cy="173.6" r="4.05" fill="#327bbf"/><circle cx="1167.9" cy="188.1" r="4.05" fill="#327bbf"/><circle cx="1130.3" cy="180.5" r="4.05" fill="#596bae"/><circle cx="1165.9" cy="191.4" r="4.05" fill="#337abe"/><circle cx="1192.8" cy="188" r="4.05" fill="#3579bd"/><circle cx="1126.3" cy="186.2" r="4.05" fill="#6166a8"/><circle cx="1180.8" cy="190" r="4.05" fill="#317cc0"/><circle cx="1155.2" cy="174.6" r="4.05" fill="#3b77bb"/><circle cx="1137.9" cy="186.5" r="4.05" fill="#576caf"/><circle cx="1173.9" cy="191.7" r="4.05" fill="#327bbf"/><circle cx="1165.7" cy="194.9" r="4.05" fill="#3679bd"/><circle cx="1138.2" cy="183" r="4.05" fill="#596bae"/><circle cx="1152.7" cy="197.5" r="4.05" fill="#347abe"/><circle cx="1143.2" cy="186.7" r="4.05" fill="#4f70b4"/><circle cx="1154.7" cy="167.6" r="4.05" fill="#3c77bb"/><circle cx="1153" cy="190.6" r="4.05" fill="#3878bc"/><circle cx="1142.3" cy="180.8" r="4.05" fill="#516fb2"/><circle cx="1116.5" cy="182.9" r="4.05" fill="#675ca1"/><circle cx="1136" cy="181.8" r="4.05" fill="#4f70b4"/><circle cx="1168" cy="195" r="4.05" fill="#327bbf"/><circle cx="1190.1" cy="176" r="4.05" fill="#327bbf"/><circle cx="1133.3" cy="177.1" r="4.05" fill="#546db1"/><circle cx="1147.1" cy="195.7" r="4.05" fill="#4075b9"/><circle cx="1169.1" cy="175" r="4.05" fill="#337abe"/><circle cx="1156.4" cy="187" r="4.05" fill="#3977bb"/><circle cx="1197.8" cy="181.6" r="4.05" fill="#307cc0"/><circle cx="1179.5" cy="178.8" r="4.05" fill="#347abe"/><circle cx="1186.6" cy="178.1" r="4.05" fill="#3b77bb"/><circle cx="1189.5" cy="189.1" r="4.05" fill="#3778bc"/><circle cx="1161.4" cy="189.1" r="4.05" fill="#4374b8"/><circle cx="1187" cy="175.9" r="4.05" fill="#317bbf"/><circle cx="1153.8" cy="183.5" r="4.05" fill="#3d76ba"/><circle cx="1161.2" cy="195.7" r="4.05" fill="#4773b7"/><circle cx="1149" cy="196.9" r="4.05" fill="#4275b9"/><circle cx="1170.6" cy="189.6" r="4.05" fill="#327bbf"/><circle cx="1167.7" cy="184.8" r="4.05" fill="#3a77bb"/><circle cx="1170.4" cy="171.8" r="4.05" fill="#3579bd"/><circle cx="1149.1" cy="186.9" r="4.05" fill="#3a77bb"/><circle cx="1184.2" cy="186.6" r="4.05" fill="#3a77bb"/><circle cx="1155.6" cy="191.4" r="4.05" fill="#327bbf"/><circle cx="1113.9" cy="181.9" r="4.05" fill="#655fa3"/><circle cx="1149.6" cy="174.7" r="4.05" fill="#3c77bb"/><circle cx="1164.9" cy="179.4" r="4.05" fill="#3778bc"/><circle cx="1136.1" cy="179.7" r="4.05" fill="#5c69ac"/><circle cx="1139.8" cy="172.8" r="4.05" fill="#4972b6"/><circle cx="1147.1" cy="179.1" r="4.05" fill="#3f76ba"/><circle cx="1170" cy="183.1" r="4.05" fill="#347abe"/><circle cx="1131.4" cy="186.8" r="4.05" fill="#566caf"/><circle cx="1141.7" cy="179.6" r="4.05" fill="#5070b4"/><circle cx="1120.9" cy="182.2" r="4.05" fill="#6165a7"/><circle cx="1173.9" cy="172.3" r="4.05" fill="#347abe"/><circle cx="1195.3" cy="177.7" r="4.05" fill="#317cc0"/><circle cx="1192.4" cy="176.1" r="4.05" fill="#4175b9"/><circle cx="1167.5" cy="178.7" r="4.05" fill="#3b77bb"/><circle cx="1169.6" cy="180.2" r="4.05" fill="#2c7fc3"/><circle cx="1182.1" cy="183.7" r="4.05" fill="#347abe"/><circle cx="1165.5" cy="185.5" r="4.05" fill="#2f7dc1"/><circle cx="1158.9" cy="192.8" r="4.05" fill="#347abe"/><circle cx="1198.1" cy="186.8" r="4.05" fill="#3d76ba"/><circle cx="1167.7" cy="170" r="4.05" fill="#3d76ba"/><circle cx="1199.9" cy="179.7" r="4.05" fill="#2d7ec2"/><circle cx="1168.6" cy="176" r="4.05" fill="#3479bd"/><circle cx="1133" cy="180" r="4.05" fill="#566caf"/><circle cx="1160.6" cy="174.1" r="4.05" fill="#3679bd"/><circle cx="1151.2" cy="184.7" r="4.05" fill="#347abe"/><circle cx="1180.4" cy="180.8" r="4.05" fill="#317cc0"/><circle cx="1127.7" cy="178.8" r="4.05" fill="#5a6aad"/><circle cx="1171.5" cy="187.3" r="4.05" fill="#3479bd"/><circle cx="1174" cy="184.9" r="4.05" fill="#3978bc"/><circle cx="1202" cy="182" r="4.05" fill="#3f76ba"/><circle cx="1143.4" cy="191" r="4.05" fill="#5070b4"/><circle cx="1183.3" cy="180.4" r="4.05" fill="#327bbf"/><circle cx="1175.9" cy="175.9" r="4.05" fill="#3a77bb"/><circle cx="1145.2" cy="172.7" r="4.05" fill="#4574b8"/><circle cx="1157" cy="197.8" r="4.05" fill="#4474b8"/><circle cx="1191.3" cy="185.7" r="4.05" fill="#3878bc"/><circle cx="1136.2" cy="185.4" r="4.05" fill="#536eb2"/><circle cx="1160.7" cy="187.7" r="4.05" fill="#3d76ba"/><circle cx="1183.8" cy="184.4" r="4.05" fill="#317cc0"/><circle cx="1151.1" cy="194.6" r="4.05" fill="#3c77bb"/><circle cx="1156.2" cy="177.2" r="4.05" fill="#3579bd"/><circle cx="1185.7" cy="189" r="4.05" fill="#2d7ec2"/><circle cx="1157.8" cy="168.2" r="4.05" fill="#3679bd"/><circle cx="1172.3" cy="178.8" r="4.05" fill="#3978bc"/><circle cx="1157.7" cy="181" r="4.05" fill="#307cc0"/><circle cx="1158.7" cy="168.6" r="4.05" fill="#3e76ba"/><circle cx="1173" cy="189.1" r="4.05" fill="#317bbf"/><circle cx="1155" cy="197.6" r="4.05" fill="#4474b8"/><circle cx="1153" cy="187.4" r="4.05" fill="#3b77bb"/><circle cx="1151.2" cy="174" r="4.05" fill="#3579bd"/><circle cx="1141.3" cy="190.7" r="4.05" fill="#4b71b5"/><circle cx="1144.7" cy="176.8" r="4.05" fill="#546db1"/><circle cx="1143.6" cy="192.9" r="4.05" fill="#4374b8"/><circle cx="1129.3" cy="177.5" r="4.05" fill="#5a6aad"/><circle cx="1176" cy="185.5" r="4.05" fill="#3579bd"/><circle cx="1188.2" cy="179.6" r="4.05" fill="#3579bd"/><circle cx="1175.4" cy="188.2" r="4.05" fill="#3579bd"/><circle cx="1124.2" cy="181.6" r="4.05" fill="#6067a9"/><circle cx="1133.3" cy="184.3" r="4.05" fill="#556db0"/><circle cx="1161.9" cy="182.9" r="4.05" fill="#3d76ba"/><circle cx="1140.1" cy="176.2" r="4.05" fill="#4573b7"/><circle cx="1144.3" cy="171.9" r="4.05" fill="#526eb2"/><circle cx="1198.6" cy="179" r="4.05" fill="#3a77bb"/><circle cx="1149.3" cy="171.3" r="4.05" fill="#4872b6"/><circle cx="1184.2" cy="175.2" r="4.05" fill="#337abe"/><circle cx="1166.2" cy="176.8" r="4.05" fill="#4573b7"/><circle cx="1165.9" cy="188.8" r="4.05" fill="#3778bc"/><circle cx="1161.7" cy="169.2" r="4.05" fill="#3579bd"/><circle cx="1187.4" cy="181.8" r="4.05" fill="#337abe"/><circle cx="1154.2" cy="180.6" r="4.05" fill="#3978bc"/><circle cx="1195.3" cy="187" r="4.05" fill="#3778bc"/><circle cx="1157.4" cy="169.9" r="4.05" fill="#3d76ba"/><circle cx="1160.1" cy="170.7" r="4.05" fill="#2e7ec2"/><circle cx="1151.1" cy="180" r="4.05" fill="#3b77bb"/><circle cx="1164.6" cy="172.8" r="4.05" fill="#3679bd"/><circle cx="1156.6" cy="174.7" r="4.05" fill="#4a72b6"/><circle cx="1183.8" cy="189" r="4.05" fill="#3a77bb"/><circle cx="1176.2" cy="172.3" r="4.05" fill="#3679bd"/><circle cx="1147.9" cy="167.5" r="4.05" fill="#3e76ba"/><circle cx="1172" cy="182.6" r="4.05" fill="#3878bc"/><circle cx="1147.1" cy="175.7" r="4.05" fill="#4873b7"/><circle cx="1158.8" cy="196.3" r="4.05" fill="#3b77bb"/><circle cx="1109.7" cy="182.7" r="4.05" fill="#655ea3"/><circle cx="1195.4" cy="184.1" r="4.05" fill="#347abe"/><circle cx="1178.1" cy="176.1" r="4.05" fill="#3679bd"/><circle cx="1155" cy="170.1" r="4.05" fill="#347abe"/><circle cx="1162.9" cy="178.8" r="4.05" fill="#3b77bb"/><circle cx="1178.2" cy="172.9" r="4.05" fill="#2c7ec2"/><circle cx="1158.9" cy="180.2" r="4.05" fill="#327bbf"/><circle cx="1175.2" cy="192.2" r="4.05" fill="#307cc0"/><circle cx="1178.9" cy="184.9" r="4.05" fill="#337abe"/><circle cx="1164" cy="170.4" r="4.05" fill="#3a77bb"/><circle cx="1170.4" cy="192.7" r="4.05" fill="#3679bd"/><circle cx="1199.5" cy="180.9" r="4.05" fill="#307cc0"/><circle cx="1156.6" cy="194.7" r="4.05" fill="#3d76ba"/><circle cx="1145.5" cy="186.2" r="4.05" fill="#4d71b5"/><circle cx="1185.9" cy="185.1" r="4.05" fill="#3d76ba"/><circle cx="1155" cy="172.3" r="4.05" fill="#2b7fc3"/><circle cx="1159" cy="186.3" r="4.05" fill="#2b7fc3"/><circle cx="1192" cy="179.3" r="4.05" fill="#2b7fc3"/><circle cx="1156" cy="196.3" r="4.05" fill="#2b7fc3"/><circle cx="1232.3" cy="182.3" r="4.05" fill="#3a77bb"/><circle cx="1079.9" cy="265.5" r="4.05" fill="#e5232b"/><circle cx="1145.6" cy="254.9" r="4.05" fill="#69599f"/><circle cx="1137.2" cy="272.4" r="4.05" fill="#6d4b94"/><circle cx="1156.1" cy="255.4" r="4.05" fill="#526eb2"/><circle cx="1123.8" cy="266.9" r="4.05" fill="#70418d"/><circle cx="1144.9" cy="252.6" r="4.05" fill="#6460a4"/><circle cx="1152.2" cy="262" r="4.05" fill="#546db1"/><circle cx="1119.5" cy="265.4" r="4.05" fill="#6e186c"/><circle cx="1145.6" cy="268.4" r="4.05" fill="#6461a4"/><circle cx="1148.6" cy="269.9" r="4.05" fill="#5f68aa"/><circle cx="1124.1" cy="263.5" r="4.05" fill="#6e1c6f"/><circle cx="1166.7" cy="264.3" r="4.05" fill="#546db1"/><circle cx="1158.6" cy="257.3" r="4.05" fill="#4b71b5"/><circle cx="1138" cy="261.4" r="4.05" fill="#6f448f"/><circle cx="1139.9" cy="260.4" r="4.05" fill="#70418d"/><circle cx="1150.9" cy="256.7" r="4.05" fill="#566caf"/><circle cx="1131.2" cy="259.2" r="4.05" fill="#703986"/><circle cx="1154.8" cy="257" r="4.05" fill="#526eb2"/><circle cx="1151.5" cy="263.6" r="4.05" fill="#566db0"/><circle cx="1125.6" cy="270.7" r="4.05" fill="#6e2073"/><circle cx="1137.2" cy="268.3" r="4.05" fill="#6d4a93"/><circle cx="1145.5" cy="275.6" r="4.05" fill="#6b529a"/><circle cx="1114.9" cy="265.2" r="4.05" fill="#960f67"/><circle cx="1143.5" cy="265" r="4.05" fill="#6c4f97"/><circle cx="1154.2" cy="258.2" r="4.05" fill="#4e70b4"/><circle cx="1129.7" cy="271.2" r="4.05" fill="#703c89"/><circle cx="1146.7" cy="257.5" r="4.05" fill="#685a9f"/><circle cx="1145" cy="271.7" r="4.05" fill="#685ba0"/><circle cx="1129.6" cy="260" r="4.05" fill="#6f2e7e"/><circle cx="1172.2" cy="264.7" r="4.05" fill="#3c77bb"/><circle cx="1130.1" cy="265.4" r="4.05" fill="#6f2c7c"/><circle cx="1140" cy="271" r="4.05" fill="#6e4993"/><circle cx="1103.3" cy="265.8" r="4.05" fill="#b31359"/><circle cx="1177.1" cy="264.6" r="4.05" fill="#3e76ba"/><circle cx="1120.6" cy="261.6" r="4.05" fill="#84116c"/><circle cx="1159.4" cy="270.9" r="4.05" fill="#526eb2"/><circle cx="1159" cy="273.6" r="4.05" fill="#4773b7"/><circle cx="1160" cy="267.5" r="4.05" fill="#4f70b4"/><circle cx="1141.3" cy="276.1" r="4.05" fill="#6d4c95"/><circle cx="1143" cy="271.6" r="4.05" fill="#6c5199"/><circle cx="1132.9" cy="272.3" r="4.05" fill="#6f438e"/><circle cx="1156.9" cy="260.1" r="4.05" fill="#506fb3"/><circle cx="1154.6" cy="267.8" r="4.05" fill="#506fb3"/><circle cx="1183.3" cy="265.1" r="4.05" fill="#4075b9"/><circle cx="1153.2" cy="272.5" r="4.05" fill="#6264a7"/><circle cx="1149" cy="253.5" r="4.05" fill="#6067a9"/><circle cx="1147.7" cy="279.4" r="4.05" fill="#6067a9"/><circle cx="1147" cy="273.7" r="4.05" fill="#6362a5"/><circle cx="1122.8" cy="260.8" r="4.05" fill="#71176c"/><circle cx="1106.8" cy="265" r="4.05" fill="#af115d"/><circle cx="1168.9" cy="262.4" r="4.05" fill="#4773b7"/><circle cx="1156.3" cy="263.8" r="4.05" fill="#526eb2"/><circle cx="1144.3" cy="258.2" r="4.05" fill="#685aa0"/><circle cx="1148.7" cy="260" r="4.05" fill="#6264a7"/><circle cx="1140.1" cy="273.6" r="4.05" fill="#6e4993"/><circle cx="1145.4" cy="265" r="4.05" fill="#675ca1"/><circle cx="1126.7" cy="260.4" r="4.05" fill="#7d136c"/><circle cx="1129.3" cy="262.3" r="4.05" fill="#6f3483"/><circle cx="1128.5" cy="269" r="4.05" fill="#6f2375"/><circle cx="1145.2" cy="278.3" r="4.05" fill="#655fa3"/><circle cx="1144" cy="261.5" r="4.05" fill="#6b559c"/><circle cx="1125.5" cy="267.8" r="4.05" fill="#6f2d7d"/><circle cx="1167.8" cy="269" r="4.05" fill="#4573b7"/><circle cx="1173" cy="267.4" r="4.05" fill="#4b71b5"/><circle cx="1163.5" cy="267" r="4.05" fill="#506fb3"/><circle cx="1135.8" cy="265.8" r="4.05" fill="#703c89"/><circle cx="1149.1" cy="270" r="4.05" fill="#546db1"/><circle cx="1161.8" cy="260.6" r="4.05" fill="#4e70b4"/><circle cx="1188.1" cy="265.7" r="4.05" fill="#3e76ba"/><circle cx="1118.5" cy="262.9" r="4.05" fill="#7f126c"/><circle cx="1150.9" cy="250.5" r="4.05" fill="#536eb2"/><circle cx="1176.2" cy="266.5" r="4.05" fill="#3c77bb"/><circle cx="1148.5" cy="267.6" r="4.05" fill="#596bad"/><circle cx="1156" cy="273.4" r="4.05" fill="#526fb2"/><circle cx="1132.5" cy="262.1" r="4.05" fill="#70408c"/><circle cx="1128.6" cy="265.2" r="4.05" fill="#6f2778"/><circle cx="1127" cy="263.3" r="4.05" fill="#6f2577"/><circle cx="1151.4" cy="260.8" r="4.05" fill="#576caf"/><circle cx="1152.9" cy="274.8" r="4.05" fill="#526eb2"/><circle cx="1161.4" cy="270.5" r="4.05" fill="#4972b6"/><circle cx="1151.2" cy="266.6" r="4.05" fill="#5a6aad"/><circle cx="1146.6" cy="264.2" r="4.05" fill="#6363a6"/><circle cx="1152.1" cy="255.8" r="4.05" fill="#546db1"/><circle cx="1149.9" cy="277.5" r="4.05" fill="#586bae"/><circle cx="1151.9" cy="266.3" r="4.05" fill="#526fb2"/><circle cx="1133.4" cy="257.9" r="4.05" fill="#6f3180"/><circle cx="1120.2" cy="268.8" r="4.05" fill="#75166c"/><circle cx="1154.2" cy="278.5" r="4.05" fill="#5a6aad"/><circle cx="1148.7" cy="250.6" r="4.05" fill="#5d68ab"/><circle cx="1142.4" cy="255.7" r="4.05" fill="#69589e"/><circle cx="1131" cy="268.1" r="4.05" fill="#6f2879"/><circle cx="1168.7" cy="268.8" r="4.05" fill="#4c71b5"/><circle cx="1134.4" cy="265.4" r="4.05" fill="#6f4590"/><circle cx="1146.3" cy="254.9" r="4.05" fill="#6361a5"/><circle cx="1138.3" cy="266.5" r="4.05" fill="#6a579d"/><circle cx="1158" cy="266.7" r="4.05" fill="#536eb2"/><circle cx="1159.6" cy="260.8" r="4.05" fill="#4c71b5"/><circle cx="1110.5" cy="265.7" r="4.05" fill="#9d0f65"/><circle cx="1131.3" cy="271.4" r="4.05" fill="#70428d"/><circle cx="1158.4" cy="263.6" r="4.05" fill="#556db0"/><circle cx="1153.3" cy="251.8" r="4.05" fill="#566cb0"/><circle cx="1143" cy="258.5" r="4.05" fill="#685a9f"/><circle cx="1156.7" cy="275.8" r="4.05" fill="#516fb3"/><circle cx="1138.4" cy="257.5" r="4.05" fill="#6c4e96"/><circle cx="1154.6" cy="270.7" r="4.05" fill="#596bad"/><circle cx="1139.8" cy="263.2" r="4.05" fill="#6d4c95"/><circle cx="1138" cy="258.7" r="4.05" fill="#6e4690"/><circle cx="1142.5" cy="268.6" r="4.05" fill="#6a569c"/><circle cx="1160.4" cy="263.7" r="4.05" fill="#4274b8"/><circle cx="1179.6" cy="265.6" r="4.05" fill="#3b77bb"/><circle cx="1149.5" cy="273.9" r="4.05" fill="#596bad"/><circle cx="1167.4" cy="266.9" r="4.05" fill="#4474b8"/><circle cx="1151" cy="280.4" r="4.05" fill="#536eb1"/><circle cx="1123.4" cy="269.5" r="4.05" fill="#6f2577"/><circle cx="1148.3" cy="277" r="4.05" fill="#5d68ab"/><circle cx="1133.3" cy="262.7" r="4.05" fill="#6f448f"/><circle cx="1133.2" cy="269.7" r="4.05" fill="#6f2274"/><circle cx="1143.1" cy="262.2" r="4.05" fill="#6a569c"/><circle cx="1165.5" cy="260.8" r="4.05" fill="#4673b7"/><circle cx="1114.9" cy="266.1" r="4.05" fill="#7f126c"/><circle cx="1153.2" cy="269" r="4.05" fill="#536eb1"/><circle cx="1121" cy="264.5" r="4.05" fill="#6f458f"/><circle cx="1150" cy="266.5" r="4.05" fill="#2d7ec2"/><circle cx="1154" cy="270.5" r="4.05" fill="#2d7ec2"/><circle cx="1153" cy="261.5" r="4.05" fill="#317cc0"/><circle cx="1168" cy="263.5" r="4.05" fill="#2b7fc3"/><circle cx="1193" cy="265.5" r="4.05" fill="#2b7fc3"/><circle cx="1121.5" cy="347.4" r="4.05" fill="#df2134"/><circle cx="1129.2" cy="348" r="4.05" fill="#de2036"/><circle cx="1183.5" cy="349.3" r="4.05" fill="#6f438e"/><circle cx="1141.6" cy="349.7" r="4.05" fill="#d11c43"/><circle cx="1143.6" cy="336.3" r="4.05" fill="#cf1c45"/><circle cx="1130.4" cy="353.1" r="4.05" fill="#d71e3f"/><circle cx="1137.7" cy="350.6" r="4.05" fill="#cf1c44"/><circle cx="1138.2" cy="354" r="4.05" fill="#d81e3e"/><circle cx="1137.5" cy="340.9" r="4.05" fill="#d91f3c"/><circle cx="1146.7" cy="340.5" r="4.05" fill="#b51358"/><circle cx="1139.7" cy="337.2" r="4.05" fill="#c5194b"/><circle cx="1145.5" cy="334.4" r="4.05" fill="#ba1554"/><circle cx="1141.3" cy="353.3" r="4.05" fill="#ca1a48"/><circle cx="1119" cy="348.7" r="4.05" fill="#e3222e"/><circle cx="1153.6" cy="350.2" r="4.05" fill="#87106c"/><circle cx="1144.1" cy="353.7" r="4.05" fill="#be1751"/><circle cx="1125.4" cy="353.6" r="4.05" fill="#d51d40"/><circle cx="1144.8" cy="347.8" r="4.05" fill="#cf1c45"/><circle cx="1115.5" cy="349.8" r="4.05" fill="#df2134"/><circle cx="1128.2" cy="346.3" r="4.05" fill="#db1f39"/><circle cx="1162.2" cy="347.6" r="4.05" fill="#6e2073"/><circle cx="1139.5" cy="350" r="4.05" fill="#cf1c44"/><circle cx="1128.7" cy="354.8" r="4.05" fill="#de2036"/><circle cx="1139.5" cy="360.7" r="4.05" fill="#ce1c45"/><circle cx="1135.1" cy="340.9" r="4.05" fill="#dc1f39"/><circle cx="1133.3" cy="336.8" r="4.05" fill="#e2222f"/><circle cx="1105.6" cy="349.1" r="4.05" fill="#e2222f"/><circle cx="1170.7" cy="347.7" r="4.05" fill="#6e4690"/><circle cx="1136.5" cy="343.8" r="4.05" fill="#db1f3a"/><circle cx="1136.6" cy="362.6" r="4.05" fill="#cb1b47"/><circle cx="1128.2" cy="351.6" r="4.05" fill="#d71e3f"/><circle cx="1136.5" cy="335" r="4.05" fill="#da1f3c"/><circle cx="1136" cy="357.6" r="4.05" fill="#d01c44"/><circle cx="1146.1" cy="338.1" r="4.05" fill="#b2125a"/><circle cx="1143.5" cy="357.9" r="4.05" fill="#cf1c45"/><circle cx="1113.7" cy="348.5" r="4.05" fill="#de2035"/><circle cx="1166.3" cy="350" r="4.05" fill="#70418d"/><circle cx="1180.9" cy="348" r="4.05" fill="#6c4e96"/><circle cx="1150.9" cy="356.5" r="4.05" fill="#8a106b"/><circle cx="1150.1" cy="354" r="4.05" fill="#9d0f65"/><circle cx="1135.2" cy="351.2" r="4.05" fill="#da1f3b"/><circle cx="1128.2" cy="341.6" r="4.05" fill="#d51d40"/><circle cx="1149" cy="348.3" r="4.05" fill="#a20e64"/><circle cx="1139" cy="363.1" r="4.05" fill="#d11c43"/><circle cx="1148.8" cy="351.3" r="4.05" fill="#b0115b"/><circle cx="1149.8" cy="340.6" r="4.05" fill="#b51358"/><circle cx="1148.9" cy="354.9" r="4.05" fill="#a30e64"/><circle cx="1140.2" cy="343.5" r="4.05" fill="#d11c43"/><circle cx="1140" cy="353.7" r="4.05" fill="#ca1b48"/><circle cx="1145.2" cy="360.1" r="4.05" fill="#c81a4a"/><circle cx="1134.7" cy="357.8" r="4.05" fill="#d61d40"/><circle cx="1138.1" cy="347.4" r="4.05" fill="#d41d41"/><circle cx="1133.4" cy="347.1" r="4.05" fill="#d51d40"/><circle cx="1154.4" cy="354.8" r="4.05" fill="#8c106a"/><circle cx="1121.2" cy="351.3" r="4.05" fill="#de2035"/><circle cx="1156.8" cy="348.8" r="4.05" fill="#7c136c"/><circle cx="1173.7" cy="349.2" r="4.05" fill="#6c5199"/><circle cx="1131.5" cy="349.8" r="4.05" fill="#d61e3f"/><circle cx="1148.1" cy="336.8" r="4.05" fill="#aa0f60"/><circle cx="1143.7" cy="340.4" r="4.05" fill="#c4194c"/><circle cx="1162.1" cy="348.2" r="4.05" fill="#6f2778"/><circle cx="1135.9" cy="338.2" r="4.05" fill="#d21c42"/><circle cx="1126" cy="350.3" r="4.05" fill="#de2036"/><circle cx="1156.9" cy="352.2" r="4.05" fill="#7e136c"/><circle cx="1158.9" cy="348.9" r="4.05" fill="#7a146c"/><circle cx="1144.4" cy="340.1" r="4.05" fill="#c1184e"/><circle cx="1151" cy="344.1" r="4.05" fill="#a90e62"/><circle cx="1131.5" cy="343.2" r="4.05" fill="#d01c43"/><circle cx="1140.1" cy="347.3" r="4.05" fill="#cf1c44"/><circle cx="1150.6" cy="346.8" r="4.05" fill="#980f67"/><circle cx="1141.5" cy="333.8" r="4.05" fill="#d71e3f"/><circle cx="1137.5" cy="359.9" r="4.05" fill="#d31d42"/><circle cx="1143.2" cy="344" r="4.05" fill="#d31d42"/><circle cx="1131.7" cy="346.4" r="4.05" fill="#d91e3d"/><circle cx="1139.2" cy="356.9" r="4.05" fill="#d11c43"/><circle cx="1119.6" cy="350.1" r="4.05" fill="#e02133"/><circle cx="1154.6" cy="345" r="4.05" fill="#8d106a"/><circle cx="1146.8" cy="360.5" r="4.05" fill="#b2125a"/><circle cx="1140.7" cy="340.6" r="4.05" fill="#d41d41"/><circle cx="1131" cy="340" r="4.05" fill="#de2035"/><circle cx="1130.6" cy="356.2" r="4.05" fill="#cc1b47"/><circle cx="1148.9" cy="357.4" r="4.05" fill="#a80e62"/><circle cx="1150.6" cy="349.7" r="4.05" fill="#ab0f60"/><circle cx="1109" cy="349.2" r="4.05" fill="#e02133"/><circle cx="1149" cy="342.7" r="4.05" fill="#a60e63"/><circle cx="1144.3" cy="363.6" r="4.05" fill="#c81a49"/><circle cx="1145.3" cy="343.2" r="4.05" fill="#c81a4a"/><circle cx="1141.7" cy="360.6" r="4.05" fill="#c91a49"/><circle cx="1133.8" cy="360.5" r="4.05" fill="#d81e3e"/><circle cx="1141.9" cy="363.6" r="4.05" fill="#ce1b45"/><circle cx="1145.9" cy="351.1" r="4.05" fill="#bc1652"/><circle cx="1153.9" cy="347" r="4.05" fill="#7f126c"/><circle cx="1125.1" cy="343.4" r="4.05" fill="#dd2037"/><circle cx="1147.2" cy="345.5" r="4.05" fill="#b91555"/><circle cx="1151.9" cy="344" r="4.05" fill="#8e106a"/><circle cx="1177.1" cy="349.9" r="4.05" fill="#6f438e"/><circle cx="1126.7" cy="347.9" r="4.05" fill="#da1f3c"/><circle cx="1142.9" cy="346.3" r="4.05" fill="#d61d40"/><circle cx="1140.9" cy="333.1" r="4.05" fill="#cc1b46"/><circle cx="1145.9" cy="356.1" r="4.05" fill="#b0115c"/><circle cx="1165.7" cy="347.2" r="4.05" fill="#6f2d7c"/><circle cx="1133.9" cy="353.3" r="4.05" fill="#d31d42"/><circle cx="1133.5" cy="343.8" r="4.05" fill="#d21d42"/><circle cx="1132" cy="357.8" r="4.05" fill="#a80e62"/><circle cx="1137" cy="362.8" r="4.05" fill="#b41358"/><circle cx="1140" cy="345.8" r="4.05" fill="#b41358"/><circle cx="1151" cy="344.8" r="4.05" fill="#70408c"/><circle cx="1152" cy="353.8" r="4.05" fill="#685a9f"/><circle cx="1164" cy="348.8" r="4.05" fill="#685a9f"/><circle cx="1171" cy="347.8" r="4.05" fill="#6264a7"/><circle cx="1178" cy="347.8" r="4.05" fill="#655fa3"/><circle cx="1191" cy="348.8" r="4.05" fill="#6d4c94"/><circle cx="1185.5" cy="348.3" r="4.05" fill="#2b7fc3"/><circle cx="1207.6" cy="348.8" r="4.05" fill="#70408c"/><circle cx="1213.3" cy="348.8" r="4.05" fill="#6a579d"/><circle cx="1216.9" cy="348.8" r="4.05" fill="#685a9f"/><circle cx="1219" cy="348.8" r="4.05" fill="#6f458f"/><circle cx="1226.1" cy="348.8" r="4.05" fill="#6067a9"/><circle cx="1244.2" cy="348.8" r="4.05" fill="#6264a7"/></g><rect x="836" y="401" width="427.6" height="4.6" fill="#000"/><rect x="926.8" y="403.3" width="4.4" height="6.5" fill="#000"/><rect x="1033.8" y="403.3" width="4.4" height="6.5" fill="#000"/><rect x="1141.3" y="403.3" width="4.4" height="6.5" fill="#000"/><rect x="1248.8" y="403.3" width="4.4" height="6.5" fill="#000"/><rect x="873.8" y="403.3" width="2.4" height="6.5" fill="#000"/><rect x="981.2" y="403.3" width="2.4" height="6.5" fill="#000"/><rect x="1088.4" y="403.3" width="2.4" height="6.5" fill="#000"/><rect x="1195.8" y="403.3" width="2.4" height="6.5" fill="#000"/><rect x="1141.4" y="55" width="4.6" height="348.3" fill="#000"/><text x="930.5" y="429.5" font-size="22.09" text-anchor="middle" fill="#231815" textLength="43.3" lengthAdjust="spacingAndGlyphs">−0.6</text><text x="1037.5" y="429.5" font-size="22.09" text-anchor="middle" fill="#231815" textLength="43.3" lengthAdjust="spacingAndGlyphs">−0.3</text><text x="1141.8" y="429.5" font-size="22.09" text-anchor="middle" fill="#231815" textLength="30.5" lengthAdjust="spacingAndGlyphs">0.0</text><text x="1248.8" y="429.5" font-size="22.09" text-anchor="middle" fill="#231815" textLength="30.5" lengthAdjust="spacingAndGlyphs">0.3</text><text x="799" y="469" font-size="27.61" fill="#231815" textLength="489" lengthAdjust="spacingAndGlyphs">Shap Value (impact on the model output)</text><linearGradient id="cbB" x1="0" y1="0" x2="0" y2="1"><stop offset="0.000" stop-color="#3579bd"/><stop offset="0.100" stop-color="#4f70b4"/><stop offset="0.200" stop-color="#6067a9"/><stop offset="0.300" stop-color="#6a579d"/><stop offset="0.400" stop-color="#70408c"/><stop offset="0.500" stop-color="#6e186c"/><stop offset="0.570" stop-color="#86106c"/><stop offset="0.650" stop-color="#a80e62"/><stop offset="0.750" stop-color="#c0184f"/><stop offset="0.850" stop-color="#d81e3e"/><stop offset="1.000" stop-color="#e5232b"/></linearGradient><rect x="1284" y="162" width="15.6" height="186.6" fill="url(#cbB)"/><path d="M1292.8 163.7H1299.6" stroke="#fff" stroke-width="1.3" fill="none"/><text x="1311.4" y="170.6" font-size="20.01" textLength="39.5" lengthAdjust="spacingAndGlyphs">High</text><text x="1311.3" y="356.4" font-size="20.01" textLength="35.2" lengthAdjust="spacingAndGlyphs">Low</text><text transform="translate(1313.8,187.6) rotate(90)" font-size="23.97" textLength="142" lengthAdjust="spacingAndGlyphs">Feature value</text></g>
<g><text x="1563.8" y="35" font-size="29.18" textLength="304.8" lengthAdjust="spacingAndGlyphs">External Test Set (n=314)</text><text x="1479" y="107.6" font-size="21.88" text-anchor="end" fill="#231815" textLength="126" lengthAdjust="spacingAndGlyphs">DL-radiomics</text><text x="1481.4" y="189" font-size="21.88" text-anchor="end" fill="#231815" textLength="89" lengthAdjust="spacingAndGlyphs">6bp-5mC</text><text x="1478.8" y="270.5" font-size="21.88" text-anchor="end" fill="#231815" textLength="37.5" lengthAdjust="spacingAndGlyphs">Age</text><text x="1488.2" y="356" font-size="21.88" text-anchor="end" fill="#231815" textLength="91.5" lengthAdjust="spacingAndGlyphs">Solid size</text><text transform="translate(1384.5,265.5) rotate(-90)" font-size="27.09" text-anchor="middle" fill="#231815" textLength="89.5" lengthAdjust="spacingAndGlyphs">Feature</text><rect x="1485.4" y="96" width="429" height="5" fill="#e6e6e6"/><rect x="1485.4" y="179.4" width="429" height="5" fill="#e6e6e6"/><rect x="1485.4" y="262.8" width="429" height="5" fill="#e6e6e6"/><rect x="1485.4" y="346.4" width="429" height="5" fill="#e6e6e6"/><g class="bw"><circle cx="1505" cy="98.7" r="4.05" fill="#e5232b"/><circle cx="1509" cy="97.3" r="4.05" fill="#e5232b"/><circle cx="1511.4" cy="96.9" r="4.05" fill="#e5232b"/><circle cx="1517" cy="98.8" r="4.05" fill="#e2222f"/><circle cx="1522.6" cy="99" r="4.05" fill="#e4232c"/><circle cx="1537" cy="98.1" r="4.05" fill="#e22230"/><circle cx="1541" cy="97.9" r="4.05" fill="#e5232c"/><circle cx="1545.8" cy="100" r="4.05" fill="#e12230"/><circle cx="1557.8" cy="98.4" r="4.05" fill="#db1f39"/><circle cx="1561.8" cy="99.7" r="4.05" fill="#da1f3b"/><circle cx="1565" cy="97.1" r="4.05" fill="#d91e3d"/><circle cx="1566.6" cy="99.1" r="4.05" fill="#db1f3a"/><circle cx="1574.6" cy="98.5" r="4.05" fill="#d61d40"/><circle cx="1584.2" cy="98.7" r="4.05" fill="#d01c44"/><circle cx="1590.6" cy="98.3" r="4.05" fill="#c3194d"/><circle cx="1594.6" cy="97.2" r="4.05" fill="#b81555"/><circle cx="1600.3" cy="98.2" r="4.05" fill="#b1125b"/><circle cx="1614.3" cy="98.7" r="4.05" fill="#b0125b"/><circle cx="1622.7" cy="98.9" r="4.05" fill="#ad105e"/><circle cx="1626.7" cy="99.3" r="4.05" fill="#b1125b"/><circle cx="1630.7" cy="97.8" r="4.05" fill="#ab0f60"/><circle cx="1635.5" cy="97.5" r="4.05" fill="#af115c"/><circle cx="1639.5" cy="97.7" r="4.05" fill="#ac105f"/><circle cx="1651.5" cy="98.4" r="4.05" fill="#a90e61"/><circle cx="1657" cy="98.4" r="4.05" fill="#a60e63"/><circle cx="1665" cy="98.1" r="4.05" fill="#970f67"/><circle cx="1670.7" cy="98.6" r="4.05" fill="#920f69"/><circle cx="1677" cy="98.8" r="4.05" fill="#960f67"/><circle cx="1688.3" cy="98" r="4.05" fill="#920f68"/><circle cx="1697.9" cy="98.9" r="4.05" fill="#7a146c"/><circle cx="1701" cy="97.2" r="4.05" fill="#6f186c"/><circle cx="1712.3" cy="98.5" r="4.05" fill="#6e2073"/><circle cx="1723.5" cy="98" r="4.05" fill="#72176c"/><circle cx="1726.7" cy="97.8" r="4.05" fill="#74166c"/><circle cx="1736.3" cy="98.4" r="4.05" fill="#75166c"/><circle cx="1741.9" cy="98.1" r="4.05" fill="#70176c"/><circle cx="1756" cy="98.2" r="4.05" fill="#6f2375"/><circle cx="1763.5" cy="98.4" r="4.05" fill="#6f3180"/><circle cx="1769.9" cy="98.5" r="4.05" fill="#703b88"/><circle cx="1777.9" cy="98.3" r="4.05" fill="#70408c"/><circle cx="1784.3" cy="98.8" r="4.05" fill="#6f448f"/><circle cx="1789" cy="97.2" r="4.05" fill="#6d4c95"/><circle cx="1794.3" cy="98.6" r="4.05" fill="#6b529a"/><circle cx="1864.2" cy="113.3" r="4.05" fill="#4e70b4"/><circle cx="1846.2" cy="104.4" r="4.05" fill="#576caf"/><circle cx="1818.2" cy="92.9" r="4.05" fill="#6067a9"/><circle cx="1864.3" cy="97.8" r="4.05" fill="#4773b7"/><circle cx="1876.3" cy="98.8" r="4.05" fill="#4873b7"/><circle cx="1848.1" cy="106.5" r="4.05" fill="#5b69ac"/><circle cx="1857.5" cy="94" r="4.05" fill="#536eb2"/><circle cx="1848.2" cy="100.5" r="4.05" fill="#5c69ab"/><circle cx="1855.5" cy="91.1" r="4.05" fill="#576caf"/><circle cx="1811.9" cy="92.2" r="4.05" fill="#5f68aa"/><circle cx="1871.2" cy="102.7" r="4.05" fill="#576caf"/><circle cx="1866.8" cy="93.6" r="4.05" fill="#506fb3"/><circle cx="1860.2" cy="93.1" r="4.05" fill="#5070b4"/><circle cx="1839.6" cy="96.8" r="4.05" fill="#596bae"/><circle cx="1866.4" cy="87.6" r="4.05" fill="#4e70b4"/><circle cx="1838.4" cy="102.4" r="4.05" fill="#5d69ab"/><circle cx="1831.5" cy="107.8" r="4.05" fill="#6067a9"/><circle cx="1867.9" cy="84.8" r="4.05" fill="#536eb1"/><circle cx="1804.1" cy="102.4" r="4.05" fill="#675ba0"/><circle cx="1805.7" cy="99.3" r="4.05" fill="#665da1"/><circle cx="1801.5" cy="100" r="4.05" fill="#675ca1"/><circle cx="1852.5" cy="90.4" r="4.05" fill="#556db0"/><circle cx="1847" cy="99.2" r="4.05" fill="#5e68aa"/><circle cx="1871.8" cy="96.9" r="4.05" fill="#4d71b5"/><circle cx="1862" cy="92" r="4.05" fill="#4e70b4"/><circle cx="1822.7" cy="96.7" r="4.05" fill="#6a569c"/><circle cx="1849.1" cy="87.7" r="4.05" fill="#4e71b5"/><circle cx="1858.2" cy="89.3" r="4.05" fill="#556db0"/><circle cx="1857.6" cy="103.4" r="4.05" fill="#536eb1"/><circle cx="1840.7" cy="109.5" r="4.05" fill="#5a6aad"/><circle cx="1815.3" cy="91.6" r="4.05" fill="#576caf"/><circle cx="1876.5" cy="92.3" r="4.05" fill="#586bae"/><circle cx="1860.5" cy="98.6" r="4.05" fill="#4b71b5"/><circle cx="1870" cy="105.7" r="4.05" fill="#4b71b5"/><circle cx="1808.6" cy="93.2" r="4.05" fill="#5d69ab"/><circle cx="1871.2" cy="91.3" r="4.05" fill="#5070b4"/><circle cx="1837.9" cy="92.5" r="4.05" fill="#5a6aad"/><circle cx="1870.1" cy="87.2" r="4.05" fill="#5b6aac"/><circle cx="1878.3" cy="93.6" r="4.05" fill="#516fb3"/><circle cx="1828.9" cy="90.8" r="4.05" fill="#6263a6"/><circle cx="1851.9" cy="87.1" r="4.05" fill="#576caf"/><circle cx="1843.8" cy="98.2" r="4.05" fill="#546db1"/><circle cx="1879" cy="97.1" r="4.05" fill="#5070b3"/><circle cx="1830.6" cy="97.5" r="4.05" fill="#5d69ab"/><circle cx="1866.7" cy="91.3" r="4.05" fill="#5070b3"/><circle cx="1813.9" cy="91.7" r="4.05" fill="#5d69ab"/><circle cx="1861.2" cy="101.3" r="4.05" fill="#576caf"/><circle cx="1861.4" cy="104.4" r="4.05" fill="#4573b7"/><circle cx="1835.6" cy="102.5" r="4.05" fill="#586bae"/><circle cx="1855.9" cy="84.1" r="4.05" fill="#546db1"/><circle cx="1860.5" cy="105.4" r="4.05" fill="#5070b4"/><circle cx="1808.6" cy="99.5" r="4.05" fill="#655fa3"/><circle cx="1875.3" cy="94.6" r="4.05" fill="#5e68aa"/><circle cx="1834.7" cy="97.9" r="4.05" fill="#586bae"/><circle cx="1854" cy="112.8" r="4.05" fill="#506fb3"/><circle cx="1845.8" cy="91.9" r="4.05" fill="#596bae"/><circle cx="1840.8" cy="106.6" r="4.05" fill="#6363a6"/><circle cx="1843.5" cy="111.5" r="4.05" fill="#576caf"/><circle cx="1847.5" cy="90.5" r="4.05" fill="#4b72b6"/><circle cx="1815.3" cy="98.5" r="4.05" fill="#576caf"/><circle cx="1813.4" cy="104.4" r="4.05" fill="#6362a5"/><circle cx="1868.4" cy="109" r="4.05" fill="#536eb1"/><circle cx="1845.7" cy="111.5" r="4.05" fill="#5f68aa"/><circle cx="1864.5" cy="96.2" r="4.05" fill="#5070b4"/><circle cx="1834.2" cy="88.8" r="4.05" fill="#6067a9"/><circle cx="1840.3" cy="93.5" r="4.05" fill="#516fb3"/><circle cx="1852.2" cy="84.3" r="4.05" fill="#4374b8"/><circle cx="1849.5" cy="97.4" r="4.05" fill="#5d69ab"/><circle cx="1835.3" cy="91.4" r="4.05" fill="#576caf"/><circle cx="1861.8" cy="113.6" r="4.05" fill="#576caf"/><circle cx="1852.2" cy="106.9" r="4.05" fill="#526fb2"/><circle cx="1855.2" cy="90.5" r="4.05" fill="#5c69ab"/><circle cx="1856.3" cy="96.4" r="4.05" fill="#556db0"/><circle cx="1839.4" cy="90.1" r="4.05" fill="#556db0"/><circle cx="1871.9" cy="108" r="4.05" fill="#536eb1"/><circle cx="1859.9" cy="102" r="4.05" fill="#4b71b5"/><circle cx="1807.3" cy="102.6" r="4.05" fill="#6a579d"/><circle cx="1851.6" cy="113.5" r="4.05" fill="#566cb0"/><circle cx="1821.4" cy="103.9" r="4.05" fill="#69599e"/><circle cx="1839" cy="108.5" r="4.05" fill="#5c69ac"/><circle cx="1830.5" cy="94.4" r="4.05" fill="#5b6aac"/><circle cx="1837.1" cy="99" r="4.05" fill="#5c69ab"/><circle cx="1855.2" cy="106.4" r="4.05" fill="#526eb2"/><circle cx="1854.5" cy="85.2" r="4.05" fill="#576caf"/><circle cx="1845.6" cy="88.7" r="4.05" fill="#5a6aad"/><circle cx="1851.7" cy="110.6" r="4.05" fill="#526eb2"/><circle cx="1853.8" cy="87.5" r="4.05" fill="#4c71b5"/><circle cx="1861.8" cy="99.2" r="4.05" fill="#526eb2"/><circle cx="1823.3" cy="92.5" r="4.05" fill="#675ca1"/><circle cx="1796.6" cy="98.8" r="4.05" fill="#6a569c"/><circle cx="1805.7" cy="94.8" r="4.05" fill="#685a9f"/><circle cx="1839.8" cy="86.8" r="4.05" fill="#556db0"/><circle cx="1851.3" cy="103.9" r="4.05" fill="#516fb2"/><circle cx="1843.3" cy="89.4" r="4.05" fill="#5a6aad"/><circle cx="1846.9" cy="95.4" r="4.05" fill="#536eb1"/><circle cx="1857.1" cy="100.7" r="4.05" fill="#5b69ac"/><circle cx="1818.6" cy="101.8" r="4.05" fill="#6066a8"/><circle cx="1809.6" cy="104.6" r="4.05" fill="#685a9f"/><circle cx="1815.5" cy="95.5" r="4.05" fill="#6067a9"/><circle cx="1866.8" cy="99.8" r="4.05" fill="#566caf"/><circle cx="1823.1" cy="101.4" r="4.05" fill="#675ba0"/><circle cx="1801.4" cy="100.5" r="4.05" fill="#69589e"/><circle cx="1859.4" cy="110.9" r="4.05" fill="#546db1"/><circle cx="1819.1" cy="104.4" r="4.05" fill="#675ba0"/><circle cx="1838" cy="88.1" r="4.05" fill="#576caf"/><circle cx="1854.3" cy="99.7" r="4.05" fill="#526eb2"/><circle cx="1876.6" cy="101.6" r="4.05" fill="#596bae"/><circle cx="1856.6" cy="112.5" r="4.05" fill="#5a6aad"/><circle cx="1834.3" cy="108.6" r="4.05" fill="#556db0"/><circle cx="1810.4" cy="99.2" r="4.05" fill="#586bae"/><circle cx="1865.4" cy="86.8" r="4.05" fill="#506fb3"/><circle cx="1824.8" cy="99.2" r="4.05" fill="#655fa3"/><circle cx="1867.9" cy="106.7" r="4.05" fill="#516fb3"/><circle cx="1842.9" cy="86.6" r="4.05" fill="#536eb2"/><circle cx="1825.9" cy="106" r="4.05" fill="#665ea2"/><circle cx="1849.5" cy="84.2" r="4.05" fill="#5d69ab"/><circle cx="1823.2" cy="103.9" r="4.05" fill="#6461a4"/><circle cx="1865.1" cy="89.1" r="4.05" fill="#546db1"/><circle cx="1828.5" cy="106.2" r="4.05" fill="#586bae"/><circle cx="1830.7" cy="102.8" r="4.05" fill="#6264a7"/><circle cx="1842.2" cy="91.5" r="4.05" fill="#576caf"/><circle cx="1833" cy="92.8" r="4.05" fill="#5e68aa"/><circle cx="1863.1" cy="107.6" r="4.05" fill="#536eb2"/><circle cx="1849.7" cy="109.9" r="4.05" fill="#566db0"/><circle cx="1858.1" cy="86" r="4.05" fill="#596bae"/><circle cx="1817" cy="102" r="4.05" fill="#5d69ab"/><circle cx="1851.7" cy="93.4" r="4.05" fill="#506fb3"/><circle cx="1809.7" cy="95.7" r="4.05" fill="#6264a7"/><circle cx="1852.5" cy="96.7" r="4.05" fill="#5070b3"/><circle cx="1859.9" cy="95.6" r="4.05" fill="#4872b6"/><circle cx="1865" cy="101.1" r="4.05" fill="#526fb2"/><circle cx="1862.8" cy="96" r="4.05" fill="#4a72b6"/><circle cx="1843.9" cy="102.1" r="4.05" fill="#596bad"/><circle cx="1878.1" cy="103.4" r="4.05" fill="#4b71b5"/><circle cx="1861.9" cy="83.1" r="4.05" fill="#576caf"/><circle cx="1859.6" cy="108" r="4.05" fill="#546eb1"/><circle cx="1856.6" cy="109.3" r="4.05" fill="#4c71b5"/><circle cx="1856.4" cy="87.6" r="4.05" fill="#596bad"/><circle cx="1835.8" cy="95.4" r="4.05" fill="#576caf"/><circle cx="1836.3" cy="104.3" r="4.05" fill="#5e68aa"/><circle cx="1825.7" cy="91.7" r="4.05" fill="#69589e"/><circle cx="1830.5" cy="100.4" r="4.05" fill="#556db0"/><circle cx="1864.7" cy="105.3" r="4.05" fill="#4c71b5"/><circle cx="1833.6" cy="104.4" r="4.05" fill="#556db0"/><circle cx="1813.7" cy="99" r="4.05" fill="#6362a5"/><circle cx="1851.7" cy="100.2" r="4.05" fill="#586bae"/><circle cx="1865" cy="82.8" r="4.05" fill="#516fb3"/><circle cx="1819.9" cy="95.3" r="4.05" fill="#685ba0"/><circle cx="1808.7" cy="96.3" r="4.05" fill="#6362a5"/><circle cx="1879.4" cy="99.2" r="4.05" fill="#5a6aad"/><circle cx="1824.1" cy="95.2" r="4.05" fill="#69599f"/><circle cx="1881.7" cy="98.5" r="4.05" fill="#4573b7"/><circle cx="1860.8" cy="111.2" r="4.05" fill="#536eb1"/><circle cx="1822.3" cy="92.4" r="4.05" fill="#6b549b"/><circle cx="1864.3" cy="92.1" r="4.05" fill="#4f70b4"/><circle cx="1852.9" cy="103.8" r="4.05" fill="#5a6aad"/><circle cx="1873.1" cy="100.4" r="4.05" fill="#4374b8"/><circle cx="1865" cy="110.1" r="4.05" fill="#586bae"/><circle cx="1831.3" cy="95.7" r="4.05" fill="#5d69ab"/><circle cx="1861.3" cy="85.5" r="4.05" fill="#4c71b5"/><circle cx="1874" cy="103.3" r="4.05" fill="#4374b8"/><circle cx="1821.7" cy="100.5" r="4.05" fill="#6a569c"/><circle cx="1867.6" cy="103.5" r="4.05" fill="#546db1"/><circle cx="1874" cy="92.7" r="4.05" fill="#4673b7"/><circle cx="1843.9" cy="105.3" r="4.05" fill="#586bae"/><circle cx="1845.2" cy="101.1" r="4.05" fill="#4d71b5"/><circle cx="1853.2" cy="96.9" r="4.05" fill="#556db0"/><circle cx="1814.3" cy="94.6" r="4.05" fill="#556db0"/><circle cx="1870.1" cy="99.4" r="4.05" fill="#5a6aad"/><circle cx="1846.3" cy="107.5" r="4.05" fill="#536eb2"/><circle cx="1858.8" cy="113.3" r="4.05" fill="#566caf"/><circle cx="1827.8" cy="94.6" r="4.05" fill="#5c69ab"/><circle cx="1853.6" cy="94.7" r="4.05" fill="#586bae"/><circle cx="1856.4" cy="106.6" r="4.05" fill="#516fb3"/><circle cx="1866.4" cy="112.8" r="4.05" fill="#4f70b4"/><circle cx="1848.1" cy="93.8" r="4.05" fill="#586bae"/><circle cx="1826.3" cy="99" r="4.05" fill="#6363a6"/><circle cx="1867.7" cy="97.5" r="4.05" fill="#5c69ac"/><circle cx="1813.5" cy="101.6" r="4.05" fill="#6264a7"/><circle cx="1862.6" cy="90" r="4.05" fill="#516fb3"/><circle cx="1839.9" cy="100.3" r="4.05" fill="#596bae"/><circle cx="1842.5" cy="107.3" r="4.05" fill="#5c69ac"/><circle cx="1827.3" cy="101.8" r="4.05" fill="#6362a5"/><circle cx="1876.6" cy="105.6" r="4.05" fill="#526eb2"/><circle cx="1833.4" cy="101.9" r="4.05" fill="#5a6aad"/><circle cx="1870" cy="93.6" r="4.05" fill="#5070b3"/><circle cx="1832.5" cy="89.6" r="4.05" fill="#526fb2"/><circle cx="1840" cy="103.7" r="4.05" fill="#576caf"/><circle cx="1858.4" cy="83.5" r="4.05" fill="#5c69ac"/><circle cx="1836.6" cy="95.1" r="4.05" fill="#5b6aac"/><circle cx="1816.9" cy="105.2" r="4.05" fill="#596bae"/><circle cx="1869.7" cy="108.9" r="4.05" fill="#4574b8"/><circle cx="1837.6" cy="105.4" r="4.05" fill="#576caf"/><circle cx="1848.2" cy="112.8" r="4.05" fill="#586bae"/><circle cx="1845.6" cy="85.3" r="4.05" fill="#6067a9"/><circle cx="1869.7" cy="96.8" r="4.05" fill="#4f70b4"/><circle cx="1831.5" cy="98.5" r="4.05" fill="#5c69ab"/><circle cx="1864.6" cy="107.2" r="4.05" fill="#556db0"/><circle cx="1811.1" cy="101" r="4.05" fill="#5f68aa"/><circle cx="1873.8" cy="90.4" r="4.05" fill="#4d71b5"/><circle cx="1818.3" cy="98.5" r="4.05" fill="#6363a6"/><circle cx="1842.6" cy="95.2" r="4.05" fill="#576caf"/><circle cx="1853.3" cy="109.1" r="4.05" fill="#536eb2"/><circle cx="1848.8" cy="103.5" r="4.05" fill="#576caf"/><circle cx="1826" cy="102.5" r="4.05" fill="#2d7ec2"/><circle cx="1857" cy="89.5" r="4.05" fill="#3579bd"/><circle cx="1866" cy="86.5" r="4.05" fill="#3a77bb"/><circle cx="1852" cy="103.5" r="4.05" fill="#3579bd"/><circle cx="1868" cy="107.5" r="4.05" fill="#3579bd"/><circle cx="1840" cy="96.5" r="4.05" fill="#3a77bb"/><circle cx="1880" cy="97.5" r="4.05" fill="#2b7fc3"/><circle cx="1887.5" cy="98.5" r="4.05" fill="#4f70b4"/><circle cx="1894.8" cy="98.5" r="4.05" fill="#586cae"/><circle cx="1513.8" cy="181.9" r="4.05" fill="#e4232c"/><circle cx="1533.5" cy="182.2" r="4.05" fill="#e5232b"/><circle cx="1612.7" cy="182.3" r="4.05" fill="#d01c43"/><circle cx="1625.9" cy="182.3" r="4.05" fill="#b41359"/><circle cx="1629.9" cy="183.5" r="4.05" fill="#b51358"/><circle cx="1671.5" cy="182.3" r="4.05" fill="#c0184f"/><circle cx="1677.9" cy="181.8" r="4.05" fill="#88106b"/><circle cx="1681" cy="181.3" r="4.05" fill="#7a146c"/><circle cx="1691.5" cy="181.6" r="4.05" fill="#70176c"/><circle cx="1697.9" cy="181.7" r="4.05" fill="#6e1c70"/><circle cx="1710.7" cy="182.3" r="4.05" fill="#70176c"/><circle cx="1722.7" cy="181.7" r="4.05" fill="#6f2778"/><circle cx="1728.3" cy="181.4" r="4.05" fill="#6f3280"/><circle cx="1733.9" cy="181.6" r="4.05" fill="#703c89"/><circle cx="1744.3" cy="181.8" r="4.05" fill="#6e4791"/><circle cx="1746.7" cy="181.2" r="4.05" fill="#6e4993"/><circle cx="1755.5" cy="182.3" r="4.05" fill="#6c4e96"/><circle cx="1762" cy="181.5" r="4.05" fill="#69599f"/><circle cx="1811.7" cy="186.8" r="4.05" fill="#4773b7"/><circle cx="1772.4" cy="182.7" r="4.05" fill="#665da2"/><circle cx="1792.2" cy="185.2" r="4.05" fill="#6363a6"/><circle cx="1811.5" cy="183" r="4.05" fill="#347abe"/><circle cx="1821.8" cy="179.1" r="4.05" fill="#3e76ba"/><circle cx="1822.7" cy="168.7" r="4.05" fill="#3e76ba"/><circle cx="1834.2" cy="185.9" r="4.05" fill="#3b77bb"/><circle cx="1830.5" cy="172.8" r="4.05" fill="#4175b9"/><circle cx="1836.4" cy="178.7" r="4.05" fill="#3978bc"/><circle cx="1837.8" cy="179.5" r="4.05" fill="#337abe"/><circle cx="1832.4" cy="189.1" r="4.05" fill="#3579bd"/><circle cx="1809.7" cy="182.3" r="4.05" fill="#3a77bb"/><circle cx="1813.2" cy="192.7" r="4.05" fill="#4374b8"/><circle cx="1800.6" cy="178.8" r="4.05" fill="#516fb3"/><circle cx="1851" cy="183.6" r="4.05" fill="#3b77bb"/><circle cx="1814.9" cy="194.5" r="4.05" fill="#4075b9"/><circle cx="1819.4" cy="171.7" r="4.05" fill="#3479bd"/><circle cx="1795.6" cy="178.1" r="4.05" fill="#576caf"/><circle cx="1813.8" cy="171.6" r="4.05" fill="#3579bd"/><circle cx="1840.2" cy="186.7" r="4.05" fill="#337abe"/><circle cx="1822" cy="194.5" r="4.05" fill="#307cc0"/><circle cx="1842.7" cy="182" r="4.05" fill="#327bbf"/><circle cx="1825.5" cy="171.4" r="4.05" fill="#4275b9"/><circle cx="1798.5" cy="186.7" r="4.05" fill="#556db0"/><circle cx="1822.8" cy="172.1" r="4.05" fill="#3a77bb"/><circle cx="1820.6" cy="194.8" r="4.05" fill="#3b77bb"/><circle cx="1832" cy="176.5" r="4.05" fill="#3579bd"/><circle cx="1816.8" cy="187.3" r="4.05" fill="#3878bc"/><circle cx="1826.1" cy="176.6" r="4.05" fill="#3778bc"/><circle cx="1842.3" cy="185.8" r="4.05" fill="#317cc0"/><circle cx="1815.3" cy="185.5" r="4.05" fill="#3479bd"/><circle cx="1816.3" cy="176.5" r="4.05" fill="#2e7dc1"/><circle cx="1813.8" cy="165.2" r="4.05" fill="#3579bd"/><circle cx="1830.7" cy="180.2" r="4.05" fill="#307cc0"/><circle cx="1837.9" cy="183.2" r="4.05" fill="#4972b6"/><circle cx="1837.4" cy="175.4" r="4.05" fill="#2e7ec2"/><circle cx="1829" cy="188.2" r="4.05" fill="#3b77bb"/><circle cx="1827.6" cy="191.6" r="4.05" fill="#3a77bb"/><circle cx="1835.2" cy="182.5" r="4.05" fill="#3d76ba"/><circle cx="1806" cy="192.4" r="4.05" fill="#4374b8"/><circle cx="1785.9" cy="183.5" r="4.05" fill="#5d69ab"/><circle cx="1767.2" cy="182.6" r="4.05" fill="#69589e"/><circle cx="1823.8" cy="182.3" r="4.05" fill="#337abe"/><circle cx="1811.8" cy="177.5" r="4.05" fill="#307cc0"/><circle cx="1796.8" cy="180.3" r="4.05" fill="#526eb2"/><circle cx="1858.1" cy="181.7" r="4.05" fill="#337abe"/><circle cx="1821.8" cy="175.6" r="4.05" fill="#327bbf"/><circle cx="1785.8" cy="183.5" r="4.05" fill="#6066a8"/><circle cx="1799.4" cy="183.6" r="4.05" fill="#516fb3"/><circle cx="1818.1" cy="179.8" r="4.05" fill="#3a77bb"/><circle cx="1834.2" cy="177.8" r="4.05" fill="#3579bd"/><circle cx="1818.7" cy="182.9" r="4.05" fill="#3b77bb"/><circle cx="1809" cy="188.7" r="4.05" fill="#2b7fc3"/><circle cx="1803.6" cy="180.9" r="4.05" fill="#4075b9"/><circle cx="1818.9" cy="179.2" r="4.05" fill="#3778bc"/><circle cx="1795.5" cy="183.9" r="4.05" fill="#536eb2"/><circle cx="1811" cy="167.5" r="4.05" fill="#3579bd"/><circle cx="1820.3" cy="190.8" r="4.05" fill="#3579bd"/><circle cx="1765.2" cy="182" r="4.05" fill="#6a569c"/><circle cx="1800.5" cy="176.4" r="4.05" fill="#4d71b5"/><circle cx="1804.3" cy="184.4" r="4.05" fill="#4972b6"/><circle cx="1844.3" cy="184.7" r="4.05" fill="#2f7dc1"/><circle cx="1800.7" cy="185.7" r="4.05" fill="#4f70b4"/><circle cx="1809.5" cy="194.1" r="4.05" fill="#337abe"/><circle cx="1816.4" cy="174.2" r="4.05" fill="#3f75b9"/><circle cx="1818.4" cy="189.7" r="4.05" fill="#3679bd"/><circle cx="1820.8" cy="168.4" r="4.05" fill="#3978bc"/><circle cx="1818.2" cy="193.6" r="4.05" fill="#3d76ba"/><circle cx="1838.4" cy="177.1" r="4.05" fill="#3479bd"/><circle cx="1827.1" cy="184.9" r="4.05" fill="#4972b6"/><circle cx="1809.8" cy="184.7" r="4.05" fill="#3679bd"/><circle cx="1813.4" cy="174.8" r="4.05" fill="#337abe"/><circle cx="1824.6" cy="192.4" r="4.05" fill="#3978bc"/><circle cx="1851.7" cy="179.9" r="4.05" fill="#4075b9"/><circle cx="1788.6" cy="180.1" r="4.05" fill="#5c69ab"/><circle cx="1816.5" cy="196.6" r="4.05" fill="#3778bc"/><circle cx="1825.9" cy="174.8" r="4.05" fill="#317bbf"/><circle cx="1834.9" cy="181.6" r="4.05" fill="#3479bd"/><circle cx="1815.3" cy="182.7" r="4.05" fill="#4075b9"/><circle cx="1829" cy="182.6" r="4.05" fill="#337abe"/><circle cx="1807.2" cy="184.8" r="4.05" fill="#4972b6"/><circle cx="1813.1" cy="179.9" r="4.05" fill="#3579bd"/><circle cx="1811.3" cy="173.2" r="4.05" fill="#3978bc"/><circle cx="1827.2" cy="175.7" r="4.05" fill="#3878bc"/><circle cx="1803.4" cy="186.8" r="4.05" fill="#4374b8"/><circle cx="1828.8" cy="179.2" r="4.05" fill="#3d76ba"/><circle cx="1771" cy="182.5" r="4.05" fill="#6560a3"/><circle cx="1854.8" cy="182.3" r="4.05" fill="#3b77bb"/><circle cx="1824.9" cy="189.3" r="4.05" fill="#317cc0"/><circle cx="1844.4" cy="181.3" r="4.05" fill="#347abe"/><circle cx="1826" cy="183.5" r="4.05" fill="#3a77bb"/><circle cx="1820.6" cy="184.6" r="4.05" fill="#3c77bb"/><circle cx="1835.2" cy="185.3" r="4.05" fill="#317cc0"/><circle cx="1821.9" cy="185.5" r="4.05" fill="#327bbf"/><circle cx="1804.4" cy="189.9" r="4.05" fill="#506fb3"/><circle cx="1809.5" cy="191.8" r="4.05" fill="#347abe"/><circle cx="1805.4" cy="175.4" r="4.05" fill="#4673b7"/><circle cx="1797.7" cy="177.1" r="4.05" fill="#586bae"/><circle cx="1848" cy="180.2" r="4.05" fill="#2e7dc1"/><circle cx="1858.4" cy="180.5" r="4.05" fill="#3977bb"/><circle cx="1821.2" cy="181.8" r="4.05" fill="#3679bd"/><circle cx="1807.3" cy="181.5" r="4.05" fill="#4474b8"/><circle cx="1808.7" cy="172.3" r="4.05" fill="#4374b8"/><circle cx="1813.8" cy="169.1" r="4.05" fill="#4175b9"/><circle cx="1808.5" cy="169.4" r="4.05" fill="#3579bd"/><circle cx="1815.3" cy="188.4" r="4.05" fill="#4a72b6"/><circle cx="1814" cy="192.4" r="4.05" fill="#3579bd"/><circle cx="1865.3" cy="181.9" r="4.05" fill="#2c7fc3"/><circle cx="1829.2" cy="171.9" r="4.05" fill="#327bbf"/><circle cx="1803" cy="172.6" r="4.05" fill="#4b71b5"/><circle cx="1811.2" cy="170.9" r="4.05" fill="#307cc0"/><circle cx="1824.1" cy="188.9" r="4.05" fill="#3679bd"/><circle cx="1799.9" cy="182.3" r="4.05" fill="#536eb1"/><circle cx="1778.2" cy="181.5" r="4.05" fill="#5d68ab"/><circle cx="1806.8" cy="179.1" r="4.05" fill="#3f76ba"/><circle cx="1794" cy="182.6" r="4.05" fill="#5b69ac"/><circle cx="1781.6" cy="183.7" r="4.05" fill="#6461a4"/><circle cx="1811" cy="189.7" r="4.05" fill="#2f7dc1"/><circle cx="1808.8" cy="178.2" r="4.05" fill="#337abe"/><circle cx="1817.4" cy="170.3" r="4.05" fill="#337abe"/><circle cx="1815.5" cy="198" r="4.05" fill="#3f76ba"/><circle cx="1829.7" cy="183.4" r="4.05" fill="#3579bd"/><circle cx="1821.1" cy="188.1" r="4.05" fill="#3479bd"/><circle cx="1831.5" cy="186.2" r="4.05" fill="#3d76ba"/><circle cx="1797.8" cy="179.8" r="4.05" fill="#516fb3"/><circle cx="1810.2" cy="174.8" r="4.05" fill="#337abe"/><circle cx="1814.1" cy="178.3" r="4.05" fill="#327bbf"/><circle cx="1824.7" cy="179.8" r="4.05" fill="#3778bc"/><circle cx="1789.3" cy="182.2" r="4.05" fill="#526eb2"/><circle cx="1805.8" cy="187.9" r="4.05" fill="#4773b7"/><circle cx="1781.7" cy="180.4" r="4.05" fill="#6264a7"/><circle cx="1832.5" cy="174.4" r="4.05" fill="#4075b9"/><circle cx="1800" cy="187.6" r="4.05" fill="#4872b6"/><circle cx="1862.1" cy="181.8" r="4.05" fill="#327bbf"/><circle cx="1842.5" cy="178.5" r="4.05" fill="#337bbf"/><circle cx="1796.9" cy="186.8" r="4.05" fill="#536eb1"/><circle cx="1824.5" cy="187.2" r="4.05" fill="#347abe"/><circle cx="1819.1" cy="174.7" r="4.05" fill="#3579bd"/><circle cx="1830" cy="189.8" r="4.05" fill="#347abe"/><circle cx="1811.6" cy="196.5" r="4.05" fill="#3e76ba"/><circle cx="1818.5" cy="166.9" r="4.05" fill="#3579bd"/><circle cx="1835.3" cy="187.7" r="4.05" fill="#317bbf"/><circle cx="1822.2" cy="192.1" r="4.05" fill="#3778bc"/><circle cx="1792.7" cy="177.5" r="4.05" fill="#566caf"/><circle cx="1803.1" cy="177.5" r="4.05" fill="#506fb3"/><circle cx="1805.7" cy="171.7" r="4.05" fill="#4773b7"/><circle cx="1871" cy="180.4" r="4.05" fill="#2d7ec2"/><circle cx="1873.5" cy="183.4" r="4.05" fill="#2d7ec2"/><circle cx="1746.7" cy="265.3" r="4.05" fill="#db1f3a"/><circle cx="1750.3" cy="265.3" r="4.05" fill="#d81e3e"/><circle cx="1761" cy="265.3" r="4.05" fill="#ad105e"/><circle cx="1763.7" cy="265.8" r="4.05" fill="#a80e62"/><circle cx="1769.4" cy="265.3" r="4.05" fill="#7f126c"/><circle cx="1774.5" cy="265.3" r="4.05" fill="#78156c"/><circle cx="1782" cy="268.3" r="4.05" fill="#d81e3e"/><circle cx="1790" cy="270.3" r="4.05" fill="#cc1b46"/><circle cx="1810.6" cy="256.7" r="4.05" fill="#675ca1"/><circle cx="1815.3" cy="280.8" r="4.05" fill="#5c69ab"/><circle cx="1810.5" cy="271.1" r="4.05" fill="#69589e"/><circle cx="1821.4" cy="273.6" r="4.05" fill="#4f70b4"/><circle cx="1820.7" cy="265.4" r="4.05" fill="#516fb2"/><circle cx="1823.4" cy="263.9" r="4.05" fill="#4d71b5"/><circle cx="1828.3" cy="266.1" r="4.05" fill="#566cb0"/><circle cx="1805.6" cy="252.7" r="4.05" fill="#6d4a93"/><circle cx="1831.5" cy="263.2" r="4.05" fill="#4773b7"/><circle cx="1821.7" cy="269.5" r="4.05" fill="#576caf"/><circle cx="1813.5" cy="251.8" r="4.05" fill="#5b6aac"/><circle cx="1806.1" cy="269.7" r="4.05" fill="#6d4c95"/><circle cx="1845.9" cy="265.4" r="4.05" fill="#4c71b5"/><circle cx="1795.2" cy="260.9" r="4.05" fill="#703f8b"/><circle cx="1816.2" cy="277.9" r="4.05" fill="#586bae"/><circle cx="1809.7" cy="255.4" r="4.05" fill="#685a9f"/><circle cx="1813.2" cy="259.7" r="4.05" fill="#6460a4"/><circle cx="1806.6" cy="277.3" r="4.05" fill="#6d4d95"/><circle cx="1809.2" cy="251.8" r="4.05" fill="#6363a6"/><circle cx="1818" cy="255.9" r="4.05" fill="#5a6aad"/><circle cx="1794.1" cy="269.9" r="4.05" fill="#6e1e71"/><circle cx="1803.3" cy="257.6" r="4.05" fill="#6e4892"/><circle cx="1797.6" cy="259.7" r="4.05" fill="#703b88"/><circle cx="1807.1" cy="257.5" r="4.05" fill="#685ba0"/><circle cx="1803.4" cy="254.9" r="4.05" fill="#6f4690"/><circle cx="1819" cy="271.2" r="4.05" fill="#536eb1"/><circle cx="1811.6" cy="253.4" r="4.05" fill="#6460a4"/><circle cx="1821.2" cy="267.5" r="4.05" fill="#556db0"/><circle cx="1810.7" cy="249.8" r="4.05" fill="#6263a6"/><circle cx="1825.3" cy="269.4" r="4.05" fill="#516fb2"/><circle cx="1817.2" cy="259.4" r="4.05" fill="#5f68aa"/><circle cx="1814.2" cy="256.4" r="4.05" fill="#6461a4"/><circle cx="1817.8" cy="265" r="4.05" fill="#5a6aad"/><circle cx="1821" cy="257.3" r="4.05" fill="#546db0"/><circle cx="1815" cy="274.8" r="4.05" fill="#5e68aa"/><circle cx="1811.6" cy="259.1" r="4.05" fill="#6362a5"/><circle cx="1798.5" cy="269" r="4.05" fill="#6f2778"/><circle cx="1817.9" cy="274.9" r="4.05" fill="#576caf"/><circle cx="1812.4" cy="261.4" r="4.05" fill="#675ca1"/><circle cx="1813.8" cy="278" r="4.05" fill="#596bae"/><circle cx="1815.3" cy="249.9" r="4.05" fill="#576caf"/><circle cx="1816.1" cy="261.9" r="4.05" fill="#596bad"/><circle cx="1792.1" cy="267.6" r="4.05" fill="#6e2274"/><circle cx="1813.5" cy="272.3" r="4.05" fill="#6067a9"/><circle cx="1797.5" cy="271.9" r="4.05" fill="#703684"/><circle cx="1835.3" cy="266.8" r="4.05" fill="#4573b7"/><circle cx="1819.9" cy="274.8" r="4.05" fill="#596bad"/><circle cx="1801.2" cy="256.8" r="4.05" fill="#703a87"/><circle cx="1787.6" cy="264.3" r="4.05" fill="#920f69"/><circle cx="1802" cy="263.2" r="4.05" fill="#6f3583"/><circle cx="1817.1" cy="268.9" r="4.05" fill="#506fb3"/><circle cx="1802.4" cy="260.9" r="4.05" fill="#703785"/><circle cx="1800" cy="273.5" r="4.05" fill="#6f448f"/><circle cx="1814.7" cy="264.9" r="4.05" fill="#5a6aad"/><circle cx="1801.6" cy="259.5" r="4.05" fill="#6f2c7c"/><circle cx="1808.9" cy="265.7" r="4.05" fill="#6460a4"/><circle cx="1805.4" cy="267.7" r="4.05" fill="#6e4892"/><circle cx="1817.7" cy="252.5" r="4.05" fill="#586bae"/><circle cx="1809.3" cy="275.1" r="4.05" fill="#6e4892"/><circle cx="1826.1" cy="263.3" r="4.05" fill="#526eb2"/><circle cx="1838.3" cy="264.5" r="4.05" fill="#4773b7"/><circle cx="1805.1" cy="263.2" r="4.05" fill="#6f4590"/><circle cx="1803.9" cy="269.2" r="4.05" fill="#6f3684"/><circle cx="1819.2" cy="254.8" r="4.05" fill="#536eb2"/><circle cx="1825.8" cy="266.9" r="4.05" fill="#5c69ac"/><circle cx="1796.3" cy="266.1" r="4.05" fill="#6f2d7d"/><circle cx="1783.1" cy="265.1" r="4.05" fill="#b0115c"/><circle cx="1809.7" cy="271.8" r="4.05" fill="#6b559b"/><circle cx="1827.3" cy="264.6" r="4.05" fill="#546db0"/><circle cx="1819" cy="261.7" r="4.05" fill="#596bae"/><circle cx="1796.1" cy="263.2" r="4.05" fill="#6f448f"/><circle cx="1802" cy="272.3" r="4.05" fill="#703e8a"/><circle cx="1812.4" cy="267.9" r="4.05" fill="#596bae"/><circle cx="1822.1" cy="260.3" r="4.05" fill="#576caf"/><circle cx="1798.3" cy="264.6" r="4.05" fill="#6d4d95"/><circle cx="1803.8" cy="267.4" r="4.05" fill="#6c4e96"/><circle cx="1810.6" cy="277.6" r="4.05" fill="#685a9f"/><circle cx="1816.2" cy="271" r="4.05" fill="#596bae"/><circle cx="1800.3" cy="270.1" r="4.05" fill="#6f458f"/><circle cx="1818.3" cy="268.9" r="4.05" fill="#506fb3"/><circle cx="1810.9" cy="280.5" r="4.05" fill="#6560a4"/><circle cx="1808.5" cy="278" r="4.05" fill="#6b549b"/><circle cx="1842.3" cy="265.3" r="4.05" fill="#3d76ba"/><circle cx="1800.6" cy="264.3" r="4.05" fill="#703f8c"/><circle cx="1801.5" cy="266.7" r="4.05" fill="#703c89"/><circle cx="1809.2" cy="268.3" r="4.05" fill="#685a9f"/><circle cx="1799" cy="262.7" r="4.05" fill="#6f3583"/><circle cx="1807.7" cy="261.6" r="4.05" fill="#6c5098"/><circle cx="1824.6" cy="260.5" r="4.05" fill="#5a6aad"/><circle cx="1813.8" cy="268.3" r="4.05" fill="#6264a7"/><circle cx="1807.8" cy="259.6" r="4.05" fill="#6a579d"/><circle cx="1805" cy="260.8" r="4.05" fill="#6d4c95"/><circle cx="1813.3" cy="261.9" r="4.05" fill="#655fa3"/><circle cx="1805.2" cy="273.8" r="4.05" fill="#6c4e96"/><circle cx="1812.1" cy="275.4" r="4.05" fill="#675ca1"/><circle cx="1839.5" cy="266.6" r="4.05" fill="#4a72b6"/><circle cx="1810.8" cy="265.5" r="4.05" fill="#685a9f"/><circle cx="1819.5" cy="259" r="4.05" fill="#546eb1"/><circle cx="1803.3" cy="275.9" r="4.05" fill="#703c89"/><circle cx="1835.5" cy="264.9" r="4.05" fill="#4175b9"/><circle cx="1823.5" cy="266.8" r="4.05" fill="#2b7fc3"/><circle cx="1836" cy="264.3" r="4.05" fill="#3579bd"/><circle cx="1841" cy="265.3" r="4.05" fill="#3579bd"/><circle cx="1857.9" cy="265.3" r="4.05" fill="#4274b8"/><circle cx="1804.7" cy="337.2" r="4.05" fill="#cd1b46"/><circle cx="1807.6" cy="345" r="4.05" fill="#bc1652"/><circle cx="1813.6" cy="355.6" r="4.05" fill="#a70e62"/><circle cx="1808.7" cy="356.3" r="4.05" fill="#cf1c44"/><circle cx="1820.6" cy="351" r="4.05" fill="#78156c"/><circle cx="1807.3" cy="358.9" r="4.05" fill="#c81a49"/><circle cx="1798.1" cy="358.5" r="4.05" fill="#dc2038"/><circle cx="1802.8" cy="361.1" r="4.05" fill="#d21d42"/><circle cx="1811.5" cy="337.3" r="4.05" fill="#c5194b"/><circle cx="1803.9" cy="334.2" r="4.05" fill="#dc1f38"/><circle cx="1810.9" cy="338.5" r="4.05" fill="#d11c43"/><circle cx="1801.1" cy="355.4" r="4.05" fill="#de2035"/><circle cx="1816.9" cy="346.8" r="4.05" fill="#9e0f65"/><circle cx="1817.3" cy="353.4" r="4.05" fill="#8b106b"/><circle cx="1831.5" cy="347.7" r="4.05" fill="#6f2d7d"/><circle cx="1802.9" cy="335.7" r="4.05" fill="#da1f3b"/><circle cx="1803.7" cy="357.7" r="4.05" fill="#e02133"/><circle cx="1809.9" cy="360.6" r="4.05" fill="#ce1b45"/><circle cx="1844.5" cy="349.3" r="4.05" fill="#6e1a6d"/><circle cx="1827.9" cy="350.1" r="4.05" fill="#6f3482"/><circle cx="1805.9" cy="356.8" r="4.05" fill="#c81a49"/><circle cx="1796.1" cy="348.7" r="4.05" fill="#d11c43"/><circle cx="1801.3" cy="345.7" r="4.05" fill="#d61e3f"/><circle cx="1852.1" cy="348.5" r="4.05" fill="#6f2577"/><circle cx="1816.9" cy="344.3" r="4.05" fill="#82116c"/><circle cx="1795.3" cy="352.3" r="4.05" fill="#de2036"/><circle cx="1802.5" cy="349" r="4.05" fill="#da1f3b"/><circle cx="1808.4" cy="350.1" r="4.05" fill="#c61a4b"/><circle cx="1801" cy="351.3" r="4.05" fill="#d91e3d"/><circle cx="1791.3" cy="350.4" r="4.05" fill="#e12131"/><circle cx="1814.2" cy="347.7" r="4.05" fill="#ab0f60"/><circle cx="1812.5" cy="343.5" r="4.05" fill="#ba1653"/><circle cx="1805.6" cy="364.3" r="4.05" fill="#d61e3f"/><circle cx="1804" cy="360.1" r="4.05" fill="#d61d3f"/><circle cx="1807.5" cy="341.1" r="4.05" fill="#cb1b47"/><circle cx="1797.9" cy="340.3" r="4.05" fill="#d91f3c"/><circle cx="1792.1" cy="347.7" r="4.05" fill="#db1f39"/><circle cx="1810.4" cy="334.2" r="4.05" fill="#c1184e"/><circle cx="1805.1" cy="346.5" r="4.05" fill="#d81e3e"/><circle cx="1796.8" cy="346" r="4.05" fill="#d41d41"/><circle cx="1795.8" cy="354.8" r="4.05" fill="#dc2038"/><circle cx="1811.9" cy="357.6" r="4.05" fill="#c5194c"/><circle cx="1788.4" cy="348.3" r="4.05" fill="#e12231"/><circle cx="1815.2" cy="350" r="4.05" fill="#960f67"/><circle cx="1834.2" cy="349.4" r="4.05" fill="#6f3584"/><circle cx="1842.2" cy="349.4" r="4.05" fill="#6e1f72"/><circle cx="1800.9" cy="342.5" r="4.05" fill="#d81e3e"/><circle cx="1808.6" cy="354.4" r="4.05" fill="#cc1b46"/><circle cx="1820.2" cy="345.4" r="4.05" fill="#6e1c6f"/><circle cx="1799.5" cy="351.3" r="4.05" fill="#e02133"/><circle cx="1824.1" cy="349.8" r="4.05" fill="#6e196d"/><circle cx="1808" cy="337.8" r="4.05" fill="#c61a4b"/><circle cx="1807" cy="354.3" r="4.05" fill="#d41d41"/><circle cx="1784.2" cy="348.8" r="4.05" fill="#e4232c"/><circle cx="1808.4" cy="340.8" r="4.05" fill="#c91a48"/><circle cx="1806.3" cy="335.3" r="4.05" fill="#d81e3e"/><circle cx="1799.8" cy="346.5" r="4.05" fill="#d81e3d"/><circle cx="1811.8" cy="361.4" r="4.05" fill="#c3194d"/><circle cx="1847.7" cy="349.2" r="4.05" fill="#6f2c7c"/><circle cx="1815.9" cy="356.9" r="4.05" fill="#9a0f66"/><circle cx="1814.5" cy="340.6" r="4.05" fill="#a20e64"/><circle cx="1796.8" cy="343.3" r="4.05" fill="#dd2037"/><circle cx="1813.2" cy="348.1" r="4.05" fill="#b51457"/><circle cx="1809.8" cy="363.6" r="4.05" fill="#cd1b46"/><circle cx="1802.3" cy="357.7" r="4.05" fill="#db1f3a"/><circle cx="1817.1" cy="350.9" r="4.05" fill="#920f68"/><circle cx="1811.8" cy="339.2" r="4.05" fill="#bc1652"/><circle cx="1813.7" cy="352.1" r="4.05" fill="#b81555"/><circle cx="1813.4" cy="346.5" r="4.05" fill="#ba1554"/><circle cx="1804.8" cy="344.5" r="4.05" fill="#d41d41"/><circle cx="1815.3" cy="344.3" r="4.05" fill="#9c0f65"/><circle cx="1823.2" cy="350.5" r="4.05" fill="#6e186c"/><circle cx="1797.7" cy="342.3" r="4.05" fill="#d81e3e"/><circle cx="1807.9" cy="347.3" r="4.05" fill="#d01c44"/><circle cx="1804.6" cy="340.8" r="4.05" fill="#d31d42"/><circle cx="1810" cy="347.5" r="4.05" fill="#c3194d"/><circle cx="1804.6" cy="353.5" r="4.05" fill="#d81e3e"/><circle cx="1802.3" cy="339.9" r="4.05" fill="#d71e3f"/><circle cx="1810.6" cy="343.7" r="4.05" fill="#bf1850"/><circle cx="1807.2" cy="362.8" r="4.05" fill="#d11c43"/><circle cx="1798.1" cy="349" r="4.05" fill="#dc1f38"/><circle cx="1807.2" cy="351" r="4.05" fill="#d71e3f"/><circle cx="1804.4" cy="351" r="4.05" fill="#cc1b46"/><circle cx="1814" cy="354.6" r="4.05" fill="#990f67"/><circle cx="1838.1" cy="348.3" r="4.05" fill="#6f2576"/><circle cx="1799.9" cy="354" r="4.05" fill="#dd2036"/><circle cx="1803" cy="357.9" r="4.05" fill="#b41358"/><circle cx="1806" cy="337.9" r="4.05" fill="#a80e62"/><circle cx="1814" cy="341.9" r="4.05" fill="#6e186c"/><circle cx="1816" cy="344.9" r="4.05" fill="#6e186c"/><circle cx="1833" cy="349.9" r="4.05" fill="#6f458f"/><circle cx="1846" cy="348.9" r="4.05" fill="#6c4e96"/><circle cx="1823.4" cy="348.9" r="4.05" fill="#2b7fc3"/><circle cx="1864.8" cy="348.9" r="4.05" fill="#6e4993"/></g><rect x="1485.4" y="399" width="429" height="4.6" fill="#000"/><rect x="1576.8" y="401.3" width="4.4" height="6.5" fill="#000"/><rect x="1691.8" y="401.3" width="4.4" height="6.5" fill="#000"/><rect x="1806.6" y="401.3" width="4.4" height="6.5" fill="#000"/><rect x="1520.4" y="401.3" width="2.4" height="6.5" fill="#000"/><rect x="1635.2" y="401.3" width="2.4" height="6.5" fill="#000"/><rect x="1749.5" y="401.3" width="2.4" height="6.5" fill="#000"/><rect x="1864.3" y="401.3" width="2.4" height="6.5" fill="#000"/><rect x="1806.5" y="55" width="4.6" height="350.5" fill="#000"/><text x="1582.5" y="427" font-size="22.09" text-anchor="middle" fill="#231815" textLength="43.3" lengthAdjust="spacingAndGlyphs">−0.6</text><text x="1697.5" y="427" font-size="22.09" text-anchor="middle" fill="#231815" textLength="43.3" lengthAdjust="spacingAndGlyphs">−0.3</text><text x="1808.6" y="427" font-size="22.09" text-anchor="middle" fill="#231815" textLength="30.5" lengthAdjust="spacingAndGlyphs">0.0</text><text x="1456" y="469" font-size="27.61" fill="#231815" textLength="489" lengthAdjust="spacingAndGlyphs">Shap Value (impact on the model output)</text><linearGradient id="cbC" x1="0" y1="0" x2="0" y2="1"><stop offset="0.000" stop-color="#3579bd"/><stop offset="0.100" stop-color="#4f70b4"/><stop offset="0.200" stop-color="#6067a9"/><stop offset="0.300" stop-color="#6a579d"/><stop offset="0.400" stop-color="#70408c"/><stop offset="0.500" stop-color="#6e186c"/><stop offset="0.570" stop-color="#86106c"/><stop offset="0.650" stop-color="#a80e62"/><stop offset="0.750" stop-color="#c0184f"/><stop offset="0.850" stop-color="#d81e3e"/><stop offset="1.000" stop-color="#e5232b"/></linearGradient><rect x="1927.3" y="162" width="15.7" height="186.7" fill="url(#cbC)"/><path d="M1936.1 163.7H1943" stroke="#fff" stroke-width="1.3" fill="none"/><text x="1954.8" y="170.6" font-size="20.01" textLength="39.5" lengthAdjust="spacingAndGlyphs">High</text><text x="1954.7" y="356.5" font-size="20.01" textLength="35.2" lengthAdjust="spacingAndGlyphs">Low</text><text transform="translate(1957.2,187.6) rotate(90)" font-size="23.97" textLength="142" lengthAdjust="spacingAndGlyphs">Feature value</text></g>
<text x="299.5" y="573" font-size="46.47" fill="#0d8aa1" font-weight="bold" textLength="447" lengthAdjust="spacingAndGlyphs">Low-risk participants</text>
<g><circle cx="256.6" cy="684" r="51.5" fill="#82b474" stroke="#231f20" stroke-width="2.6"/><path d="M256.5 748.7C222 748.7 186 761.5 167.2 778.5C159.5 785.5 155 792 152.9 801L115.7 952.6A25.3 25.3 0 0 0 165.3 964.2L190.2 874L191.6 880L191.6 1216.5L243.4 1216.5L243.4 982.2L256.5 982.2L269.6 982.2L269.6 1216.5L321.4 1216.5L321.4 880L322.8 874L347.7 964.2A25.3 25.3 0 0 0 397.3 952.6L360.1 801C358 792 353.5 785.5 345.8 778.5C327 761.5 291 748.7 256.5 748.7Z" fill="#82b474" stroke="#231f20" stroke-width="2.6" stroke-linejoin="miter"/></g>
<path d="M295.2 784L421.3 751.5V895.6L325.8 872.2Z" fill="#cdd7e8" fill-opacity="0.6"/>
<g fill="none" stroke-linecap="round"><path d="M256.2 799L249.8 810.5M256.2 799L267.5 808" stroke="#d9bba9" stroke-width="6.2"/><path d="M256.2 758.8V800" stroke="#dcc0ae" stroke-width="11.4" stroke-linecap="butt"/><ellipse cx="256.2" cy="758.6" rx="5.7" ry="2.4" fill="#e9d5c8" stroke="#c9a996" stroke-width="1.2"/><path d="M256.2 762V800" stroke="#b99783" stroke-width="11.4" stroke-dasharray="1.1 2.3" stroke-linecap="butt" opacity="0.75"/><path d="M255 799L249.8 810.5M257.5 799.5L267.5 808" stroke="#b99783" stroke-width="6.2" stroke-dasharray="1 2.2" stroke-linecap="butt" opacity="0.7"/></g><path d="M235.9 775C239 775 242.1 775.9 244.1 778.1C246.1 780.3 247.3 785.1 248.2 788.4C249 791.6 249.2 794.7 249.2 797.6C249.2 800.5 248.4 801.8 248.2 805.9C248 810 248 816.1 248.2 822.3C248.4 828.5 248.8 837.8 249.2 842.9C249.6 848 250.8 850.1 250.8 853.2C250.8 856.3 250.3 859 249.2 861.4C248.1 863.8 247 865.4 244.1 867.6C241.2 869.8 236.5 872.9 231.7 874.8C226.9 876.7 219.9 877.5 215.3 878.9C210.7 880.3 207.6 882 204 883C200.4 884 196.3 885.4 193.7 885.1C191.1 884.8 189.6 883.8 188.5 881C187.4 878.2 187 873.2 187 868.6C187 864 187.6 859.2 188.5 853.2C189.4 847.2 191.2 838.6 192.6 832.6C194 826.6 194.9 822.4 196.8 817.2C198.7 812.1 201.1 806.7 204 801.7C206.9 796.7 210.7 791.2 214.3 787.3C217.9 783.4 222 780.1 225.6 778.1C229.2 776.1 232.8 775 235.9 775Z" fill="url(#lgL)"/><path d="M277 775C279.6 775 283 776.2 286.3 778.1C289.6 780 293.2 782.7 296.6 786.3C300 789.9 304 795.1 306.9 799.7C309.8 804.3 311.9 808.6 314.1 814.1C316.3 819.6 318.6 826.1 320.3 832.6C322 839.1 323.5 846.3 324.4 853.2C325.2 860.1 325.6 868.8 325.4 873.8C325.2 878.8 324.9 881.1 323.3 883C321.8 884.9 319.5 885.4 316.1 885.1C312.7 884.8 307.4 882.7 302.8 881C298.2 879.3 292.9 876.9 288.3 874.8C283.7 872.7 278.8 870.5 275 868.6C271.2 866.7 267.8 866.1 265.7 863.5C263.6 860.9 263.1 858.4 262.6 853.2C262.1 848.1 262.2 838.6 262.6 832.6C263 826.6 263.7 821.5 264.7 817.2C265.7 812.9 268.5 810.2 268.8 806.9C269.1 803.6 267.1 801 266.7 797.6C266.3 794.2 266 789.5 266.7 786.3C267.4 783 269.2 780 270.9 778.1C272.6 776.2 274.4 775 277 775Z" fill="url(#lgR)"/><g clip-path="url(#clL)" fill="none"><path d="M242 778Q252 790 250 806L262 800 258 772Z" fill="#b9474a" opacity="0.55"/><path d="M245 842Q253 852 249 866L238 872Z" fill="#b9474a" opacity="0.5"/><path d="M196 826Q214 846 251 838" stroke="#c94a4d" stroke-width="1.5" opacity="0.9"/><path d="M188 862Q200 878 216 880" stroke="#c94a4d" stroke-width="1.4" opacity="0.9"/></g><g clip-path="url(#clR)" fill="none"><path d="M266 778Q262 795 269 808Q262 822 262 845Q262 862 276 870Q284 860 281 842Q279 820 272 806Q277 792 277 774Z" fill="#a94346" opacity="0.7"/><path d="M322 838Q322 866 303 881" stroke="#c94a4d" stroke-width="1.4" opacity="0.9"/></g>
<clipPath id="ctc1"><rect x="0" y="0" width="371.4" height="270.1"/></clipPath><clipPath id="ctl1"><path d="M124 54.6C133.3 52.5 140.3 51.6 150 52C159.7 52.4 179.7 54.6 182 57C184.3 59.4 169.3 62 164 66.6C158.7 71.2 152.5 79.1 150 84.6C147.5 90.1 147.5 93.8 149 99.6C150.5 105.4 155.7 114.1 159 119.6C162.3 125.1 164.2 128.3 169 132.6C173.8 136.9 184.5 141.9 188 145.6C191.5 149.3 190.7 151.4 190 154.6C189.3 157.8 186.8 160.4 184 164.6C181.2 168.8 175.5 173.8 173 179.6C170.5 185.4 171.3 194.1 169 199.6C166.7 205.1 163.2 209.3 159 212.6C154.8 215.9 149.8 218.1 144 219.6C138.2 221.1 131.5 222.4 124 221.6C116.5 220.8 106.5 218.3 99 214.6C91.5 210.9 84.5 205.4 79 199.6C73.5 193.8 69.5 187.1 66 179.6C62.5 172.1 59.7 162.9 58 154.6C56.3 146.3 55.3 138.8 56 129.6C56.7 120.4 59 107.9 62 99.6C65 91.3 68.7 85.4 74 79.6C79.3 73.8 85.7 68.8 94 64.6C102.3 60.4 114.7 56.7 124 54.6Z"/><path d="M212 56.6C213.2 54.4 224.5 49.1 234 49.6C243.5 50.1 259 55.1 269 59.6C279 64.1 286.5 69.9 294 76.6C301.5 83.3 309.5 91.6 314 99.6C318.5 107.6 319.5 117.1 321 124.6C322.5 132.1 322.6 139 323 144.6C323.4 150.2 324.8 151.4 323.5 158.2C322.2 165 320 177.1 315.1 185.5C310.2 193.9 302.9 203 294.1 208.6C285.4 214.2 273.1 217.3 262.6 219.1C252.1 220.8 239.5 221.2 231.1 219.1C222.7 217 216 212.1 212.2 206.5C208.3 200.9 208 191.8 208 185.5C208 179.2 211.8 174.6 212.2 168.7C212.5 162.8 207.6 154.7 210.1 149.8C212.6 144.9 222.8 141.8 226.9 139.3C231.1 136.8 231.7 137.9 235 134.6C238.3 131.3 244.3 124.6 247 119.6C249.7 114.6 250.7 109.6 251 104.6C251.3 99.6 250.7 94.6 249 89.6C247.3 84.6 244.7 79.1 241 74.6C237.3 70.1 231.8 65.6 227 62.6C222.2 59.6 210.8 58.8 212 56.6Z"/></clipPath><g transform="translate(421,660.4)" clip-path="url(#ctc1)"><rect width="371.4" height="270.1" fill="#000"/><circle cx="186" cy="131" r="187" fill="#272c2f"/><path d="M36 240Q100 262 189 264Q278 262 338 238" stroke="#d4d7d8" stroke-width="2.6" fill="none"/><path d="M120 264.5Q189 269 258 264.5" stroke="#9aa0a2" stroke-width="1.2" fill="none"/><path d="M186 21C194.3 20.5 200.2 16.2 209 13.6C217.8 11 229 7.3 239 5.6C249 3.9 260.7 3.1 269 3.6C277.3 4.1 283.2 5.8 289 8.6C294.8 11.4 299 14.9 304 20.6C309 26.3 314 36.6 319 42.6C324 48.6 329 51.6 334 56.6C339 61.6 344.8 66.3 349 72.6C353.2 78.9 356.5 86.8 359 94.6C361.5 102.4 363 111.3 364 119.6C365 127.9 365.2 137.9 365 144.6C364.8 151.3 364.5 152.8 363 159.6C361.5 166.4 359.5 177.3 356 185.6C352.5 193.9 348.2 202.3 342 209.6C335.8 216.9 327 224.1 319 229.6C311 235.1 303.2 238.8 294 242.6C284.8 246.4 274 250.1 264 252.6C254 255.1 246.5 256.5 234 257.6C221.5 258.7 204 259 189 259C174 259 156.5 258.7 144 257.6C131.5 256.5 124 255.1 114 252.6C104 250.1 93.2 246.4 84 242.6C74.8 238.8 67 235.1 59 229.6C51 224.1 42.5 216.9 36 209.6C29.5 202.3 24.2 193.9 20 185.6C15.8 177.3 13 168.9 11 159.6C9 150.3 8.4 137.5 8 129.6C7.6 121.7 7.4 117.8 8.4 112C9.4 106.2 10.9 102.5 14 94.6C17.1 86.7 21 73.8 27 64.6C33 55.4 43.5 46.3 50 39.6C56.5 32.9 60.3 29.3 66 24.6C71.7 19.9 77.7 14.4 84 11.6C90.3 8.8 95.7 7.9 104 7.6C112.3 7.3 124.8 8.1 134 9.6C143.2 11.1 150.3 14.7 159 16.6C167.7 18.5 177.7 21.5 186 21Z" fill="none" stroke="#363c3f" stroke-width="5" transform="translate(-4.6,-3.4) scale(1.025,1.026)"/><path d="M186 21C194.3 20.5 200.2 16.2 209 13.6C217.8 11 229 7.3 239 5.6C249 3.9 260.7 3.1 269 3.6C277.3 4.1 283.2 5.8 289 8.6C294.8 11.4 299 14.9 304 20.6C309 26.3 314 36.6 319 42.6C324 48.6 329 51.6 334 56.6C339 61.6 344.8 66.3 349 72.6C353.2 78.9 356.5 86.8 359 94.6C361.5 102.4 363 111.3 364 119.6C365 127.9 365.2 137.9 365 144.6C364.8 151.3 364.5 152.8 363 159.6C361.5 166.4 359.5 177.3 356 185.6C352.5 193.9 348.2 202.3 342 209.6C335.8 216.9 327 224.1 319 229.6C311 235.1 303.2 238.8 294 242.6C284.8 246.4 274 250.1 264 252.6C254 255.1 246.5 256.5 234 257.6C221.5 258.7 204 259 189 259C174 259 156.5 258.7 144 257.6C131.5 256.5 124 255.1 114 252.6C104 250.1 93.2 246.4 84 242.6C74.8 238.8 67 235.1 59 229.6C51 224.1 42.5 216.9 36 209.6C29.5 202.3 24.2 193.9 20 185.6C15.8 177.3 13 168.9 11 159.6C9 150.3 8.4 137.5 8 129.6C7.6 121.7 7.4 117.8 8.4 112C9.4 106.2 10.9 102.5 14 94.6C17.1 86.7 21 73.8 27 64.6C33 55.4 43.5 46.3 50 39.6C56.5 32.9 60.3 29.3 66 24.6C71.7 19.9 77.7 14.4 84 11.6C90.3 8.8 95.7 7.9 104 7.6C112.3 7.3 124.8 8.1 134 9.6C143.2 11.1 150.3 14.7 159 16.6C167.7 18.5 177.7 21.5 186 21Z" fill="#c6cacc" stroke="#dfe1e2" stroke-width="1"/><ellipse cx="96" cy="42" rx="46" ry="11" fill="#d7dadb" transform="rotate(-20 96 42)"/><ellipse cx="278" cy="40" rx="46" ry="11" fill="#d7dadb" transform="rotate(20 278 40)"/><path d="M186 21C194.3 20.5 200.2 16.2 209 13.6C217.8 11 229 7.3 239 5.6C249 3.9 260.7 3.1 269 3.6C277.3 4.1 283.2 5.8 289 8.6C294.8 11.4 299 14.9 304 20.6C309 26.3 314 36.6 319 42.6C324 48.6 329 51.6 334 56.6C339 61.6 344.8 66.3 349 72.6C353.2 78.9 356.5 86.8 359 94.6C361.5 102.4 363 111.3 364 119.6C365 127.9 365.2 137.9 365 144.6C364.8 151.3 364.5 152.8 363 159.6C361.5 166.4 359.5 177.3 356 185.6C352.5 193.9 348.2 202.3 342 209.6C335.8 216.9 327 224.1 319 229.6C311 235.1 303.2 238.8 294 242.6C284.8 246.4 274 250.1 264 252.6C254 255.1 246.5 256.5 234 257.6C221.5 258.7 204 259 189 259C174 259 156.5 258.7 144 257.6C131.5 256.5 124 255.1 114 252.6C104 250.1 93.2 246.4 84 242.6C74.8 238.8 67 235.1 59 229.6C51 224.1 42.5 216.9 36 209.6C29.5 202.3 24.2 193.9 20 185.6C15.8 177.3 13 168.9 11 159.6C9 150.3 8.4 137.5 8 129.6C7.6 121.7 7.4 117.8 8.4 112C9.4 106.2 10.9 102.5 14 94.6C17.1 86.7 21 73.8 27 64.6C33 55.4 43.5 46.3 50 39.6C56.5 32.9 60.3 29.3 66 24.6C71.7 19.9 77.7 14.4 84 11.6C90.3 8.8 95.7 7.9 104 7.6C112.3 7.3 124.8 8.1 134 9.6C143.2 11.1 150.3 14.7 159 16.6C167.7 18.5 177.7 21.5 186 21Z" fill="none" stroke="#d9dbdc" stroke-width="13" opacity="0.95" transform="translate(29.5,23.5) scale(0.842,0.82)"/><ellipse cx="194" cy="46" rx="30" ry="8" fill="#ececec"/><path d="M124 54.6C133.3 52.5 140.3 51.6 150 52C159.7 52.4 179.7 54.6 182 57C184.3 59.4 169.3 62 164 66.6C158.7 71.2 152.5 79.1 150 84.6C147.5 90.1 147.5 93.8 149 99.6C150.5 105.4 155.7 114.1 159 119.6C162.3 125.1 164.2 128.3 169 132.6C173.8 136.9 184.5 141.9 188 145.6C191.5 149.3 190.7 151.4 190 154.6C189.3 157.8 186.8 160.4 184 164.6C181.2 168.8 175.5 173.8 173 179.6C170.5 185.4 171.3 194.1 169 199.6C166.7 205.1 163.2 209.3 159 212.6C154.8 215.9 149.8 218.1 144 219.6C138.2 221.1 131.5 222.4 124 221.6C116.5 220.8 106.5 218.3 99 214.6C91.5 210.9 84.5 205.4 79 199.6C73.5 193.8 69.5 187.1 66 179.6C62.5 172.1 59.7 162.9 58 154.6C56.3 146.3 55.3 138.8 56 129.6C56.7 120.4 59 107.9 62 99.6C65 91.3 68.7 85.4 74 79.6C79.3 73.8 85.7 68.8 94 64.6C102.3 60.4 114.7 56.7 124 54.6Z" fill="#30363a"/><path d="M212 56.6C213.2 54.4 224.5 49.1 234 49.6C243.5 50.1 259 55.1 269 59.6C279 64.1 286.5 69.9 294 76.6C301.5 83.3 309.5 91.6 314 99.6C318.5 107.6 319.5 117.1 321 124.6C322.5 132.1 322.6 139 323 144.6C323.4 150.2 324.8 151.4 323.5 158.2C322.2 165 320 177.1 315.1 185.5C310.2 193.9 302.9 203 294.1 208.6C285.4 214.2 273.1 217.3 262.6 219.1C252.1 220.8 239.5 221.2 231.1 219.1C222.7 217 216 212.1 212.2 206.5C208.3 200.9 208 191.8 208 185.5C208 179.2 211.8 174.6 212.2 168.7C212.5 162.8 207.6 154.7 210.1 149.8C212.6 144.9 222.8 141.8 226.9 139.3C231.1 136.8 231.7 137.9 235 134.6C238.3 131.3 244.3 124.6 247 119.6C249.7 114.6 250.7 109.6 251 104.6C251.3 99.6 250.7 94.6 249 89.6C247.3 84.6 244.7 79.1 241 74.6C237.3 70.1 231.8 65.6 227 62.6C222.2 59.6 210.8 58.8 212 56.6Z" fill="#30363a"/><g clip-path="url(#ctl1)"><path d="M139.5 177.8l-4.6 3.4M155.1 208.4l3.6 0.3M182.4 162.1l-1.9 0.6M118.9 93.8l-0.6 4M57.8 88.8l3.6 4.3M158.6 79.1l-1.7 1.3M138.7 73.5l5.4 0M84.1 88.5l-5.4 0.3M94.8 215.1l-0.6 4.5M83.4 211.6l-3.3 4.8M175.8 102.7l0.9 2M75.5 63l2.5 3.4M56.5 167l1.4 2.5M165.7 133.5l2 3.1M150.4 61.7l-1.6 0.1M156.5 195.3l5 0.3M105.1 150.1l1.7 0M80.2 214l4 2.8M180.6 211.8l1.5 2.7M126.3 183.5l4.6 1.6M162.8 197.8l5.7 0.7M68.2 109.8l-1.9 5.3M101.6 208.7l-0.4 2.9M98.5 82.1l2.1 0.5M148.3 221l1.5 0.8M188.2 142.5l0.7 2.5M135.6 192.1l0.5 3.4M63.5 207.4l3.7 0.4M168.3 74.1l-3.8 4.3M140.5 185.6l3.3 1.1M76 195.3l2.1 2.8M189.9 196.5l-3.5 0.3M121.4 175.7l0.2 2.8M110.1 76.8l2.2 5.5M184.6 158.3l0 3M67.9 98.2l-4.2 3.4M104.4 185.3l-3.5 3M145 180.8l1.9 4.2M93.6 134.4l-3.5 3.1M95.4 212.4l-1.9 3.7M57.6 144.8l3.2 3.2M118 190.5l-2.3 4.6M102.6 161.2l-3.6 3.8M102.9 195l-4.2 1.8M186.8 214.2l-0.2 3.9M78.3 193.9l-3.6 0.7M148.7 174.1l-1.5 1.7M160.6 150.5l-1.7 2.9M139.6 183.4l-2 4.3M59.7 79.1l0.8 4.3M85.4 168.3l-0.7 1.5M119.2 90.4l2.1 0.4M98.5 82.8l1.4 0.9M118.4 116.5l-1.4 3.9M87.9 205.2l3.3 0M93.3 121.5l4.9 1.9M106.1 58.1l-0.7 1.8M129.1 109.6l-1.5 5.6M165.7 123.1l-3.7 2.4M105.5 76.1l-1.2 3.9M184.3 216.2l-1 2.9M175.7 52.2l3.8 1.3M138.4 75.9l-2.2 5.1M106.4 125.2l2.1 1.8M186.3 116.4l-5.6 0.7M135.8 96.1l-3.7 0.2M111.7 106.1l-3.7 0.2M94.4 132.9l4 1.6M115.4 101.7l-4 3.3M57.8 142.3l3.7 4.3" stroke="#6d7275" stroke-width="0.9" fill="none" stroke-linecap="round"/><path d="M298.3 91.2l1.5 1.6M322.2 99.3l-1.2 3.4M282.5 152l-1.4 1.5M295.8 100.6l-0.3 3M242.3 139.4l0.3 3.1M294 149.7l2.6 0.3M260.6 205l-3.7 1.4M209.7 181.5l0.9 4M289.8 156.8l0.3 5.6M252.5 116l-2.1 1.1M242.2 190.3l5.2 1.1M288.2 123l3.1 3.9M313.2 73.8l0.3 4M265.5 105.7l3.7 1.9M301.8 61.2l3.9 3.4M299.4 162.1l4.7 0.4M321 218.8l-1 1.4M305.3 86.8l-2.6 5.2M290.3 72.4l3.4 4.5M225.3 153.1l0.6 2.1M279.9 57l3 1.1M216.3 59.4l-1.1 4.7M309.5 72.4l0.6 2.8M277.3 132.6l-3.1 0.6M214.4 167.8l3.9 2M266.4 203.9l-0.7 4.2M238.4 143.1l3.4 3.5M267.7 72.3l2.3 2.1M293.1 80l-2.8 3.5M217.8 162.8l2 0.6M276.6 90l-3.4 1.4M245.3 184.6l4.7 0.4M214.2 75.2l-4.5 0.7M233.8 69.3l-4.5 0.4M302.8 73.3l-1.2 2.9M235.1 106.1l-1.1 2.9M252.6 72.7l-3.8 2.2M300.9 123.1l-3.4 1.7M276.4 146.8l-2.2 2.4M219.2 55.2l1.3 1M310.7 131.1l-1.1 1M262.3 200.4l-1.3 3.2M261.8 66.5l2 1M251.3 115l-2 0.8M237.3 96.6l2.4 1.4M235.2 131.3l5.6 0.6M250.6 208.6l-2.5 3.8M262.5 209.8l4.2 1.6M241.6 163.9l-1.5 1.7M231.2 53.8l1.4 1.2M254.3 214.6l1.2 2.6M262.1 97.6l-3.2 3.5M226.9 90.4l-3 4.9M282.6 122.6l-1.5 0.1M215 181.7l0.5 1.6M271.3 217.3l-0.2 3.1M218.8 61.7l-3.5 1.2M316.1 58.7l1.2 1.2M253.9 59.8l2.3 2.4M243.3 58.3l5.8 0.7M228.7 135.8l1.2 3.7M217.7 102.8l3.7 1.3M314.4 151l-2.2 1.1M210 141.1l0.2 4.1M251.5 155.6l-3.7 4.3M243.5 125.7l-2.1 1.3M221.4 102.4l4.8 1.4M302.6 102.6l1.7 0.7M236.3 63.9l0.9 4M236.3 60l-1 1.4" stroke="#6d7275" stroke-width="0.9" fill="none" stroke-linecap="round"/><path d="M150 146L176 142M96 146L112 141 118 150M112 95L116 86M136 100L140 92M128 104L131 98M120 190L121 205M135 152L150 150" stroke="#e8e8e8" stroke-width="2" fill="none" stroke-linecap="round"/><path d="M246 147L262 143 272 141M272 141L302 141.5M262 143L268 150M256 152L262 160M275 84L281 88M268 108L274 100" stroke="#e8e8e8" stroke-width="2" fill="none" stroke-linecap="round"/><circle cx="258" cy="146" r="3.2" fill="#f2f2f2"/><circle cx="250" cy="156" r="3" fill="#f2f2f2"/><circle cx="255" cy="150" r="1.5" fill="#111"/><circle cx="113" cy="98" r="2.2" fill="#f2f2f2"/><circle cx="128" cy="105" r="2" fill="#f2f2f2"/><circle cx="143" cy="104" r="2" fill="#f2f2f2"/><circle cx="141" cy="151" r="2" fill="#111"/></g><ellipse cx="73.5" cy="80.5" rx="10" ry="2.6" fill="#f6f6f6" transform="rotate(-52 73.5 80.5)"/><ellipse cx="53.6" cy="128.8" rx="10" ry="2.6" fill="#f6f6f6" transform="rotate(-86 53.6 128.8)"/><ellipse cx="59.9" cy="177.1" rx="10" ry="2.6" fill="#f6f6f6" transform="rotate(62 59.9 177.1)"/><ellipse cx="107.1" cy="222.5" rx="10" ry="2.6" fill="#f6f6f6" transform="rotate(22 107.1 222.5)"/><ellipse cx="268.9" cy="221" rx="10" ry="2.6" fill="#f6f6f6" transform="rotate(-22 268.9 221)"/><ellipse cx="317.2" cy="170" rx="10" ry="2.6" fill="#f6f6f6" transform="rotate(-62 317.2 170)"/><ellipse cx="325.8" cy="125" rx="10" ry="2.6" fill="#f6f6f6" transform="rotate(88 325.8 125)"/><ellipse cx="304.6" cy="76.3" rx="10" ry="2.6" fill="#f6f6f6" transform="rotate(52 304.6 76.3)"/><ellipse cx="237" cy="228" rx="10" ry="2.6" fill="#f6f6f6" transform="rotate(-8 237 228)"/><ellipse cx="140" cy="228" rx="10" ry="2.6" fill="#f6f6f6" transform="rotate(8 140 228)"/><ellipse cx="199.8" cy="100.3" rx="52.5" ry="46" fill="#dadcdd"/><ellipse cx="199.8" cy="100.1" rx="48.5" ry="42" fill="#f7f7f7"/><ellipse cx="180" cy="118" rx="10" ry="7" fill="#e4e5e5" transform="rotate(-25 180 118)"/><path d="M150 145Q168 150 182 140L178 132Q166 140 152 140Z" fill="#ececec"/><path d="M222 140Q236 150 250 146L248 141Q236 142 226 134Z" fill="#ececec"/><ellipse cx="203.8" cy="158.2" rx="10.5" ry="10.5" fill="#ebebeb"/><ellipse cx="191.2" cy="187.6" rx="19" ry="17" fill="#eeeeee"/><path d="M160 226Q163 215 176 216Q186 210 191 214Q197 210 207 216Q220 215 222 226Q214 230 206 224Q199 219 191 224Q184 219 176 224Q168 230 160 226Z" fill="#f2f2f2"/><ellipse cx="189" cy="204" rx="10" ry="7" fill="#c9cdcf"/><ellipse cx="189" cy="233.8" rx="3" ry="4.5" fill="#f4f4f4"/><ellipse cx="187" cy="40" rx="22" ry="5" fill="#e6e8e8"/><path d="M121 152Q126 148 132 152Q138 154 136 161Q133 168 127 166Q119 164 121 152Z" fill="#f0f0f0"/><circle cx="135.5" cy="153.5" r="3.6" fill="#ededed"/><rect x="114" y="141.8" width="26.8" height="29.4" fill="none" stroke="#d8392b" stroke-width="1.1"/></g>
<path d="M353.9 1212H614.7L749.5 1294.3H217.3Z" fill="#dfe7f2"/>
<text x="424.6" y="981.5" font-size="32.3" textLength="330.5" lengthAdjust="spacingAndGlyphs">Nodule type: Pure-solid</text><text x="424.6" y="1038.6" font-size="32.3" textLength="289" lengthAdjust="spacingAndGlyphs">Solid size: 21.36 mm</text><text x="424.6" y="1095.7" font-size="32.3" textLength="366.5" lengthAdjust="spacingAndGlyphs">Location: Right lower lobe</text><text x="424.6" y="1152.8" font-size="32.3" textLength="337" lengthAdjust="spacingAndGlyphs">Histology: Hemangioma</text><text x="424.6" y="1209.9" font-size="32.3" textLength="355" lengthAdjust="spacingAndGlyphs">clinic-RadmC score: 9.93</text>
<path d="M113.6 1391.9L128 1391.9L140 1411.2L128 1430.5L113.6 1430.5Z" fill="#c5292b" stroke="#000" stroke-width="2.9" stroke-linejoin="miter"/><path d="M152 1391.9L772.5 1391.9L772.5 1430.5L152 1430.5L140 1411.2Z" fill="#3f699f" stroke="#000" stroke-width="2.9" stroke-linejoin="miter"/><path d="M783 1391.9L814.6 1391.9L814.6 1430.5L783 1430.5L772.7 1411.2Z" fill="#3f699f" stroke="#000" stroke-width="2.9" stroke-linejoin="miter"/><path d="M825.4 1391.9L847 1391.9L847 1430.5L825.4 1430.5L815 1411.2Z" fill="#3f699f" stroke="#000" stroke-width="2.9" stroke-linejoin="miter"/><path d="M140.2 1416.5V1426.5M140.2 1437.5V1447.5M820.8 1420V1425.5M820.8 1437.5V1446" stroke="#000" stroke-width="2.4" fill="none"/><path d="M126.8 1367.5V1398.8M456.3 1367V1399M728.8 1370L792 1398.8M853.8 1365L831.3 1398.8" stroke="#3a3a3a" stroke-width="0.9" fill="none"/><text x="61.6" y="1360.6" font-size="26.68" textLength="186.5" lengthAdjust="spacingAndGlyphs">solid size=21.36</text><text x="342.6" y="1360.6" font-size="26.68" textLength="304" lengthAdjust="spacingAndGlyphs">DL-radiomics score=18.04</text><text x="664" y="1360.6" font-size="26.68" textLength="86" lengthAdjust="spacingAndGlyphs">age=41</text><text x="761.8" y="1360.6" font-size="26.68" textLength="259" lengthAdjust="spacingAndGlyphs">6bp-5mC score=71.14</text><text x="455.5" y="1420" font-size="26.68" text-anchor="middle" fill="#fff" textLength="79" lengthAdjust="spacingAndGlyphs">−0.625</text><text x="75.8" y="1468.8" font-size="26.68" textLength="131" lengthAdjust="spacingAndGlyphs">f(x)=0.0993</text><text x="748" y="1468.8" font-size="26.68" textLength="149.5" lengthAdjust="spacingAndGlyphs">E[f(x)]=0.772</text><rect x="17.5" y="1490.4" width="925.5" height="4.2" fill="#000"/><rect x="38.2" y="1494" width="4" height="4.2" fill="#3a3f42"/><text x="40.5" y="1524" font-size="26.47" text-anchor="middle" fill="#231815" textLength="49.4" lengthAdjust="spacingAndGlyphs">0.00</text><rect x="240.3" y="1494" width="4" height="4.2" fill="#3a3f42"/><text x="242.6" y="1524" font-size="26.47" text-anchor="middle" fill="#231815" textLength="49.4" lengthAdjust="spacingAndGlyphs">0.20</text><rect x="442.4" y="1494" width="4" height="4.2" fill="#3a3f42"/><text x="444.7" y="1524" font-size="26.47" text-anchor="middle" fill="#231815" textLength="49.4" lengthAdjust="spacingAndGlyphs">0.40</text><rect x="644.6" y="1494" width="4" height="4.2" fill="#3a3f42"/><text x="646.9" y="1524" font-size="26.47" text-anchor="middle" fill="#231815" textLength="49.4" lengthAdjust="spacingAndGlyphs">0.60</text><rect x="846.7" y="1494" width="4" height="4.2" fill="#3a3f42"/><text x="849" y="1524" font-size="26.47" text-anchor="middle" fill="#231815" textLength="49.4" lengthAdjust="spacingAndGlyphs">0.80</text><text x="402" y="1552.8" font-size="27.09" textLength="143.5" lengthAdjust="spacingAndGlyphs">SHAP value</text>
<text x="1354.8" y="572.3" font-size="46.16" fill="#ee8e3e" font-weight="bold" textLength="452" lengthAdjust="spacingAndGlyphs">High-risk participants</text>
<g transform="translate(1048.5,-10.4) translate(0,747.4) scale(1,0.99) translate(0,-747.4)"><circle cx="256.6" cy="684" r="51.2" fill="#f0b429" stroke="#000" stroke-width="3.1"/><path d="M256.5 748.7C222 748.7 186 761.5 167.2 778.5C159.5 785.5 155 792 152.9 801L115.7 952.6A25.3 25.3 0 0 0 165.3 964.2L190.2 874L191.6 880L191.6 1216.5L243.4 1216.5L243.4 982.2L256.5 982.2L269.6 982.2L269.6 1216.5L321.4 1216.5L321.4 880L322.8 874L347.7 964.2A25.3 25.3 0 0 0 397.3 952.6L360.1 801C358 792 353.5 785.5 345.8 778.5C327 761.5 291 748.7 256.5 748.7Z" fill="#f0b429" stroke="#000" stroke-width="3.1" stroke-linejoin="miter"/></g>
<path d="M1348.8 777.5L1469.4 745V885.6L1373 862.2Z" fill="#cdd7e8" fill-opacity="0.6"/>
<g transform="translate(1048.5,-10.4) translate(0,747.4) scale(1,0.99) translate(0,-747.4)"><g fill="none" stroke-linecap="round"><path d="M256.2 799L249.8 810.5M256.2 799L267.5 808" stroke="#d9bba9" stroke-width="6.2"/><path d="M256.2 758.8V800" stroke="#dcc0ae" stroke-width="11.4" stroke-linecap="butt"/><ellipse cx="256.2" cy="758.6" rx="5.7" ry="2.4" fill="#e9d5c8" stroke="#c9a996" stroke-width="1.2"/><path d="M256.2 762V800" stroke="#b99783" stroke-width="11.4" stroke-dasharray="1.1 2.3" stroke-linecap="butt" opacity="0.75"/><path d="M255 799L249.8 810.5M257.5 799.5L267.5 808" stroke="#b99783" stroke-width="6.2" stroke-dasharray="1 2.2" stroke-linecap="butt" opacity="0.7"/></g><path d="M235.9 775C239 775 242.1 775.9 244.1 778.1C246.1 780.3 247.3 785.1 248.2 788.4C249 791.6 249.2 794.7 249.2 797.6C249.2 800.5 248.4 801.8 248.2 805.9C248 810 248 816.1 248.2 822.3C248.4 828.5 248.8 837.8 249.2 842.9C249.6 848 250.8 850.1 250.8 853.2C250.8 856.3 250.3 859 249.2 861.4C248.1 863.8 247 865.4 244.1 867.6C241.2 869.8 236.5 872.9 231.7 874.8C226.9 876.7 219.9 877.5 215.3 878.9C210.7 880.3 207.6 882 204 883C200.4 884 196.3 885.4 193.7 885.1C191.1 884.8 189.6 883.8 188.5 881C187.4 878.2 187 873.2 187 868.6C187 864 187.6 859.2 188.5 853.2C189.4 847.2 191.2 838.6 192.6 832.6C194 826.6 194.9 822.4 196.8 817.2C198.7 812.1 201.1 806.7 204 801.7C206.9 796.7 210.7 791.2 214.3 787.3C217.9 783.4 222 780.1 225.6 778.1C229.2 776.1 232.8 775 235.9 775Z" fill="url(#lgL)"/><path d="M277 775C279.6 775 283 776.2 286.3 778.1C289.6 780 293.2 782.7 296.6 786.3C300 789.9 304 795.1 306.9 799.7C309.8 804.3 311.9 808.6 314.1 814.1C316.3 819.6 318.6 826.1 320.3 832.6C322 839.1 323.5 846.3 324.4 853.2C325.2 860.1 325.6 868.8 325.4 873.8C325.2 878.8 324.9 881.1 323.3 883C321.8 884.9 319.5 885.4 316.1 885.1C312.7 884.8 307.4 882.7 302.8 881C298.2 879.3 292.9 876.9 288.3 874.8C283.7 872.7 278.8 870.5 275 868.6C271.2 866.7 267.8 866.1 265.7 863.5C263.6 860.9 263.1 858.4 262.6 853.2C262.1 848.1 262.2 838.6 262.6 832.6C263 826.6 263.7 821.5 264.7 817.2C265.7 812.9 268.5 810.2 268.8 806.9C269.1 803.6 267.1 801 266.7 797.6C266.3 794.2 266 789.5 266.7 786.3C267.4 783 269.2 780 270.9 778.1C272.6 776.2 274.4 775 277 775Z" fill="url(#lgR)"/><g clip-path="url(#clL)" fill="none"><path d="M242 778Q252 790 250 806L262 800 258 772Z" fill="#b9474a" opacity="0.55"/><path d="M245 842Q253 852 249 866L238 872Z" fill="#b9474a" opacity="0.5"/><path d="M196 826Q214 846 251 838" stroke="#c94a4d" stroke-width="1.5" opacity="0.9"/><path d="M188 862Q200 878 216 880" stroke="#c94a4d" stroke-width="1.4" opacity="0.9"/></g><g clip-path="url(#clR)" fill="none"><path d="M266 778Q262 795 269 808Q262 822 262 845Q262 862 276 870Q284 860 281 842Q279 820 272 806Q277 792 277 774Z" fill="#a94346" opacity="0.7"/><path d="M322 838Q322 866 303 881" stroke="#c94a4d" stroke-width="1.4" opacity="0.9"/></g></g>
<clipPath id="ctc2"><rect x="0" y="0" width="366.8" height="267"/></clipPath><clipPath id="ctl2"><path d="M149 36.8C156.5 35 160.7 37.3 166 38C171.3 38.7 179.3 38.3 181 40.8C182.7 43.3 178.5 48.3 176 52.8C173.5 57.3 168.8 62.8 166 67.8C163.2 72.8 160.8 77 159 82.8C157.2 88.6 157 97 155 102.8C153 108.6 148.7 112.4 147 117.8C145.3 123.2 142.8 129.5 145 135C147.2 140.5 156.6 145.6 160.1 150.8C163.6 156 165.2 160.7 166 166C166.8 171.3 165.8 176.7 165 182.8C164.2 188.9 163.3 197.3 161 202.8C158.7 208.3 155.2 213 151 215.8C146.8 218.6 141 219.8 136 219.8C131 219.8 126.8 219 121 215.8C115.2 212.6 106.8 207.1 101 200.8C95.2 194.5 89.7 185.8 86 177.8C82.3 169.8 80.7 161.1 79 152.8C77.3 144.5 75.7 135.5 76 128C76.3 120.5 79 114.5 81 107.8C83 101.1 84.7 94.5 88 87.8C91.3 81.1 95.5 74.3 101 67.8C106.5 61.3 113 54 121 48.8C129 43.6 141.5 38.6 149 36.8Z"/><path d="M191.6 42.6C195.1 38.4 212.6 39.7 223.1 41.6C233.6 43.5 245.5 47.6 254.6 54.2C263.7 60.9 271.8 71 277.7 81.5C283.6 92 287.5 105.7 290.3 117.2C293.1 128.8 295.2 139.6 294.5 150.8C293.8 162 291 174.3 286.1 184.5C281.2 194.7 273.2 205.2 265.1 211.8C257.1 218.5 246.6 223.4 237.8 224.4C229.1 225.4 218.6 222.3 212.6 218.1C206.6 213.9 203.5 204.8 202.1 199.2C200.7 193.6 199.6 188.3 204.2 184.5C208.8 180.7 223.8 180.7 229.4 176.1C235 171.5 238.9 162.8 237.8 157.2C236.8 151.6 225.9 149.1 223.1 142.4C220.3 135.7 222.8 125.6 221 117.2C219.2 108.8 215.8 100.4 212.6 92C209.4 83.6 205.6 75 202.1 66.8C198.6 58.6 188.1 46.8 191.6 42.6Z"/></clipPath><g transform="translate(1469,657.2)" clip-path="url(#ctc2)"><rect width="366.8" height="267" fill="#000"/><circle cx="183" cy="133" r="224" fill="#262b2e"/><path d="M0 0H16L0 28ZM0 212L34 267H0ZM366.8 245V267H355Z" fill="#000"/><path d="M0 200Q60 215 118 250" stroke="#4a5053" stroke-width="7" fill="none" opacity="0.8"/><path d="M3 223Q181 306 367 226" stroke="#d3d6d7" stroke-width="2.8" fill="none"/><path d="M0 236Q181 312 367 242" stroke="#565c5f" stroke-width="1.5" fill="none"/><path d="M10 95Q30 80 45 60Q60 40 80 45M280 20Q300 10 320 30Q335 50 350 45M150 8Q180 0 200 8" stroke="#50575a" stroke-width="0.9" fill="none"/><path d="M191 15.8C204.8 16.4 227.5 13.5 244.1 16.4C260.6 19.3 276.3 24.8 290.3 33.2C304.3 41.6 318.4 54.2 328.2 66.8C338 79.4 343.2 98.3 349.2 108.8C355.1 119.3 361.4 122.1 363.9 129.8C366.3 137.5 367 145.9 363.9 155C360.8 164.1 354.5 174.3 345 184.5C335.5 194.7 322.2 206.6 307.1 216C292 225.4 273.9 234.6 254.6 241.2C235.2 247.8 208.3 253.7 191 255.8C173.7 257.9 162.7 255.1 151 253.8C139.3 252.5 131 251 121 247.8C111 244.6 100.2 239.6 91 234.8C81.8 230 74.3 224.8 66 218.8C57.7 212.8 48.5 206.1 41 198.8C33.5 191.5 26.2 183.3 21 174.8C15.8 166.3 12.2 156.3 10 147.8C7.8 139.3 7.8 129 8 124C8.2 119 8.3 120.4 11 118C13.7 115.6 20.7 114 24 109.8C27.3 105.6 27.8 99.3 31 92.8C34.2 86.3 38 77.8 43 70.8C48 63.8 54.7 57.1 61 50.8C67.3 44.5 73.5 38 81 32.8C88.5 27.6 97.7 23 106 19.8C114.3 16.6 121.8 15 131 13.8C140.2 12.6 151 12.5 161 12.8C171 13.1 177.2 15.2 191 15.8Z" fill="#c8cccd" stroke="#dcdedf" stroke-width="1"/><path d="M191 15.8C204.8 16.4 227.5 13.5 244.1 16.4C260.6 19.3 276.3 24.8 290.3 33.2C304.3 41.6 318.4 54.2 328.2 66.8C338 79.4 343.2 98.3 349.2 108.8C355.1 119.3 361.4 122.1 363.9 129.8C366.3 137.5 367 145.9 363.9 155C360.8 164.1 354.5 174.3 345 184.5C335.5 194.7 322.2 206.6 307.1 216C292 225.4 273.9 234.6 254.6 241.2C235.2 247.8 208.3 253.7 191 255.8C173.7 257.9 162.7 255.1 151 253.8C139.3 252.5 131 251 121 247.8C111 244.6 100.2 239.6 91 234.8C81.8 230 74.3 224.8 66 218.8C57.7 212.8 48.5 206.1 41 198.8C33.5 191.5 26.2 183.3 21 174.8C15.8 166.3 12.2 156.3 10 147.8C7.8 139.3 7.8 129 8 124C8.2 119 8.3 120.4 11 118C13.7 115.6 20.7 114 24 109.8C27.3 105.6 27.8 99.3 31 92.8C34.2 86.3 38 77.8 43 70.8C48 63.8 54.7 57.1 61 50.8C67.3 44.5 73.5 38 81 32.8C88.5 27.6 97.7 23 106 19.8C114.3 16.6 121.8 15 131 13.8C140.2 12.6 151 12.5 161 12.8C171 13.1 177.2 15.2 191 15.8Z" fill="none" stroke="#d8dadb" stroke-width="11" opacity="0.95" transform="translate(31.1,24) scale(0.83,0.82)"/><ellipse cx="186" cy="100" rx="36" ry="62" fill="#d9dcdd"/><path d="M149 36.8C156.5 35 160.7 37.3 166 38C171.3 38.7 179.3 38.3 181 40.8C182.7 43.3 178.5 48.3 176 52.8C173.5 57.3 168.8 62.8 166 67.8C163.2 72.8 160.8 77 159 82.8C157.2 88.6 157 97 155 102.8C153 108.6 148.7 112.4 147 117.8C145.3 123.2 142.8 129.5 145 135C147.2 140.5 156.6 145.6 160.1 150.8C163.6 156 165.2 160.7 166 166C166.8 171.3 165.8 176.7 165 182.8C164.2 188.9 163.3 197.3 161 202.8C158.7 208.3 155.2 213 151 215.8C146.8 218.6 141 219.8 136 219.8C131 219.8 126.8 219 121 215.8C115.2 212.6 106.8 207.1 101 200.8C95.2 194.5 89.7 185.8 86 177.8C82.3 169.8 80.7 161.1 79 152.8C77.3 144.5 75.7 135.5 76 128C76.3 120.5 79 114.5 81 107.8C83 101.1 84.7 94.5 88 87.8C91.3 81.1 95.5 74.3 101 67.8C106.5 61.3 113 54 121 48.8C129 43.6 141.5 38.6 149 36.8Z" fill="#353b3e"/><path d="M191.6 42.6C195.1 38.4 212.6 39.7 223.1 41.6C233.6 43.5 245.5 47.6 254.6 54.2C263.7 60.9 271.8 71 277.7 81.5C283.6 92 287.5 105.7 290.3 117.2C293.1 128.8 295.2 139.6 294.5 150.8C293.8 162 291 174.3 286.1 184.5C281.2 194.7 273.2 205.2 265.1 211.8C257.1 218.5 246.6 223.4 237.8 224.4C229.1 225.4 218.6 222.3 212.6 218.1C206.6 213.9 203.5 204.8 202.1 199.2C200.7 193.6 199.6 188.3 204.2 184.5C208.8 180.7 223.8 180.7 229.4 176.1C235 171.5 238.9 162.8 237.8 157.2C236.8 151.6 225.9 149.1 223.1 142.4C220.3 135.7 222.8 125.6 221 117.2C219.2 108.8 215.8 100.4 212.6 92C209.4 83.6 205.6 75 202.1 66.8C198.6 58.6 188.1 46.8 191.6 42.6Z" fill="#353b3e"/><g clip-path="url(#ctl2)"><path d="M124.6 105.1l4.9 2.3M76.7 128.8l-1.8 0.6M134.2 149.6l3.2 0.4M149.9 119.5l-1.4 1.7M101 57.1l-0.1 5.7M138 178.5l1.7 4.5M86.7 90.1l-2.5 4.1M120.3 52.9l1.6 1.8M105.5 184.9l4.4 3.2M168.3 46.8l1.4 3.4M78.5 114.5l-1.9 0.6M138.7 59l-1.4 5.4M97.3 38.3l3.8 1M77.8 52.3l0.1 5.6M120.1 109.7l-0.8 1.7M136.9 68.4l-1.9 5.5M81.7 138.4l-0.7 2.1M104.2 218.9l-2 0M150.1 210.8l3.1 2.9M80.5 103.8l-2.2 3.5M157.3 52.7l2.5 4.8M137.3 119.4l1.8 5.7M136.3 40.2l-2.4 1.8M121.5 75.9l0.5 2.9M85.3 152l4.8 1.6M78.7 179.7l-3.1 2.1M150.5 82.2l-2.3 2.5M100.3 213.2l1 3M166.3 104.4l-1.1 2M164.5 84.2l5.8 0.9M94.1 210l-4.2 0.2M77.2 47.9l2.6 2M140.2 213.7l0.9 1.9M135 61.9l3.9 1.1M149.1 48.8l0.7 4.6M156.2 106.9l-2.1 0.8M151.1 178l-3.5 1.4M86.4 45.7l-0.2 2.3M142.1 52.2l-1.9 1.6M77.4 69l0.5 4M116.8 68.5l0.3 5.7M132.2 209.1l5.9 0.5M169.3 136.4l-0.3 3.9M171.5 48.8l-1.7 3.5M107.5 169.5l-1.3 1.5M149.4 119.8l0.1 4.4M81.6 147.1l2.1 5M100.3 187.4l-2.8 3.2M168 43.4l-1.3 4.1M147.2 111.2l2.3 0.5M139.9 70l3 0.6M125.4 134.8l5 0.4M111.1 180.1l5.8 0.2M138 215.5l-5.2 0.2M87.2 100.6l3.7 3.3M96.2 77.3l1.9 0.7M174.5 215.4l1.9 4.5M125.1 132.3l1.7 4M100.8 83.7l-0.1 2.4M122.1 209.5l2 0.1M160 47.4l3.8 3.8M139.6 77.2l2.7 0.5M107.5 183.3l-5 0.4M170.7 207.1l-5.2 2.1M177.6 54.1l1.4 2.2M139.4 126.8l2.4 4.7M117.9 75l2.3 2.7M140.1 140.8l0.4 2.3M118.2 96.3l3.4 2M95.8 167l-1 1.9M141.7 98.6l0.7 4.2M156 198.5l-1.6 1.8M132.9 98.2l4 0.2M125.4 195.4l2.8 4.5M130 54.9l-1.8 2.2M132 49.9l5.6 0.2M80.4 64.1l1.7 0.9M162.5 218.9l-1.5 2.9M169.3 129.4l4.2 1.9M113.7 86.2l1.7 2.7" stroke="#6d7376" stroke-width="0.9" fill="none" stroke-linecap="round"/><path d="M210.4 153.6l-3.7 1.6M192.6 166.7l3.6 0.2M280.7 165.4l-4.7 1.4M219.7 67.9l0.7 4.5M215.5 102.1l-2.2 2.2M253.4 141.3l-1.6 0.4M210.8 183.9l-1 1.7M205.4 80.1l-0.8 5.5M213.9 78.7l-1.9 2.8M278.7 224.2l-4.6 0.9M242.7 52.7l-2.7 1.9M239.3 157.2l-4 0.5M286 217.8l3 0.8M283 181.9l-2.3 0.2M246.3 212.1l-0.6 4.5M291.9 73.3l5.3 0.9M251.4 78.2l-2.4 1.4M205 96l3.3 0.4M271.8 124.6l-1.7 0.2M209.4 67.9l-0.6 2.3M260.3 137.2l-1.3 5.1M272.9 210.2l2.8 1.5M290.4 114.1l2.3 2.9M210.2 196.7l-0.8 1.8M290.8 136.7l3 3M289.3 105l2.4 0.1M197.6 138.2l3 4.4M212.8 44.4l0.2 2M223.5 82.8l3.7 2.3M287.9 109.3l-1.2 2.7M285.8 142.7l4.8 0.4M213.2 50.2l5.3 0.3M264.6 107.1l-0.8 4.6M199.4 170.6l-3.5 4.5M197.7 146.2l-0.1 5.3M229.1 162.7l-2.9 1M244.6 204.9l5.8 0.6M223.8 125.2l3.1 4M246.4 178.3l5.2 1.8M276.1 166l2 1.7M238.1 53.5l-3.3 0.5M289.7 75l-2.3 4.6M257.9 118.9l3.5 0.2M231.7 214.3l-5.8 0.5M292.5 72.5l2.8 0.3M192.4 63.3l-0.6 2.3M254.4 111.2l3.8 4.4M210.8 202.9l-0.4 4.5M206.4 177.8l-2.2 0.8M240.2 161l0.4 4.9M257.9 99l-2.7 4.2M239.3 149.5l-1.5 3.3M200.7 116.1l-3.6 3.1M199.2 129l-1.1 3.8M207 159.8l-2.3 3.2M288.3 147.2l2.8 0.1M263.8 56.2l-4.6 0.5M270.3 72.7l5.4 0.1M244.2 122.4l-0.3 4.9M229.9 182.9l5.2 2.9M263.2 99.8l0.4 5.5M225.1 169.4l-5.6 1.6M217.9 186.9l-1.7 4.8M198.8 117.1l0.8 5.1M238.1 49.3l4.2 3.2M282.4 146.5l4.8 1.2M280.7 94.1l0.2 2.8M197.1 175.8l1.7 0.9M285.2 59.2l-3.8 3.5M217.4 109.6l3.6 3M291.8 177.6l0.1 3.9M233.6 172.2l1.7 2M263.3 88.2l-4.8 0.2M210.5 45.5l-0.6 2M243 151.3l-2.7 1.8M247.8 190.5l2.7 1.2M274.8 107.1l-1.8 0.4M200.3 108l0.4 3.1M214.3 123.5l-5.4 1.9M256 88.5l-0.6 2.1M198.1 186.9l1.5 1.7M276 64l1.6 1.5M283.4 166.2l1.5 1M284.9 65.1l-2.9 3.6M252.1 129.1l0.7 2.7M258.1 69.1l0.2 2.7M229.4 204.4l-0.9 4.3M258.2 41.9l-4.2 3.4M268.4 137.1l-5.1 2.7M220.1 71.6l0.8 1.4" stroke="#6d7376" stroke-width="0.9" fill="none" stroke-linecap="round"/><path d="M150 146L120 168 100 176M156 160L140 190 128 208M166 170L168 200M136 100L150 112M240 66L228 82M262 92L244 108M230 150L262 140 285 146M226 170L250 200M215 190L222 215" stroke="#a9aeb0" stroke-width="1.2" fill="none" stroke-linecap="round"/></g><ellipse cx="101.3" cy="66.8" rx="9.5" ry="3" fill="#f6f6f6" transform="rotate(-55 101.3 66.8)"/><ellipse cx="101.3" cy="66.8" rx="6.5" ry="1.1" fill="#b9bdbf" transform="rotate(-55 101.3 66.8)"/><ellipse cx="77" cy="112" rx="9.5" ry="3" fill="#f6f6f6" transform="rotate(-78 77 112)"/><ellipse cx="77" cy="112" rx="6.5" ry="1.1" fill="#b9bdbf" transform="rotate(-78 77 112)"/><ellipse cx="69.7" cy="142.4" rx="9.5" ry="3" fill="#f6f6f6" transform="rotate(-88 69.7 142.4)"/><ellipse cx="69.7" cy="142.4" rx="6.5" ry="1.1" fill="#b9bdbf" transform="rotate(-88 69.7 142.4)"/><ellipse cx="77.1" cy="169.7" rx="9.5" ry="3" fill="#f6f6f6" transform="rotate(70 77.1 169.7)"/><ellipse cx="77.1" cy="169.7" rx="6.5" ry="1.1" fill="#b9bdbf" transform="rotate(70 77.1 169.7)"/><ellipse cx="95" cy="209.7" rx="9.5" ry="3" fill="#f6f6f6" transform="rotate(48 95 209.7)"/><ellipse cx="95" cy="209.7" rx="6.5" ry="1.1" fill="#b9bdbf" transform="rotate(48 95 209.7)"/><ellipse cx="273.5" cy="66.8" rx="9.5" ry="3" fill="#f6f6f6" transform="rotate(55 273.5 66.8)"/><ellipse cx="273.5" cy="66.8" rx="6.5" ry="1.1" fill="#b9bdbf" transform="rotate(55 273.5 66.8)"/><ellipse cx="292" cy="112" rx="9.5" ry="3" fill="#f6f6f6" transform="rotate(76 292 112)"/><ellipse cx="292" cy="112" rx="6.5" ry="1.1" fill="#b9bdbf" transform="rotate(76 292 112)"/><ellipse cx="297.7" cy="146.6" rx="9.5" ry="3" fill="#f6f6f6" transform="rotate(88 297.7 146.6)"/><ellipse cx="297.7" cy="146.6" rx="6.5" ry="1.1" fill="#b9bdbf" transform="rotate(88 297.7 146.6)"/><ellipse cx="290.3" cy="178.2" rx="9.5" ry="3" fill="#f6f6f6" transform="rotate(-70 290.3 178.2)"/><ellipse cx="290.3" cy="178.2" rx="6.5" ry="1.1" fill="#b9bdbf" transform="rotate(-70 290.3 178.2)"/><ellipse cx="273.5" cy="211.8" rx="9.5" ry="3" fill="#f6f6f6" transform="rotate(-48 273.5 211.8)"/><ellipse cx="273.5" cy="211.8" rx="6.5" ry="1.1" fill="#b9bdbf" transform="rotate(-48 273.5 211.8)"/><path d="M52 158Q58 180 72 198" stroke="#f2f2f2" stroke-width="4" fill="none" stroke-linecap="round"/><path d="M322 158Q314 180 298 198" stroke="#f2f2f2" stroke-width="4" fill="none" stroke-linecap="round"/><ellipse cx="44" cy="152" rx="12" ry="20" fill="#d3d7d8" transform="rotate(10 44 152)"/><ellipse cx="324" cy="152" rx="12" ry="20" fill="#d3d7d8" transform="rotate(-10 324 152)"/><rect x="174" y="30.5" width="25" height="9" rx="3" fill="#dfe1e2" stroke="#fafafa" stroke-width="2"/><ellipse cx="178" cy="86" rx="17" ry="17" fill="#e3e5e6"/><ellipse cx="205" cy="92" rx="10" ry="12" fill="#e3e5e6"/><ellipse cx="196" cy="120" rx="28" ry="20" fill="#e0e2e3"/><path d="M146 118Q160 126 160 146L150 150Q144 134 146 118Z" fill="#dcdfe0"/><path d="M222 118Q238 112 240 124L228 134Z" fill="#dcdfe0"/><ellipse cx="232" cy="156" rx="8" ry="9" fill="#d9dcdd"/><ellipse cx="163.2" cy="141.4" rx="7" ry="5.2" fill="#0c0c0c" stroke="#e6e6e6" stroke-width="1.5"/><path d="M176 150L205 152 222 160" stroke="#14181a" stroke-width="3" fill="none"/><ellipse cx="210.5" cy="171.8" rx="13" ry="13" fill="#dcdfe0"/><path d="M170 168Q183 160 197 168L201 200Q192 214 183 206Q174 214 166 200Z" fill="#e4e6e6" stroke="#f8f8f8" stroke-width="2"/><ellipse cx="183.2" cy="163" rx="9" ry="6.5" fill="#fafafa"/><ellipse cx="183.2" cy="212" rx="8" ry="7" fill="#c9cdce"/><path d="M166 224Q175 216 183 224Q192 216 200 224Q192 234 183 230Q175 234 166 224Z" fill="#f0f0f0"/><ellipse cx="184" cy="240" rx="2.6" ry="3" fill="#f4f4f4"/><path d="M143 71Q147 65 154 68Q159 72 156 79Q151 84 145 81Q141 77 143 71Z" fill="#dfe1e2"/><path d="M158 64L153 70M140 86L146 80" stroke="#bfc3c5" stroke-width="1.2"/><rect x="136.6" y="61" width="26.2" height="28.3" fill="none" stroke="#d8392b" stroke-width="1.1"/></g>
<path d="M1421.4 1212H1682.2L1818 1294.3H1285.9Z" fill="#dfe7f2"/>
<text x="1461.9" y="977.3" font-size="32.3" textLength="330.5" lengthAdjust="spacingAndGlyphs">Nodule type: Pure-solid</text><text x="1461.9" y="1034" font-size="32.3" textLength="289" lengthAdjust="spacingAndGlyphs">Solid size: 20.40 mm</text><text x="1461.9" y="1090.8" font-size="32.3" textLength="366.5" lengthAdjust="spacingAndGlyphs">Location: Right upper lobe</text><text x="1461.9" y="1147.5" font-size="32.3" textLength="380.5" lengthAdjust="spacingAndGlyphs">Histology: Adenocarcinoma</text><text x="1461.9" y="1204.3" font-size="32.3" textLength="372" lengthAdjust="spacingAndGlyphs">clinic-RadmC score: 98.69</text>
<path d="M1161.6 1389.5L1224.5 1389.5L1234.4 1408.8L1224.5 1428.2L1161.6 1428.2Z" fill="#b92b27" stroke="#000" stroke-width="2.9" stroke-linejoin="miter"/><path d="M1236.2 1389.5L1347.5 1389.5L1357.8 1408.8L1347.5 1428.2L1236.2 1428.2Z" fill="#b92b27" stroke="#000" stroke-width="2.9" stroke-linejoin="miter"/><path d="M1359.6 1389.5L1582 1389.5L1592.3 1408.8L1582 1428.2L1359.6 1428.2Z" fill="#b92b27" stroke="#000" stroke-width="2.9" stroke-linejoin="miter"/><path d="M1594 1389.5L1885 1389.5L1895.6 1408.8L1885 1428.2L1594 1428.2Z" fill="#b92b27" stroke="#000" stroke-width="2.9" stroke-linejoin="miter"/><path d="M1161.6 1427V1432.5M1161.6 1443V1452.5H1165M1895.8 1412V1420M1895.8 1427V1445" stroke="#000" stroke-width="2.4" fill="none"/><path d="M1186.8 1364.5L1198.3 1396.3M1369.5 1322.5L1298.8 1396.3M1502.5 1358.8L1462.5 1388M1745 1364.5V1396.3" stroke="#3a3a3a" stroke-width="0.9" fill="none"/><text x="1233.8" y="1322.3" font-size="26.68" textLength="259" lengthAdjust="spacingAndGlyphs">6bp-5mC score=88.07</text><text x="1061.6" y="1359" font-size="26.68" textLength="187.5" lengthAdjust="spacingAndGlyphs">solid size=20.40</text><text x="1482" y="1359" font-size="26.68" textLength="89" lengthAdjust="spacingAndGlyphs">age=69</text><text x="1631.4" y="1359.3" font-size="26.68" textLength="305" lengthAdjust="spacingAndGlyphs">DL-radiomics score=62.72</text><text x="1198.3" y="1414.6" font-size="19.17" text-anchor="middle" fill="#fff" textLength="56.8" lengthAdjust="spacingAndGlyphs">+0.021</text><text x="1297.9" y="1417.6" font-size="26.47" text-anchor="middle" fill="#fff" textLength="92.5" lengthAdjust="spacingAndGlyphs">+0.0344</text><text x="1476.2" y="1417.6" font-size="26.47" text-anchor="middle" fill="#fff" textLength="92.5" lengthAdjust="spacingAndGlyphs">+0.0652</text><text x="1744.7" y="1417.6" font-size="26.47" text-anchor="middle" fill="#fff" textLength="92.5" lengthAdjust="spacingAndGlyphs">+0.0844</text><text x="1089.3" y="1466.3" font-size="26.68" textLength="149.5" lengthAdjust="spacingAndGlyphs">E[f(x)]=0.772</text><text x="1851.6" y="1467" font-size="26.68" textLength="117" lengthAdjust="spacingAndGlyphs">f(x)=0.977</text><rect x="1065.8" y="1487.9" width="926.2" height="4.2" fill="#000"/><rect x="1080.5" y="1491.5" width="4" height="4.2" fill="#3a3f42"/><text x="1078" y="1520.2" font-size="26.47" text-anchor="middle" fill="#231815" textLength="49.4" lengthAdjust="spacingAndGlyphs">0.75</text><rect x="1259.8" y="1491.5" width="4" height="4.2" fill="#3a3f42"/><text x="1257.2" y="1520.2" font-size="26.47" text-anchor="middle" fill="#231815" textLength="49.4" lengthAdjust="spacingAndGlyphs">0.80</text><rect x="1439" y="1491.5" width="4" height="4.2" fill="#3a3f42"/><text x="1436.5" y="1520.2" font-size="26.47" text-anchor="middle" fill="#231815" textLength="49.4" lengthAdjust="spacingAndGlyphs">0.85</text><rect x="1618.2" y="1491.5" width="4" height="4.2" fill="#3a3f42"/><text x="1615.8" y="1520.2" font-size="26.47" text-anchor="middle" fill="#231815" textLength="49.4" lengthAdjust="spacingAndGlyphs">0.90</text><rect x="1797.5" y="1491.5" width="4" height="4.2" fill="#3a3f42"/><text x="1795" y="1520.2" font-size="26.47" text-anchor="middle" fill="#231815" textLength="49.4" lengthAdjust="spacingAndGlyphs">0.95</text><rect x="1976.8" y="1491.5" width="4" height="4.2" fill="#3a3f42"/><text x="1974.2" y="1520.2" font-size="26.47" text-anchor="middle" fill="#231815" textLength="49.4" lengthAdjust="spacingAndGlyphs">1.00</text><text x="1464" y="1553.6" font-size="27.09" textLength="145" lengthAdjust="spacingAndGlyphs">SHAP value</text>
</svg>
</body></html>
